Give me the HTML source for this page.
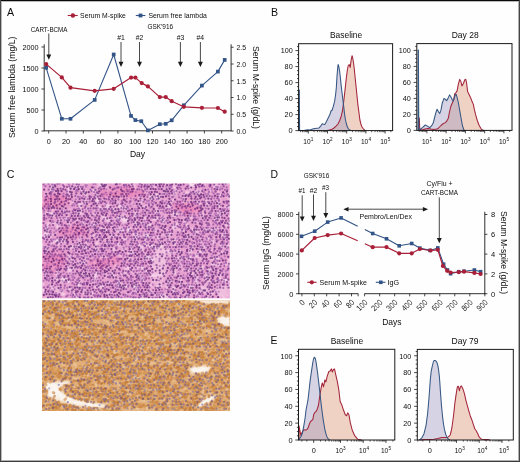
<!DOCTYPE html>
<html><head><meta charset="utf-8"><style>
html,body{margin:0;padding:0;background:#fff;}
svg{display:block;font-family:"Liberation Sans",sans-serif;}
text{-webkit-font-smoothing:antialiased;}
</style></head><body>
<div style="will-change:transform;width:520px;height:462px;background:#fff">
<svg width="520" height="462" viewBox="0 0 520 462">
<rect x="0" y="0" width="520" height="462" fill="#fefefe"/>
<text x="7.00" y="16.20" font-size="10.6" text-anchor="start" fill="#0d0d0d">A</text>
<line x1="67.70" y1="15.50" x2="77.70" y2="15.50" stroke="#a91f38" stroke-width="1.1"/>
<circle cx="72.90" cy="15.50" r="2.2" fill="#a91f38"/>
<text x="80.10" y="17.60" font-size="7.5" text-anchor="start" fill="#0d0d0d" textLength="45.80" lengthAdjust="spacingAndGlyphs">Serum M-spike</text>
<line x1="135.80" y1="15.50" x2="145.40" y2="15.50" stroke="#335487" stroke-width="1.1"/>
<rect x="138.60" y="13.60" width="3.8" height="3.8" fill="#335487"/>
<text x="148.40" y="17.60" font-size="7.5" text-anchor="start" fill="#0d0d0d" textLength="58.40" lengthAdjust="spacingAndGlyphs">Serum free lambda</text>
<text x="147.50" y="28.80" font-size="6.8" text-anchor="start" fill="#0d0d0d" textLength="25.60" lengthAdjust="spacingAndGlyphs">GSK'916</text>
<text x="30.70" y="31.60" font-size="6.7" text-anchor="start" fill="#0d0d0d" textLength="36.80" lengthAdjust="spacingAndGlyphs">CART-BCMA</text>
<text x="121.00" y="39.80" font-size="6.8" text-anchor="middle" fill="#0d0d0d" textLength="7.60" lengthAdjust="spacingAndGlyphs">#1</text>
<text x="139.50" y="39.80" font-size="6.8" text-anchor="middle" fill="#0d0d0d" textLength="7.60" lengthAdjust="spacingAndGlyphs">#2</text>
<text x="180.50" y="39.80" font-size="6.8" text-anchor="middle" fill="#0d0d0d" textLength="7.60" lengthAdjust="spacingAndGlyphs">#3</text>
<text x="200.30" y="39.80" font-size="6.8" text-anchor="middle" fill="#0d0d0d" textLength="7.60" lengthAdjust="spacingAndGlyphs">#4</text>
<line x1="48.80" y1="33.50" x2="48.80" y2="55.00" stroke="#1a1a1a" stroke-width="0.8"/>
<path d="M46.35,54.50 L51.25,54.50 L48.80,59.70 Z" fill="#1a1a1a"/>
<line x1="121.00" y1="42.00" x2="121.00" y2="62.20" stroke="#1a1a1a" stroke-width="0.8"/>
<path d="M118.55,61.70 L123.45,61.70 L121.00,66.90 Z" fill="#1a1a1a"/>
<line x1="139.50" y1="42.00" x2="139.50" y2="62.20" stroke="#1a1a1a" stroke-width="0.8"/>
<path d="M137.05,61.70 L141.95,61.70 L139.50,66.90 Z" fill="#1a1a1a"/>
<line x1="180.40" y1="42.00" x2="180.40" y2="62.20" stroke="#1a1a1a" stroke-width="0.8"/>
<path d="M177.95,61.70 L182.85,61.70 L180.40,66.90 Z" fill="#1a1a1a"/>
<line x1="200.40" y1="42.00" x2="200.40" y2="62.20" stroke="#1a1a1a" stroke-width="0.8"/>
<path d="M197.95,61.70 L202.85,61.70 L200.40,66.90 Z" fill="#1a1a1a"/>
<line x1="44.20" y1="44.30" x2="44.20" y2="131.20" stroke="#1a1a1a" stroke-width="0.9"/>
<line x1="43.80" y1="130.80" x2="231.30" y2="130.80" stroke="#1a1a1a" stroke-width="0.9"/>
<line x1="231.10" y1="44.30" x2="231.10" y2="131.20" stroke="#1a1a1a" stroke-width="0.9"/>
<line x1="41.40" y1="131.00" x2="44.20" y2="131.00" stroke="#1a1a1a" stroke-width="0.8"/>
<text x="38.60" y="133.80" font-size="8.1" text-anchor="end" fill="#0d0d0d" textLength="4.05" lengthAdjust="spacingAndGlyphs">0</text>
<line x1="41.40" y1="110.00" x2="44.20" y2="110.00" stroke="#1a1a1a" stroke-width="0.8"/>
<text x="38.60" y="112.80" font-size="8.1" text-anchor="end" fill="#0d0d0d" textLength="12.15" lengthAdjust="spacingAndGlyphs">500</text>
<line x1="41.40" y1="89.00" x2="44.20" y2="89.00" stroke="#1a1a1a" stroke-width="0.8"/>
<text x="38.60" y="91.80" font-size="8.1" text-anchor="end" fill="#0d0d0d" textLength="16.20" lengthAdjust="spacingAndGlyphs">1000</text>
<line x1="41.40" y1="68.00" x2="44.20" y2="68.00" stroke="#1a1a1a" stroke-width="0.8"/>
<text x="38.60" y="70.80" font-size="8.1" text-anchor="end" fill="#0d0d0d" textLength="16.20" lengthAdjust="spacingAndGlyphs">1500</text>
<line x1="41.40" y1="47.00" x2="44.20" y2="47.00" stroke="#1a1a1a" stroke-width="0.8"/>
<text x="38.60" y="49.80" font-size="8.1" text-anchor="end" fill="#0d0d0d" textLength="16.20" lengthAdjust="spacingAndGlyphs">2000</text>
<line x1="48.70" y1="130.80" x2="48.70" y2="133.50" stroke="#1a1a1a" stroke-width="0.8"/>
<text x="48.70" y="144.00" font-size="8.1" text-anchor="middle" fill="#0d0d0d" textLength="4.05" lengthAdjust="spacingAndGlyphs">0</text>
<line x1="66.00" y1="130.80" x2="66.00" y2="133.50" stroke="#1a1a1a" stroke-width="0.8"/>
<text x="66.00" y="144.00" font-size="8.1" text-anchor="middle" fill="#0d0d0d" textLength="8.10" lengthAdjust="spacingAndGlyphs">20</text>
<line x1="83.30" y1="130.80" x2="83.30" y2="133.50" stroke="#1a1a1a" stroke-width="0.8"/>
<text x="83.30" y="144.00" font-size="8.1" text-anchor="middle" fill="#0d0d0d" textLength="8.10" lengthAdjust="spacingAndGlyphs">40</text>
<line x1="100.60" y1="130.80" x2="100.60" y2="133.50" stroke="#1a1a1a" stroke-width="0.8"/>
<text x="100.60" y="144.00" font-size="8.1" text-anchor="middle" fill="#0d0d0d" textLength="8.10" lengthAdjust="spacingAndGlyphs">60</text>
<line x1="117.90" y1="130.80" x2="117.90" y2="133.50" stroke="#1a1a1a" stroke-width="0.8"/>
<text x="117.90" y="144.00" font-size="8.1" text-anchor="middle" fill="#0d0d0d" textLength="8.10" lengthAdjust="spacingAndGlyphs">80</text>
<line x1="135.20" y1="130.80" x2="135.20" y2="133.50" stroke="#1a1a1a" stroke-width="0.8"/>
<text x="135.20" y="144.00" font-size="8.1" text-anchor="middle" fill="#0d0d0d" textLength="12.15" lengthAdjust="spacingAndGlyphs">100</text>
<line x1="152.50" y1="130.80" x2="152.50" y2="133.50" stroke="#1a1a1a" stroke-width="0.8"/>
<text x="152.50" y="144.00" font-size="8.1" text-anchor="middle" fill="#0d0d0d" textLength="12.15" lengthAdjust="spacingAndGlyphs">120</text>
<line x1="169.80" y1="130.80" x2="169.80" y2="133.50" stroke="#1a1a1a" stroke-width="0.8"/>
<text x="169.80" y="144.00" font-size="8.1" text-anchor="middle" fill="#0d0d0d" textLength="12.15" lengthAdjust="spacingAndGlyphs">140</text>
<line x1="187.10" y1="130.80" x2="187.10" y2="133.50" stroke="#1a1a1a" stroke-width="0.8"/>
<text x="187.10" y="144.00" font-size="8.1" text-anchor="middle" fill="#0d0d0d" textLength="12.15" lengthAdjust="spacingAndGlyphs">160</text>
<line x1="204.40" y1="130.80" x2="204.40" y2="133.50" stroke="#1a1a1a" stroke-width="0.8"/>
<text x="204.40" y="144.00" font-size="8.1" text-anchor="middle" fill="#0d0d0d" textLength="12.15" lengthAdjust="spacingAndGlyphs">180</text>
<line x1="221.70" y1="130.80" x2="221.70" y2="133.50" stroke="#1a1a1a" stroke-width="0.8"/>
<text x="221.70" y="144.00" font-size="8.1" text-anchor="middle" fill="#0d0d0d" textLength="12.15" lengthAdjust="spacingAndGlyphs">200</text>
<line x1="231.10" y1="131.00" x2="233.60" y2="131.00" stroke="#1a1a1a" stroke-width="0.8"/>
<text x="236.40" y="133.80" font-size="8.1" text-anchor="start" fill="#0d0d0d" textLength="9.60" lengthAdjust="spacingAndGlyphs">0.0</text>
<line x1="231.10" y1="114.25" x2="233.60" y2="114.25" stroke="#1a1a1a" stroke-width="0.8"/>
<text x="236.40" y="117.05" font-size="8.1" text-anchor="start" fill="#0d0d0d" textLength="9.60" lengthAdjust="spacingAndGlyphs">0.5</text>
<line x1="231.10" y1="97.50" x2="233.60" y2="97.50" stroke="#1a1a1a" stroke-width="0.8"/>
<text x="236.40" y="100.30" font-size="8.1" text-anchor="start" fill="#0d0d0d" textLength="9.60" lengthAdjust="spacingAndGlyphs">1.0</text>
<line x1="231.10" y1="80.75" x2="233.60" y2="80.75" stroke="#1a1a1a" stroke-width="0.8"/>
<text x="236.40" y="83.55" font-size="8.1" text-anchor="start" fill="#0d0d0d" textLength="9.60" lengthAdjust="spacingAndGlyphs">1.5</text>
<line x1="231.10" y1="64.00" x2="233.60" y2="64.00" stroke="#1a1a1a" stroke-width="0.8"/>
<text x="236.40" y="66.80" font-size="8.1" text-anchor="start" fill="#0d0d0d" textLength="9.60" lengthAdjust="spacingAndGlyphs">2.0</text>
<line x1="231.10" y1="47.25" x2="233.60" y2="47.25" stroke="#1a1a1a" stroke-width="0.8"/>
<text x="236.40" y="50.05" font-size="8.1" text-anchor="start" fill="#0d0d0d" textLength="9.60" lengthAdjust="spacingAndGlyphs">2.5</text>
<text x="129.90" y="156.60" font-size="9.8" text-anchor="start" fill="#0d0d0d" textLength="15.20" lengthAdjust="spacingAndGlyphs">Day</text>
<text x="15.10" y="87.30" font-size="9.8" text-anchor="middle" fill="#0d0d0d" textLength="101.50" lengthAdjust="spacingAndGlyphs" transform="rotate(-90 15.10 87.30)">Serum free lambda (mg/L)</text>
<text x="252.60" y="87.50" font-size="9.8" text-anchor="middle" fill="#0d0d0d" textLength="83.00" lengthAdjust="spacingAndGlyphs" transform="rotate(90 252.60 87.50)">Serum M-spike (g/dL)</text>
<polyline points="46.20,67.80 61.80,118.80 70.50,118.80 94.70,99.90 113.70,54.50 131.00,115.90 135.40,120.10 141.30,121.20 147.90,130.40 159.80,124.20 165.75,123.80 171.70,120.30 183.80,105.30 201.90,85.60 217.90,71.60 224.70,59.90" fill="none" stroke="#335487" stroke-width="1.1" stroke-linejoin="round"/>
<rect x="44.35" y="65.95" width="3.7" height="3.7" fill="#335487"/>
<rect x="59.95" y="116.95" width="3.7" height="3.7" fill="#335487"/>
<rect x="68.65" y="116.95" width="3.7" height="3.7" fill="#335487"/>
<rect x="92.85" y="98.05" width="3.7" height="3.7" fill="#335487"/>
<rect x="111.85" y="52.65" width="3.7" height="3.7" fill="#335487"/>
<rect x="129.15" y="114.05" width="3.7" height="3.7" fill="#335487"/>
<rect x="133.55" y="118.25" width="3.7" height="3.7" fill="#335487"/>
<rect x="139.45" y="119.35" width="3.7" height="3.7" fill="#335487"/>
<rect x="146.05" y="128.55" width="3.7" height="3.7" fill="#335487"/>
<rect x="157.95" y="122.35" width="3.7" height="3.7" fill="#335487"/>
<rect x="163.90" y="121.95" width="3.7" height="3.7" fill="#335487"/>
<rect x="169.85" y="118.45" width="3.7" height="3.7" fill="#335487"/>
<rect x="181.95" y="103.45" width="3.7" height="3.7" fill="#335487"/>
<rect x="200.05" y="83.75" width="3.7" height="3.7" fill="#335487"/>
<rect x="216.05" y="69.75" width="3.7" height="3.7" fill="#335487"/>
<rect x="222.85" y="58.05" width="3.7" height="3.7" fill="#335487"/>
<polyline points="46.20,64.10 61.80,77.40 70.50,87.70 94.70,90.80 113.70,88.80 131.10,77.60 135.40,77.60 141.70,83.10 147.90,86.40 159.80,97.10 165.75,97.10 171.70,101.20 183.80,106.80 201.90,107.80 217.90,108.00 224.70,111.70" fill="none" stroke="#a91f38" stroke-width="1.2" stroke-linejoin="round"/>
<circle cx="46.20" cy="64.10" r="2.1" fill="#a91f38"/>
<circle cx="61.80" cy="77.40" r="2.1" fill="#a91f38"/>
<circle cx="70.50" cy="87.70" r="2.1" fill="#a91f38"/>
<circle cx="94.70" cy="90.80" r="2.1" fill="#a91f38"/>
<circle cx="113.70" cy="88.80" r="2.1" fill="#a91f38"/>
<circle cx="131.10" cy="77.60" r="2.1" fill="#a91f38"/>
<circle cx="135.40" cy="77.60" r="2.1" fill="#a91f38"/>
<circle cx="141.70" cy="83.10" r="2.1" fill="#a91f38"/>
<circle cx="147.90" cy="86.40" r="2.1" fill="#a91f38"/>
<circle cx="159.80" cy="97.10" r="2.1" fill="#a91f38"/>
<circle cx="165.75" cy="97.10" r="2.1" fill="#a91f38"/>
<circle cx="171.70" cy="101.20" r="2.1" fill="#a91f38"/>
<circle cx="183.80" cy="106.80" r="2.1" fill="#a91f38"/>
<circle cx="201.90" cy="107.80" r="2.1" fill="#a91f38"/>
<circle cx="217.90" cy="108.00" r="2.1" fill="#a91f38"/>
<circle cx="224.70" cy="111.70" r="2.1" fill="#a91f38"/>
<text x="270.90" y="16.30" font-size="10.6" text-anchor="start" fill="#0d0d0d">B</text>
<text x="330.00" y="38.10" font-size="9.8" text-anchor="start" fill="#0d0d0d" textLength="32.20" lengthAdjust="spacingAndGlyphs">Baseline</text>
<path d="M327.80,130.30 L329.30,130.00 L332.00,129.20 L334.00,128.00 L336.00,126.20 L338.00,124.00 L339.50,121.00 L341.00,117.00 L342.40,111.20 L343.40,104.00 L344.40,95.60 L345.40,86.50 L346.30,78.10 L347.30,70.50 L348.20,65.50 L349.20,64.50 L350.20,67.40 L351.20,59.60 L352.10,55.70 L352.80,58.50 L353.50,62.50 L354.30,69.00 L355.00,76.20 L355.80,84.00 L356.60,91.80 L357.30,99.00 L358.00,105.40 L359.00,113.00 L359.90,120.00 L360.90,124.00 L361.90,126.80 L363.30,128.80 L364.80,130.20 L366.00,130.60 L366.00,130.60 L327.80,130.60 Z" fill="#f0d2c4" fill-opacity="1.0" stroke="none"/>
<path d="M299.10,130.60 L299.10,90.00 L299.30,90.00 L299.60,130.50 L303.60,130.50 L307.90,129.80 L309.80,130.00 L312.70,129.00 L315.00,128.40 L318.90,128.10 L320.60,126.20 L322.20,123.80 L323.60,124.30 L324.80,124.50 L326.50,121.40 L328.40,117.60 L329.80,114.80 L331.00,111.00 L332.20,110.00 L333.10,107.10 L334.60,101.40 L335.50,95.50 L336.30,87.90 L337.00,76.20 L337.60,69.00 L338.10,64.50 L338.80,66.50 L339.50,70.30 L340.30,77.00 L341.00,83.90 L341.70,90.00 L342.40,95.60 L343.10,101.50 L343.80,107.30 L344.50,113.50 L345.30,119.00 L346.30,123.50 L347.30,126.80 L348.20,128.60 L349.20,129.70 L351.00,130.50 L351.00,130.60 L299.10,130.60 Z" fill="#9e98c2" fill-opacity="0.42" stroke="none"/>
<path d="M327.80,130.30 L329.30,130.00 L332.00,129.20 L334.00,128.00 L336.00,126.20 L338.00,124.00 L339.50,121.00 L341.00,117.00 L342.40,111.20 L343.40,104.00 L344.40,95.60 L345.40,86.50 L346.30,78.10 L347.30,70.50 L348.20,65.50 L349.20,64.50 L350.20,67.40 L351.20,59.60 L352.10,55.70 L352.80,58.50 L353.50,62.50 L354.30,69.00 L355.00,76.20 L355.80,84.00 L356.60,91.80 L357.30,99.00 L358.00,105.40 L359.00,113.00 L359.90,120.00 L360.90,124.00 L361.90,126.80 L363.30,128.80 L364.80,130.20 L366.00,130.60" fill="none" stroke="#a3243b" stroke-width="1.05" stroke-linejoin="round"/>
<path d="M299.10,130.60 L299.10,90.00 L299.30,90.00 L299.60,130.50 L303.60,130.50 L307.90,129.80 L309.80,130.00 L312.70,129.00 L315.00,128.40 L318.90,128.10 L320.60,126.20 L322.20,123.80 L323.60,124.30 L324.80,124.50 L326.50,121.40 L328.40,117.60 L329.80,114.80 L331.00,111.00 L332.20,110.00 L333.10,107.10 L334.60,101.40 L335.50,95.50 L336.30,87.90 L337.00,76.20 L337.60,69.00 L338.10,64.50 L338.80,66.50 L339.50,70.30 L340.30,77.00 L341.00,83.90 L341.70,90.00 L342.40,95.60 L343.10,101.50 L343.80,107.30 L344.50,113.50 L345.30,119.00 L346.30,123.50 L347.30,126.80 L348.20,128.60 L349.20,129.70 L351.00,130.50" fill="none" stroke="#365782" stroke-width="1.05" stroke-linejoin="round"/>
<rect x="298.60" y="43.70" width="94.00" height="86.90" fill="none" stroke="#1a1a1a" stroke-width="1.0"/>
<line x1="295.40" y1="130.60" x2="298.60" y2="130.60" stroke="#1a1a1a" stroke-width="0.8"/>
<text x="292.70" y="133.40" font-size="8.1" text-anchor="end" fill="#0d0d0d" textLength="4.15" lengthAdjust="spacingAndGlyphs">0</text>
<line x1="297.00" y1="126.60" x2="298.60" y2="126.60" stroke="#1a1a1a" stroke-width="0.8"/>
<line x1="297.00" y1="122.60" x2="298.60" y2="122.60" stroke="#1a1a1a" stroke-width="0.8"/>
<line x1="297.00" y1="118.60" x2="298.60" y2="118.60" stroke="#1a1a1a" stroke-width="0.8"/>
<line x1="295.40" y1="114.60" x2="298.60" y2="114.60" stroke="#1a1a1a" stroke-width="0.8"/>
<text x="292.70" y="117.40" font-size="8.1" text-anchor="end" fill="#0d0d0d" textLength="8.10" lengthAdjust="spacingAndGlyphs">20</text>
<line x1="297.00" y1="110.60" x2="298.60" y2="110.60" stroke="#1a1a1a" stroke-width="0.8"/>
<line x1="297.00" y1="106.60" x2="298.60" y2="106.60" stroke="#1a1a1a" stroke-width="0.8"/>
<line x1="297.00" y1="102.60" x2="298.60" y2="102.60" stroke="#1a1a1a" stroke-width="0.8"/>
<line x1="295.40" y1="98.60" x2="298.60" y2="98.60" stroke="#1a1a1a" stroke-width="0.8"/>
<text x="292.70" y="101.40" font-size="8.1" text-anchor="end" fill="#0d0d0d" textLength="8.10" lengthAdjust="spacingAndGlyphs">40</text>
<line x1="297.00" y1="94.60" x2="298.60" y2="94.60" stroke="#1a1a1a" stroke-width="0.8"/>
<line x1="297.00" y1="90.60" x2="298.60" y2="90.60" stroke="#1a1a1a" stroke-width="0.8"/>
<line x1="297.00" y1="86.60" x2="298.60" y2="86.60" stroke="#1a1a1a" stroke-width="0.8"/>
<line x1="295.40" y1="82.60" x2="298.60" y2="82.60" stroke="#1a1a1a" stroke-width="0.8"/>
<text x="292.70" y="85.40" font-size="8.1" text-anchor="end" fill="#0d0d0d" textLength="8.10" lengthAdjust="spacingAndGlyphs">60</text>
<line x1="297.00" y1="78.60" x2="298.60" y2="78.60" stroke="#1a1a1a" stroke-width="0.8"/>
<line x1="297.00" y1="74.60" x2="298.60" y2="74.60" stroke="#1a1a1a" stroke-width="0.8"/>
<line x1="297.00" y1="70.60" x2="298.60" y2="70.60" stroke="#1a1a1a" stroke-width="0.8"/>
<line x1="295.40" y1="66.60" x2="298.60" y2="66.60" stroke="#1a1a1a" stroke-width="0.8"/>
<text x="292.70" y="69.40" font-size="8.1" text-anchor="end" fill="#0d0d0d" textLength="8.10" lengthAdjust="spacingAndGlyphs">80</text>
<line x1="297.00" y1="62.60" x2="298.60" y2="62.60" stroke="#1a1a1a" stroke-width="0.8"/>
<line x1="297.00" y1="58.60" x2="298.60" y2="58.60" stroke="#1a1a1a" stroke-width="0.8"/>
<line x1="297.00" y1="54.60" x2="298.60" y2="54.60" stroke="#1a1a1a" stroke-width="0.8"/>
<line x1="295.40" y1="50.60" x2="298.60" y2="50.60" stroke="#1a1a1a" stroke-width="0.8"/>
<text x="292.70" y="53.40" font-size="8.1" text-anchor="end" fill="#0d0d0d" textLength="12.05" lengthAdjust="spacingAndGlyphs">100</text>
<line x1="297.00" y1="46.60" x2="298.60" y2="46.60" stroke="#1a1a1a" stroke-width="0.8"/>
<line x1="300.66" y1="130.60" x2="300.66" y2="132.20" stroke="#1a1a1a" stroke-width="0.7"/>
<line x1="302.52" y1="130.60" x2="302.52" y2="132.20" stroke="#1a1a1a" stroke-width="0.7"/>
<line x1="304.04" y1="130.60" x2="304.04" y2="132.20" stroke="#1a1a1a" stroke-width="0.7"/>
<line x1="305.33" y1="130.60" x2="305.33" y2="132.20" stroke="#1a1a1a" stroke-width="0.7"/>
<line x1="306.44" y1="130.60" x2="306.44" y2="132.20" stroke="#1a1a1a" stroke-width="0.7"/>
<line x1="307.42" y1="130.60" x2="307.42" y2="132.20" stroke="#1a1a1a" stroke-width="0.7"/>
<line x1="308.30" y1="130.60" x2="308.30" y2="133.50" stroke="#1a1a1a" stroke-width="0.8"/>
<line x1="314.08" y1="130.60" x2="314.08" y2="132.20" stroke="#1a1a1a" stroke-width="0.7"/>
<line x1="317.46" y1="130.60" x2="317.46" y2="132.20" stroke="#1a1a1a" stroke-width="0.7"/>
<line x1="319.86" y1="130.60" x2="319.86" y2="132.20" stroke="#1a1a1a" stroke-width="0.7"/>
<line x1="321.72" y1="130.60" x2="321.72" y2="132.20" stroke="#1a1a1a" stroke-width="0.7"/>
<line x1="323.24" y1="130.60" x2="323.24" y2="132.20" stroke="#1a1a1a" stroke-width="0.7"/>
<line x1="324.53" y1="130.60" x2="324.53" y2="132.20" stroke="#1a1a1a" stroke-width="0.7"/>
<line x1="325.64" y1="130.60" x2="325.64" y2="132.20" stroke="#1a1a1a" stroke-width="0.7"/>
<line x1="326.62" y1="130.60" x2="326.62" y2="132.20" stroke="#1a1a1a" stroke-width="0.7"/>
<line x1="327.50" y1="130.60" x2="327.50" y2="133.50" stroke="#1a1a1a" stroke-width="0.8"/>
<line x1="333.28" y1="130.60" x2="333.28" y2="132.20" stroke="#1a1a1a" stroke-width="0.7"/>
<line x1="336.66" y1="130.60" x2="336.66" y2="132.20" stroke="#1a1a1a" stroke-width="0.7"/>
<line x1="339.06" y1="130.60" x2="339.06" y2="132.20" stroke="#1a1a1a" stroke-width="0.7"/>
<line x1="340.92" y1="130.60" x2="340.92" y2="132.20" stroke="#1a1a1a" stroke-width="0.7"/>
<line x1="342.44" y1="130.60" x2="342.44" y2="132.20" stroke="#1a1a1a" stroke-width="0.7"/>
<line x1="343.73" y1="130.60" x2="343.73" y2="132.20" stroke="#1a1a1a" stroke-width="0.7"/>
<line x1="344.84" y1="130.60" x2="344.84" y2="132.20" stroke="#1a1a1a" stroke-width="0.7"/>
<line x1="345.82" y1="130.60" x2="345.82" y2="132.20" stroke="#1a1a1a" stroke-width="0.7"/>
<line x1="346.70" y1="130.60" x2="346.70" y2="133.50" stroke="#1a1a1a" stroke-width="0.8"/>
<line x1="352.48" y1="130.60" x2="352.48" y2="132.20" stroke="#1a1a1a" stroke-width="0.7"/>
<line x1="355.86" y1="130.60" x2="355.86" y2="132.20" stroke="#1a1a1a" stroke-width="0.7"/>
<line x1="358.26" y1="130.60" x2="358.26" y2="132.20" stroke="#1a1a1a" stroke-width="0.7"/>
<line x1="360.12" y1="130.60" x2="360.12" y2="132.20" stroke="#1a1a1a" stroke-width="0.7"/>
<line x1="361.64" y1="130.60" x2="361.64" y2="132.20" stroke="#1a1a1a" stroke-width="0.7"/>
<line x1="362.93" y1="130.60" x2="362.93" y2="132.20" stroke="#1a1a1a" stroke-width="0.7"/>
<line x1="364.04" y1="130.60" x2="364.04" y2="132.20" stroke="#1a1a1a" stroke-width="0.7"/>
<line x1="365.02" y1="130.60" x2="365.02" y2="132.20" stroke="#1a1a1a" stroke-width="0.7"/>
<line x1="365.90" y1="130.60" x2="365.90" y2="133.50" stroke="#1a1a1a" stroke-width="0.8"/>
<line x1="371.68" y1="130.60" x2="371.68" y2="132.20" stroke="#1a1a1a" stroke-width="0.7"/>
<line x1="375.06" y1="130.60" x2="375.06" y2="132.20" stroke="#1a1a1a" stroke-width="0.7"/>
<line x1="377.46" y1="130.60" x2="377.46" y2="132.20" stroke="#1a1a1a" stroke-width="0.7"/>
<line x1="379.32" y1="130.60" x2="379.32" y2="132.20" stroke="#1a1a1a" stroke-width="0.7"/>
<line x1="380.84" y1="130.60" x2="380.84" y2="132.20" stroke="#1a1a1a" stroke-width="0.7"/>
<line x1="382.13" y1="130.60" x2="382.13" y2="132.20" stroke="#1a1a1a" stroke-width="0.7"/>
<line x1="383.24" y1="130.60" x2="383.24" y2="132.20" stroke="#1a1a1a" stroke-width="0.7"/>
<line x1="384.22" y1="130.60" x2="384.22" y2="132.20" stroke="#1a1a1a" stroke-width="0.7"/>
<line x1="385.10" y1="130.60" x2="385.10" y2="133.50" stroke="#1a1a1a" stroke-width="0.8"/>
<line x1="390.88" y1="130.60" x2="390.88" y2="132.20" stroke="#1a1a1a" stroke-width="0.7"/>
<text x="303.35" y="143.70" font-size="8.1" text-anchor="start" fill="#0d0d0d" textLength="7.30" lengthAdjust="spacingAndGlyphs">10</text>
<text x="310.85" y="140.70" font-size="5.0" text-anchor="start" fill="#0d0d0d" textLength="2.60" lengthAdjust="spacingAndGlyphs">1</text>
<text x="322.55" y="143.70" font-size="8.1" text-anchor="start" fill="#0d0d0d" textLength="7.30" lengthAdjust="spacingAndGlyphs">10</text>
<text x="330.05" y="140.70" font-size="5.0" text-anchor="start" fill="#0d0d0d" textLength="2.60" lengthAdjust="spacingAndGlyphs">2</text>
<text x="341.75" y="143.70" font-size="8.1" text-anchor="start" fill="#0d0d0d" textLength="7.30" lengthAdjust="spacingAndGlyphs">10</text>
<text x="349.25" y="140.70" font-size="5.0" text-anchor="start" fill="#0d0d0d" textLength="2.60" lengthAdjust="spacingAndGlyphs">3</text>
<text x="360.95" y="143.70" font-size="8.1" text-anchor="start" fill="#0d0d0d" textLength="7.30" lengthAdjust="spacingAndGlyphs">10</text>
<text x="368.45" y="140.70" font-size="5.0" text-anchor="start" fill="#0d0d0d" textLength="2.60" lengthAdjust="spacingAndGlyphs">4</text>
<text x="380.15" y="143.70" font-size="8.1" text-anchor="start" fill="#0d0d0d" textLength="7.30" lengthAdjust="spacingAndGlyphs">10</text>
<text x="387.65" y="140.70" font-size="5.0" text-anchor="start" fill="#0d0d0d" textLength="2.60" lengthAdjust="spacingAndGlyphs">5</text>
<text x="451.70" y="38.45" font-size="9.8" text-anchor="start" fill="#0d0d0d" textLength="27.00" lengthAdjust="spacingAndGlyphs">Day 28</text>
<path d="M418.60,130.30 L418.60,118.00 L419.30,118.00 L419.80,129.60 L421.50,130.00 L423.50,129.60 L425.10,129.10 L428.00,128.40 L430.90,129.10 L433.50,129.40 L436.60,129.10 L438.10,128.40 L439.50,127.00 L441.00,125.50 L443.10,123.70 L445.30,122.60 L446.70,121.20 L448.20,118.60 L449.60,111.50 L450.80,106.50 L452.20,103.20 L453.70,99.60 L454.70,93.80 L456.10,92.40 L457.10,90.90 L458.30,84.40 L459.70,79.40 L460.90,81.50 L461.90,85.90 L463.30,83.70 L464.80,79.80 L465.80,79.40 L466.60,83.00 L467.60,91.60 L469.10,94.50 L470.50,97.40 L471.90,101.00 L473.40,104.60 L474.40,109.70 L475.60,114.70 L477.30,120.50 L479.20,125.50 L481.10,128.80 L482.50,130.10 L484.00,130.40 L484.00,130.40 L418.60,130.40 Z" fill="#f0d2c4" fill-opacity="1.0" stroke="none"/>
<path d="M418.10,130.30 L418.10,49.90 L418.40,49.90 L418.80,129.80 L420.00,129.50 L422.70,127.30 L425.30,125.00 L427.10,125.90 L429.80,127.70 L431.50,125.90 L433.30,122.80 L434.60,117.50 L436.00,112.20 L437.10,109.30 L438.20,111.30 L439.70,113.50 L440.90,110.40 L442.20,103.30 L444.00,98.40 L445.30,99.30 L446.60,100.60 L448.00,98.40 L449.50,94.90 L450.80,96.70 L452.20,99.60 L453.20,101.00 L454.20,98.10 L455.40,94.50 L456.10,94.20 L457.10,97.40 L458.30,102.50 L459.70,110.40 L461.20,119.00 L462.60,126.30 L464.00,130.10 L465.00,130.40 L465.00,130.40 L418.10,130.40 Z" fill="#9e98c2" fill-opacity="0.42" stroke="none"/>
<path d="M418.60,130.30 L418.60,118.00 L419.30,118.00 L419.80,129.60 L421.50,130.00 L423.50,129.60 L425.10,129.10 L428.00,128.40 L430.90,129.10 L433.50,129.40 L436.60,129.10 L438.10,128.40 L439.50,127.00 L441.00,125.50 L443.10,123.70 L445.30,122.60 L446.70,121.20 L448.20,118.60 L449.60,111.50 L450.80,106.50 L452.20,103.20 L453.70,99.60 L454.70,93.80 L456.10,92.40 L457.10,90.90 L458.30,84.40 L459.70,79.40 L460.90,81.50 L461.90,85.90 L463.30,83.70 L464.80,79.80 L465.80,79.40 L466.60,83.00 L467.60,91.60 L469.10,94.50 L470.50,97.40 L471.90,101.00 L473.40,104.60 L474.40,109.70 L475.60,114.70 L477.30,120.50 L479.20,125.50 L481.10,128.80 L482.50,130.10 L484.00,130.40" fill="none" stroke="#a3243b" stroke-width="1.05" stroke-linejoin="round"/>
<path d="M418.10,130.30 L418.10,49.90 L418.40,49.90 L418.80,129.80 L420.00,129.50 L422.70,127.30 L425.30,125.00 L427.10,125.90 L429.80,127.70 L431.50,125.90 L433.30,122.80 L434.60,117.50 L436.00,112.20 L437.10,109.30 L438.20,111.30 L439.70,113.50 L440.90,110.40 L442.20,103.30 L444.00,98.40 L445.30,99.30 L446.60,100.60 L448.00,98.40 L449.50,94.90 L450.80,96.70 L452.20,99.60 L453.20,101.00 L454.20,98.10 L455.40,94.50 L456.10,94.20 L457.10,97.40 L458.30,102.50 L459.70,110.40 L461.20,119.00 L462.60,126.30 L464.00,130.10 L465.00,130.40" fill="none" stroke="#365782" stroke-width="1.05" stroke-linejoin="round"/>
<rect x="416.80" y="43.60" width="95.20" height="86.80" fill="none" stroke="#1a1a1a" stroke-width="1.0"/>
<line x1="413.60" y1="130.40" x2="416.80" y2="130.40" stroke="#1a1a1a" stroke-width="0.8"/>
<text x="410.90" y="133.20" font-size="8.1" text-anchor="end" fill="#0d0d0d" textLength="4.15" lengthAdjust="spacingAndGlyphs">0</text>
<line x1="415.20" y1="126.40" x2="416.80" y2="126.40" stroke="#1a1a1a" stroke-width="0.8"/>
<line x1="415.20" y1="122.40" x2="416.80" y2="122.40" stroke="#1a1a1a" stroke-width="0.8"/>
<line x1="415.20" y1="118.40" x2="416.80" y2="118.40" stroke="#1a1a1a" stroke-width="0.8"/>
<line x1="413.60" y1="114.40" x2="416.80" y2="114.40" stroke="#1a1a1a" stroke-width="0.8"/>
<text x="410.90" y="117.20" font-size="8.1" text-anchor="end" fill="#0d0d0d" textLength="8.10" lengthAdjust="spacingAndGlyphs">20</text>
<line x1="415.20" y1="110.40" x2="416.80" y2="110.40" stroke="#1a1a1a" stroke-width="0.8"/>
<line x1="415.20" y1="106.40" x2="416.80" y2="106.40" stroke="#1a1a1a" stroke-width="0.8"/>
<line x1="415.20" y1="102.40" x2="416.80" y2="102.40" stroke="#1a1a1a" stroke-width="0.8"/>
<line x1="413.60" y1="98.40" x2="416.80" y2="98.40" stroke="#1a1a1a" stroke-width="0.8"/>
<text x="410.90" y="101.20" font-size="8.1" text-anchor="end" fill="#0d0d0d" textLength="8.10" lengthAdjust="spacingAndGlyphs">40</text>
<line x1="415.20" y1="94.40" x2="416.80" y2="94.40" stroke="#1a1a1a" stroke-width="0.8"/>
<line x1="415.20" y1="90.40" x2="416.80" y2="90.40" stroke="#1a1a1a" stroke-width="0.8"/>
<line x1="415.20" y1="86.40" x2="416.80" y2="86.40" stroke="#1a1a1a" stroke-width="0.8"/>
<line x1="413.60" y1="82.40" x2="416.80" y2="82.40" stroke="#1a1a1a" stroke-width="0.8"/>
<text x="410.90" y="85.20" font-size="8.1" text-anchor="end" fill="#0d0d0d" textLength="8.10" lengthAdjust="spacingAndGlyphs">60</text>
<line x1="415.20" y1="78.40" x2="416.80" y2="78.40" stroke="#1a1a1a" stroke-width="0.8"/>
<line x1="415.20" y1="74.40" x2="416.80" y2="74.40" stroke="#1a1a1a" stroke-width="0.8"/>
<line x1="415.20" y1="70.40" x2="416.80" y2="70.40" stroke="#1a1a1a" stroke-width="0.8"/>
<line x1="413.60" y1="66.40" x2="416.80" y2="66.40" stroke="#1a1a1a" stroke-width="0.8"/>
<text x="410.90" y="69.20" font-size="8.1" text-anchor="end" fill="#0d0d0d" textLength="8.10" lengthAdjust="spacingAndGlyphs">80</text>
<line x1="415.20" y1="62.40" x2="416.80" y2="62.40" stroke="#1a1a1a" stroke-width="0.8"/>
<line x1="415.20" y1="58.40" x2="416.80" y2="58.40" stroke="#1a1a1a" stroke-width="0.8"/>
<line x1="415.20" y1="54.40" x2="416.80" y2="54.40" stroke="#1a1a1a" stroke-width="0.8"/>
<line x1="413.60" y1="50.40" x2="416.80" y2="50.40" stroke="#1a1a1a" stroke-width="0.8"/>
<text x="410.90" y="53.20" font-size="8.1" text-anchor="end" fill="#0d0d0d" textLength="12.05" lengthAdjust="spacingAndGlyphs">100</text>
<line x1="415.20" y1="46.40" x2="416.80" y2="46.40" stroke="#1a1a1a" stroke-width="0.8"/>
<line x1="419.24" y1="130.40" x2="419.24" y2="132.00" stroke="#1a1a1a" stroke-width="0.7"/>
<line x1="421.11" y1="130.40" x2="421.11" y2="132.00" stroke="#1a1a1a" stroke-width="0.7"/>
<line x1="422.63" y1="130.40" x2="422.63" y2="132.00" stroke="#1a1a1a" stroke-width="0.7"/>
<line x1="423.92" y1="130.40" x2="423.92" y2="132.00" stroke="#1a1a1a" stroke-width="0.7"/>
<line x1="425.03" y1="130.40" x2="425.03" y2="132.00" stroke="#1a1a1a" stroke-width="0.7"/>
<line x1="426.02" y1="130.40" x2="426.02" y2="132.00" stroke="#1a1a1a" stroke-width="0.7"/>
<line x1="426.90" y1="130.40" x2="426.90" y2="133.30" stroke="#1a1a1a" stroke-width="0.8"/>
<line x1="432.69" y1="130.40" x2="432.69" y2="132.00" stroke="#1a1a1a" stroke-width="0.7"/>
<line x1="436.08" y1="130.40" x2="436.08" y2="132.00" stroke="#1a1a1a" stroke-width="0.7"/>
<line x1="438.49" y1="130.40" x2="438.49" y2="132.00" stroke="#1a1a1a" stroke-width="0.7"/>
<line x1="440.36" y1="130.40" x2="440.36" y2="132.00" stroke="#1a1a1a" stroke-width="0.7"/>
<line x1="441.88" y1="130.40" x2="441.88" y2="132.00" stroke="#1a1a1a" stroke-width="0.7"/>
<line x1="443.17" y1="130.40" x2="443.17" y2="132.00" stroke="#1a1a1a" stroke-width="0.7"/>
<line x1="444.28" y1="130.40" x2="444.28" y2="132.00" stroke="#1a1a1a" stroke-width="0.7"/>
<line x1="445.27" y1="130.40" x2="445.27" y2="132.00" stroke="#1a1a1a" stroke-width="0.7"/>
<line x1="446.15" y1="130.40" x2="446.15" y2="133.30" stroke="#1a1a1a" stroke-width="0.8"/>
<line x1="451.94" y1="130.40" x2="451.94" y2="132.00" stroke="#1a1a1a" stroke-width="0.7"/>
<line x1="455.33" y1="130.40" x2="455.33" y2="132.00" stroke="#1a1a1a" stroke-width="0.7"/>
<line x1="457.74" y1="130.40" x2="457.74" y2="132.00" stroke="#1a1a1a" stroke-width="0.7"/>
<line x1="459.61" y1="130.40" x2="459.61" y2="132.00" stroke="#1a1a1a" stroke-width="0.7"/>
<line x1="461.13" y1="130.40" x2="461.13" y2="132.00" stroke="#1a1a1a" stroke-width="0.7"/>
<line x1="462.42" y1="130.40" x2="462.42" y2="132.00" stroke="#1a1a1a" stroke-width="0.7"/>
<line x1="463.53" y1="130.40" x2="463.53" y2="132.00" stroke="#1a1a1a" stroke-width="0.7"/>
<line x1="464.52" y1="130.40" x2="464.52" y2="132.00" stroke="#1a1a1a" stroke-width="0.7"/>
<line x1="465.40" y1="130.40" x2="465.40" y2="133.30" stroke="#1a1a1a" stroke-width="0.8"/>
<line x1="471.19" y1="130.40" x2="471.19" y2="132.00" stroke="#1a1a1a" stroke-width="0.7"/>
<line x1="474.58" y1="130.40" x2="474.58" y2="132.00" stroke="#1a1a1a" stroke-width="0.7"/>
<line x1="476.99" y1="130.40" x2="476.99" y2="132.00" stroke="#1a1a1a" stroke-width="0.7"/>
<line x1="478.86" y1="130.40" x2="478.86" y2="132.00" stroke="#1a1a1a" stroke-width="0.7"/>
<line x1="480.38" y1="130.40" x2="480.38" y2="132.00" stroke="#1a1a1a" stroke-width="0.7"/>
<line x1="481.67" y1="130.40" x2="481.67" y2="132.00" stroke="#1a1a1a" stroke-width="0.7"/>
<line x1="482.78" y1="130.40" x2="482.78" y2="132.00" stroke="#1a1a1a" stroke-width="0.7"/>
<line x1="483.77" y1="130.40" x2="483.77" y2="132.00" stroke="#1a1a1a" stroke-width="0.7"/>
<line x1="484.65" y1="130.40" x2="484.65" y2="133.30" stroke="#1a1a1a" stroke-width="0.8"/>
<line x1="490.44" y1="130.40" x2="490.44" y2="132.00" stroke="#1a1a1a" stroke-width="0.7"/>
<line x1="493.83" y1="130.40" x2="493.83" y2="132.00" stroke="#1a1a1a" stroke-width="0.7"/>
<line x1="496.24" y1="130.40" x2="496.24" y2="132.00" stroke="#1a1a1a" stroke-width="0.7"/>
<line x1="498.11" y1="130.40" x2="498.11" y2="132.00" stroke="#1a1a1a" stroke-width="0.7"/>
<line x1="499.63" y1="130.40" x2="499.63" y2="132.00" stroke="#1a1a1a" stroke-width="0.7"/>
<line x1="500.92" y1="130.40" x2="500.92" y2="132.00" stroke="#1a1a1a" stroke-width="0.7"/>
<line x1="502.03" y1="130.40" x2="502.03" y2="132.00" stroke="#1a1a1a" stroke-width="0.7"/>
<line x1="503.02" y1="130.40" x2="503.02" y2="132.00" stroke="#1a1a1a" stroke-width="0.7"/>
<line x1="503.90" y1="130.40" x2="503.90" y2="133.30" stroke="#1a1a1a" stroke-width="0.8"/>
<line x1="509.69" y1="130.40" x2="509.69" y2="132.00" stroke="#1a1a1a" stroke-width="0.7"/>
<text x="421.95" y="143.70" font-size="8.1" text-anchor="start" fill="#0d0d0d" textLength="7.30" lengthAdjust="spacingAndGlyphs">10</text>
<text x="429.45" y="140.70" font-size="5.0" text-anchor="start" fill="#0d0d0d" textLength="2.60" lengthAdjust="spacingAndGlyphs">1</text>
<text x="441.20" y="143.70" font-size="8.1" text-anchor="start" fill="#0d0d0d" textLength="7.30" lengthAdjust="spacingAndGlyphs">10</text>
<text x="448.70" y="140.70" font-size="5.0" text-anchor="start" fill="#0d0d0d" textLength="2.60" lengthAdjust="spacingAndGlyphs">2</text>
<text x="460.45" y="143.70" font-size="8.1" text-anchor="start" fill="#0d0d0d" textLength="7.30" lengthAdjust="spacingAndGlyphs">10</text>
<text x="467.95" y="140.70" font-size="5.0" text-anchor="start" fill="#0d0d0d" textLength="2.60" lengthAdjust="spacingAndGlyphs">3</text>
<text x="479.70" y="143.70" font-size="8.1" text-anchor="start" fill="#0d0d0d" textLength="7.30" lengthAdjust="spacingAndGlyphs">10</text>
<text x="487.20" y="140.70" font-size="5.0" text-anchor="start" fill="#0d0d0d" textLength="2.60" lengthAdjust="spacingAndGlyphs">4</text>
<text x="498.95" y="143.70" font-size="8.1" text-anchor="start" fill="#0d0d0d" textLength="7.30" lengthAdjust="spacingAndGlyphs">10</text>
<text x="506.45" y="140.70" font-size="5.0" text-anchor="start" fill="#0d0d0d" textLength="2.60" lengthAdjust="spacingAndGlyphs">5</text>
<text x="6.70" y="177.70" font-size="10.6" text-anchor="start" fill="#0d0d0d">C</text>
<defs><filter id="b1" x="-20%" y="-20%" width="140%" height="140%"><feGaussianBlur stdDeviation="1"/></filter><filter id="b2" x="-20%" y="-20%" width="140%" height="140%"><feGaussianBlur stdDeviation="2"/></filter><filter id="b3" x="-20%" y="-20%" width="140%" height="140%"><feGaussianBlur stdDeviation="3"/></filter><filter id="bs" x="-5%" y="-5%" width="110%" height="110%"><feGaussianBlur stdDeviation="0.4"/></filter><filter id="bs2" x="-5%" y="-5%" width="110%" height="110%"><feGaussianBlur stdDeviation="0.55"/></filter><filter id="tHE" x="0" y="0" width="100%" height="100%"><feTurbulence type="fractalNoise" baseFrequency="0.18" numOctaves="2" seed="7"/><feColorMatrix type="matrix" values="0 0 0 0 0.95  0 0 0 0 0.76  0 0 0 0 0.88  2.6 0 0 0 -1.25"/></filter><filter id="tIH" x="0" y="0" width="100%" height="100%"><feTurbulence type="fractalNoise" baseFrequency="0.2 0.28" numOctaves="2" seed="11"/><feColorMatrix type="matrix" values="0 0 0 0 0.62  0 0 0 0 0.33  0 0 0 0 0.10  2.8 0 0 0 -1.12"/></filter><filter id="tIH2" x="0" y="0" width="100%" height="100%"><feTurbulence type="fractalNoise" baseFrequency="0.18 0.26" numOctaves="2" seed="5"/><feColorMatrix type="matrix" values="0 0 0 0 0.90  0 0 0 0 0.74  0 0 0 0 0.55  2.8 0 0 0 -1.4"/></filter><clipPath id="cHE"><rect x="42.1" y="183.2" width="187.8" height="115.4"/></clipPath><clipPath id="cIH"><rect x="42.1" y="300.1" width="187.8" height="110.8"/></clipPath></defs>
<g clip-path="url(#cHE)"><g filter="url(#bs)">
<rect x="42.1" y="183.2" width="187.8" height="115.4" fill="#e8a2d0"/>
<rect x="42.1" y="183.2" width="187.8" height="115.4" filter="url(#tHE)"/>
<path d="M42.0,196.0 L60.0,193.0 L75.0,200.0 L62.0,208.0 L42.0,210.0 Z" fill="#e8679f" fill-opacity="0.45" filter="url(#b2)"/>
<path d="M60.0,228.0 L80.0,224.0 L92.0,232.0 L75.0,238.0 L58.0,236.0 Z" fill="#e8679f" fill-opacity="0.45" filter="url(#b2)"/>
<path d="M42.0,255.0 L60.0,250.0 L70.0,262.0 L55.0,272.0 L42.0,270.0 Z" fill="#e8679f" fill-opacity="0.45" filter="url(#b2)"/>
<path d="M100.0,190.0 L130.0,186.0 L150.0,195.0 L125.0,199.0 L100.0,197.0 Z" fill="#e8679f" fill-opacity="0.45" filter="url(#b2)"/>
<path d="M85.0,262.0 L115.0,255.0 L125.0,262.0 L100.0,270.0 Z" fill="#e8679f" fill-opacity="0.45" filter="url(#b2)"/>
<path d="M170.0,205.0 L190.0,200.0 L205.0,212.0 L185.0,216.0 Z" fill="#e8679f" fill-opacity="0.45" filter="url(#b2)"/>
<path d="M154.0,246.0 L162.0,240.0 L168.0,250.0 L166.0,270.0 L162.0,288.0 L154.0,284.0 L152.0,262.0 Z" fill="#f3cfe6" fill-opacity="0.6" filter="url(#b2)"/>
<path d="M218.0,286.0 L228.0,284.0 L230.0,298.0 L218.0,298.0 Z" fill="#f3cfe6" fill-opacity="0.6" filter="url(#b2)"/>
<path d="M202.0,284.0 L210.0,283.0 L210.0,292.0 L202.0,292.0 Z" fill="#f3cfe6" fill-opacity="0.6" filter="url(#b2)"/>
<path d="M66.0,258.0 L73.0,257.0 L73.0,264.0 L66.0,264.0 Z" fill="#f3cfe6" fill-opacity="0.6" filter="url(#b2)"/>
<path d="M55.0,287.0 L62.0,286.0 L62.0,293.0 L55.0,293.0 Z" fill="#f3cfe6" fill-opacity="0.6" filter="url(#b2)"/>
<path d="M73.0,184.0 L82.0,184.0 L82.0,188.0 L73.0,188.0 Z" fill="#f3cfe6" fill-opacity="0.6" filter="url(#b2)"/>
<path d="M120.0,215.0 L126.0,213.0 L128.0,222.0 L121.0,224.0 Z" fill="#f3cfe6" fill-opacity="0.6" filter="url(#b2)"/>
<path d="M101.7 184.4h0M104.4 185.2h0M115.8 184.3h0M156.0 185.0h0M159.4 184.3h0M167.1 185.1h0M172.1 184.6h0M180.6 185.0h0M195.4 185.3h0M200.0 184.1h0M202.6 185.1h0M210.4 185.0h0M222.7 184.3h0M53.1 187.4h0M55.3 186.4h0M72.2 186.3h0M92.2 187.4h0M102.7 186.2h0M104.6 186.3h0M110.1 187.5h0M144.5 186.4h0M148.8 186.6h0M160.0 186.5h0M187.4 186.6h0M191.2 187.6h0M196.0 187.3h0M44.1 189.6h0M57.6 189.1h0M70.6 188.7h0M74.1 188.9h0M78.7 189.2h0M82.1 188.9h0M112.7 189.6h0M121.1 189.7h0M131.9 189.3h0M133.5 188.9h0M150.7 188.9h0M153.3 188.8h0M155.7 189.3h0M161.6 189.2h0M166.6 189.3h0M169.7 188.8h0M185.7 188.6h0M205.4 189.9h0M217.2 189.3h0M56.0 191.1h0M58.2 191.0h0M61.5 191.0h0M70.1 191.8h0M71.7 192.3h0M83.5 191.7h0M86.3 192.3h0M88.8 192.1h0M99.2 191.3h0M122.5 191.2h0M132.5 191.6h0M151.7 192.2h0M154.9 191.8h0M163.9 191.0h0M165.7 191.5h0M168.0 191.5h0M171.2 191.4h0M193.2 191.8h0M223.1 192.4h0M226.9 191.5h0M46.1 193.8h0M49.7 193.5h0M54.7 194.7h0M58.0 193.5h0M59.6 194.2h0M67.5 194.6h0M71.5 194.7h0M81.4 193.6h0M85.4 193.5h0M110.2 194.7h0M115.6 193.5h0M139.4 194.9h0M150.6 194.3h0M154.0 194.6h0M159.7 193.9h0M189.7 194.3h0M201.0 194.5h0M203.4 194.9h0M56.5 196.4h0M71.9 196.9h0M89.6 196.5h0M100.4 196.1h0M113.6 196.6h0M116.5 196.4h0M118.8 196.9h0M123.9 196.5h0M144.0 196.6h0M152.4 196.9h0M163.0 197.0h0M166.0 196.4h0M185.3 196.0h0M188.5 196.0h0M195.7 196.9h0M199.2 196.0h0M201.3 197.3h0M215.0 195.8h0M217.6 196.6h0M223.5 196.2h0M229.3 196.4h0M46.0 199.7h0M50.9 198.9h0M55.1 199.6h0M59.4 199.1h0M66.2 198.4h0M84.3 198.9h0M89.7 198.7h0M93.1 199.1h0M104.3 198.6h0M112.2 198.8h0M123.7 199.6h0M140.5 198.6h0M144.8 199.6h0M158.6 198.5h0M169.4 198.8h0M175.1 199.6h0M185.9 199.1h0M191.4 198.7h0M200.2 198.3h0M208.3 198.7h0M51.0 201.4h0M61.4 202.0h0M75.1 201.6h0M92.3 201.2h0M115.6 200.8h0M138.4 201.1h0M160.5 202.1h0M168.9 201.9h0M185.3 201.3h0M191.2 201.9h0M195.6 201.6h0M223.7 201.9h0M228.5 201.4h0M51.1 204.2h0M64.8 204.5h0M86.9 204.1h0M93.6 204.2h0M95.6 203.3h0M112.7 203.5h0M115.2 203.0h0M122.5 203.1h0M136.8 203.9h0M139.6 204.1h0M162.1 203.5h0M169.6 204.0h0M203.7 203.9h0M209.1 203.2h0M216.9 203.2h0M53.1 206.5h0M56.6 205.4h0M61.9 206.2h0M91.4 205.8h0M96.8 205.6h0M110.5 206.8h0M141.2 205.8h0M157.5 205.5h0M160.1 206.2h0M162.8 206.7h0M166.4 206.2h0M176.5 206.6h0M185.3 206.4h0M192.7 205.5h0M204.1 205.6h0M217.5 206.2h0M222.9 205.8h0M48.9 208.7h0M51.7 208.0h0M60.0 208.7h0M65.8 208.3h0M115.4 209.2h0M118.4 209.2h0M132.1 208.9h0M139.0 208.2h0M142.6 208.1h0M153.7 209.0h0M178.2 208.6h0M197.3 208.0h0M200.6 207.8h0M202.5 208.9h0M214.2 208.2h0M220.3 208.9h0M55.9 211.7h0M61.9 211.4h0M75.1 210.2h0M77.9 210.9h0M80.0 210.7h0M118.9 211.6h0M146.8 210.3h0M158.0 211.2h0M199.2 211.3h0M201.1 210.4h0M215.6 211.1h0M223.9 210.6h0M47.0 214.1h0M73.3 213.3h0M78.7 213.7h0M86.8 214.0h0M101.7 213.5h0M106.7 213.6h0M114.9 212.8h0M129.1 213.7h0M137.3 213.8h0M145.1 212.6h0M175.3 212.5h0M187.2 212.9h0M205.2 212.7h0M222.0 213.8h0M224.9 213.2h0M52.3 215.6h0M59.0 215.3h0M66.6 215.1h0M71.8 215.9h0M78.0 215.9h0M105.9 215.4h0M119.4 216.3h0M143.5 215.7h0M148.9 215.9h0M155.4 215.4h0M158.3 215.3h0M169.4 215.8h0M174.9 214.9h0M187.8 215.8h0M210.4 215.6h0M226.9 215.6h0M73.1 218.6h0M79.3 218.7h0M81.8 218.3h0M88.1 217.3h0M134.7 218.3h0M137.5 217.5h0M140.2 217.9h0M142.5 218.0h0M147.6 217.8h0M167.7 217.8h0M170.2 217.7h0M202.8 218.1h0M217.5 217.5h0M224.5 218.1h0M50.3 220.9h0M74.6 219.7h0M96.7 220.7h0M111.3 220.8h0M128.0 221.1h0M135.0 219.9h0M141.7 220.9h0M149.1 220.5h0M174.4 220.0h0M179.2 219.8h0M181.8 220.2h0M185.3 219.9h0M193.6 220.0h0M207.7 220.1h0M57.4 222.7h0M60.6 223.1h0M67.9 222.2h0M77.0 222.5h0M87.3 222.1h0M95.7 223.4h0M98.5 222.4h0M128.6 223.6h0M137.5 222.5h0M150.8 222.1h0M170.0 222.1h0M192.4 222.6h0M199.9 223.5h0M219.3 223.2h0M221.9 222.4h0M227.5 223.3h0M77.8 225.6h0M86.7 225.4h0M105.5 224.8h0M119.3 224.5h0M137.9 224.8h0M152.4 225.7h0M165.6 225.9h0M201.6 224.5h0M223.3 226.0h0M59.4 228.3h0M73.0 227.6h0M77.0 228.2h0M78.7 228.4h0M84.0 227.3h0M87.8 228.3h0M95.4 227.3h0M107.2 227.5h0M113.0 227.8h0M133.7 226.9h0M140.5 227.0h0M145.6 227.4h0M161.3 228.1h0M164.9 227.1h0M170.4 227.6h0M188.9 228.3h0M197.1 227.0h0M213.3 228.3h0M44.9 230.5h0M75.6 230.3h0M81.3 230.5h0M86.2 229.3h0M95.0 229.7h0M97.3 229.5h0M102.4 229.9h0M104.6 230.1h0M113.7 230.2h0M149.0 229.5h0M163.6 229.4h0M194.1 229.9h0M196.4 229.7h0M201.8 229.5h0M222.9 230.2h0M59.8 231.8h0M63.4 233.1h0M79.1 233.0h0M87.8 232.4h0M95.8 231.8h0M106.5 232.2h0M108.7 232.3h0M114.6 231.6h0M131.5 232.5h0M150.9 232.8h0M183.3 233.2h0M185.9 231.9h0M208.0 231.9h0M222.0 231.7h0M55.2 234.9h0M66.4 235.6h0M75.5 234.6h0M86.5 235.0h0M99.7 235.2h0M105.1 235.4h0M110.1 234.6h0M113.6 234.9h0M118.5 234.4h0M127.3 234.3h0M149.9 235.3h0M160.2 234.3h0M171.5 234.8h0M188.4 235.0h0M196.8 234.4h0M220.3 235.2h0M49.0 237.0h0M60.0 237.7h0M62.1 237.3h0M68.0 237.7h0M70.8 237.4h0M92.2 237.8h0M104.0 237.4h0M106.4 237.0h0M120.2 237.8h0M167.5 237.3h0M184.0 237.0h0M191.5 236.9h0M216.3 237.2h0M219.8 236.8h0M66.7 239.9h0M93.6 240.1h0M97.0 239.4h0M102.3 239.5h0M107.3 239.8h0M111.4 239.3h0M117.1 238.9h0M135.1 239.5h0M143.3 239.6h0M152.0 239.9h0M162.3 239.3h0M173.4 239.3h0M187.2 240.0h0M193.4 238.9h0M202.3 239.6h0M223.8 239.4h0M228.9 238.8h0M57.5 242.5h0M67.9 241.9h0M73.0 241.9h0M79.4 242.8h0M82.6 242.0h0M93.2 242.7h0M100.5 241.6h0M111.8 241.8h0M117.3 241.9h0M131.5 241.7h0M164.9 242.3h0M181.0 242.3h0M186.3 242.6h0M216.7 241.5h0M222.3 241.9h0M105.2 245.0h0M132.5 244.4h0M150.1 244.8h0M160.0 244.5h0M162.6 243.9h0M173.4 243.7h0M179.7 244.3h0M226.8 243.8h0M64.7 246.4h0M68.9 247.0h0M70.8 246.2h0M79.0 247.2h0M81.4 246.8h0M89.5 246.9h0M95.9 246.6h0M104.7 246.2h0M109.1 246.0h0M139.1 247.5h0M153.9 246.8h0M175.8 247.2h0M181.6 246.9h0M197.7 246.2h0M225.3 246.7h0M53.5 249.5h0M94.1 249.7h0M101.9 248.9h0M111.4 249.1h0M129.7 249.2h0M138.4 249.5h0M187.2 249.8h0M192.8 249.5h0M196.8 248.8h0M201.7 249.7h0M204.0 249.9h0M214.6 248.9h0M44.2 251.0h0M48.7 251.9h0M52.3 251.6h0M68.1 252.3h0M79.0 251.8h0M84.8 250.8h0M90.7 251.7h0M103.2 250.9h0M115.6 252.1h0M119.8 251.1h0M122.6 252.1h0M125.7 251.2h0M131.2 252.1h0M137.3 251.8h0M148.3 252.3h0M178.9 251.8h0M187.0 251.1h0M227.2 251.9h0M64.4 254.3h0M69.5 253.5h0M85.9 253.2h0M95.0 254.2h0M135.4 253.9h0M139.0 254.5h0M147.2 254.7h0M148.7 254.3h0M180.2 254.7h0M181.6 253.2h0M199.6 254.4h0M204.5 254.6h0M206.8 254.5h0M215.7 253.3h0M221.4 254.2h0M224.1 253.5h0M226.9 253.5h0M43.7 257.0h0M49.7 256.7h0M90.3 256.4h0M103.8 256.6h0M114.6 255.6h0M129.5 255.9h0M131.4 255.8h0M137.1 255.6h0M161.9 256.3h0M199.9 255.7h0M228.2 256.8h0M45.6 259.0h0M52.9 258.6h0M62.1 259.1h0M72.6 258.0h0M74.8 258.7h0M83.5 258.0h0M125.2 259.2h0M127.4 258.3h0M138.2 259.5h0M141.2 259.2h0M144.6 258.7h0M172.0 258.5h0M184.5 259.4h0M188.6 258.4h0M193.0 259.4h0M203.8 258.9h0M206.4 259.2h0M51.5 261.9h0M53.8 260.7h0M59.5 260.6h0M97.8 261.2h0M148.8 261.9h0M150.8 260.9h0M222.9 260.5h0M58.8 262.9h0M67.5 263.1h0M75.1 264.2h0M83.2 263.7h0M100.3 263.5h0M113.4 263.6h0M121.8 263.5h0M135.4 263.3h0M143.2 263.7h0M151.5 263.0h0M184.5 263.7h0M192.8 263.3h0M207.2 263.6h0M212.6 262.8h0M51.1 266.6h0M66.1 266.3h0M73.3 265.3h0M81.9 265.7h0M95.8 265.4h0M98.7 265.3h0M107.0 266.3h0M121.3 266.1h0M129.5 266.0h0M150.8 266.4h0M174.9 265.9h0M186.7 266.4h0M196.8 265.3h0M211.5 266.6h0M46.9 268.7h0M49.7 268.7h0M61.0 268.6h0M71.9 268.0h0M80.9 267.9h0M110.5 268.1h0M119.2 269.0h0M132.1 267.9h0M146.7 268.5h0M152.3 269.1h0M162.9 268.5h0M167.9 267.9h0M173.9 268.6h0M191.2 268.6h0M201.1 268.6h0M207.1 267.7h0M216.0 268.8h0M228.4 268.6h0M59.6 270.0h0M77.0 271.5h0M85.2 270.5h0M96.1 270.5h0M104.7 270.6h0M106.9 271.4h0M108.9 270.1h0M112.6 271.1h0M128.5 271.5h0M148.1 270.9h0M150.1 270.8h0M159.7 270.5h0M173.3 270.2h0M186.6 270.7h0M194.4 271.0h0M207.7 271.4h0M213.3 270.0h0M220.3 270.5h0M50.4 272.5h0M80.9 272.7h0M83.9 273.6h0M85.9 273.2h0M89.2 273.8h0M104.9 272.4h0M114.3 273.0h0M159.9 273.1h0M163.2 273.7h0M173.5 272.5h0M190.8 273.0h0M195.7 273.1h0M212.3 273.4h0M215.5 273.6h0M68.3 276.0h0M79.7 274.9h0M87.3 276.0h0M89.7 275.8h0M93.2 275.5h0M104.7 275.8h0M112.0 275.5h0M125.5 275.5h0M137.2 275.4h0M178.1 276.1h0M190.0 275.2h0M191.7 276.2h0M197.2 275.1h0M202.4 274.9h0M213.4 276.1h0M218.9 275.0h0M222.5 275.1h0M45.0 278.2h0M52.4 277.9h0M58.7 277.5h0M64.3 277.3h0M83.2 277.7h0M91.4 277.9h0M113.4 277.5h0M136.4 277.1h0M138.6 278.4h0M168.0 278.5h0M176.6 277.7h0M188.0 278.0h0M193.1 278.2h0M209.1 277.6h0M212.8 278.0h0M52.1 280.6h0M59.5 280.7h0M65.9 280.4h0M68.6 279.8h0M120.7 280.8h0M122.9 280.4h0M134.8 281.1h0M153.1 280.0h0M156.5 280.2h0M169.6 280.7h0M175.8 281.0h0M188.8 280.5h0M207.8 279.6h0M58.4 282.0h0M86.9 282.9h0M130.7 283.1h0M143.3 283.1h0M166.3 281.9h0M179.3 281.9h0M182.0 281.9h0M214.6 282.8h0M217.4 282.2h0M52.0 284.5h0M60.6 285.1h0M82.8 284.3h0M87.1 284.3h0M90.1 285.1h0M93.1 284.6h0M104.0 284.4h0M107.2 284.9h0M109.6 285.0h0M112.2 285.4h0M120.1 285.1h0M123.1 285.7h0M131.9 285.3h0M147.8 285.4h0M159.6 284.4h0M170.4 285.2h0M178.1 285.8h0M183.8 285.3h0M196.7 285.4h0M199.4 284.9h0M211.6 285.1h0M222.9 284.7h0M58.5 288.1h0M69.8 287.1h0M75.0 287.7h0M77.4 287.4h0M79.8 287.8h0M89.5 287.9h0M113.2 287.7h0M121.3 287.5h0M132.4 286.7h0M147.1 287.5h0M169.2 287.4h0M176.7 287.0h0M196.4 287.5h0M210.0 287.4h0M45.7 289.8h0M87.5 290.3h0M93.1 289.7h0M108.8 290.0h0M123.5 289.1h0M142.1 290.1h0M145.4 289.9h0M148.4 290.4h0M156.1 290.4h0M159.3 289.8h0M187.2 289.8h0M192.7 290.5h0M203.5 290.4h0M205.0 290.5h0M48.3 291.5h0M53.1 292.0h0M75.8 292.5h0M77.6 291.5h0M81.4 291.9h0M100.2 291.5h0M105.3 291.5h0M114.2 292.2h0M118.9 292.8h0M128.1 292.2h0M138.0 292.0h0M141.4 291.6h0M155.3 292.9h0M168.4 292.0h0M171.6 292.0h0M183.1 293.0h0M184.4 291.8h0M187.9 292.2h0M189.8 293.0h0M212.8 291.5h0M43.9 295.0h0M46.5 294.1h0M49.6 294.4h0M52.3 294.4h0M54.7 294.9h0M87.5 294.4h0M104.4 295.0h0M106.9 295.3h0M109.6 294.7h0M117.3 294.9h0M139.6 295.0h0M144.5 294.5h0M151.4 294.9h0M167.1 294.7h0M172.9 294.4h0M175.5 294.5h0M208.0 293.9h0M216.4 294.3h0M48.0 297.6h0M55.8 296.6h0M58.5 296.6h0M79.8 297.4h0M100.3 296.3h0M104.6 296.7h0M118.6 296.6h0M146.4 296.4h0M148.9 297.6h0M159.8 297.3h0M163.5 296.5h0M180.2 297.6h0M194.0 297.7h0M206.3 296.4h0M212.7 296.8h0M218.1 297.2h0" stroke="#5a1e70" stroke-width="2.3" stroke-linecap="round" stroke-opacity="0.75" fill="none" filter="url(#bs)"/>
<path d="M54.7 185.2h0M76.7 184.3h0M106.0 184.9h0M117.0 184.1h0M124.0 185.2h0M128.9 185.3h0M131.8 184.2h0M141.8 184.8h0M150.7 184.7h0M161.3 184.1h0M163.8 184.3h0M170.2 185.2h0M176.0 184.1h0M178.5 185.1h0M183.6 184.4h0M198.0 184.8h0M214.2 184.6h0M50.0 186.6h0M64.1 186.7h0M67.1 187.1h0M75.3 187.4h0M78.0 186.9h0M118.4 187.4h0M129.9 186.8h0M132.7 186.3h0M141.4 187.0h0M147.3 187.0h0M162.9 186.4h0M177.2 187.7h0M199.4 186.6h0M201.9 186.2h0M209.9 186.4h0M223.7 186.3h0M52.0 189.3h0M60.6 188.6h0M63.2 189.1h0M65.5 189.8h0M95.4 189.9h0M101.2 189.4h0M104.0 188.6h0M114.5 188.7h0M137.3 189.4h0M172.4 189.8h0M214.7 189.1h0M51.0 192.1h0M96.9 192.5h0M127.7 191.4h0M130.5 192.1h0M143.3 191.5h0M157.1 192.2h0M202.3 191.2h0M215.6 191.5h0M76.3 193.5h0M95.5 194.9h0M98.2 193.4h0M101.7 194.3h0M121.3 194.4h0M122.6 194.2h0M126.1 193.9h0M142.5 194.5h0M144.9 194.9h0M164.3 193.8h0M169.4 193.7h0M172.1 193.5h0M186.4 194.8h0M194.4 194.0h0M197.7 194.4h0M227.8 194.3h0M46.9 196.4h0M57.9 196.5h0M63.4 196.4h0M69.0 196.1h0M94.4 197.1h0M97.7 196.5h0M126.8 195.9h0M135.4 195.8h0M157.9 196.2h0M160.9 196.9h0M182.7 196.0h0M191.1 196.4h0M204.2 197.0h0M206.8 196.1h0M209.6 196.1h0M56.9 198.9h0M68.3 199.4h0M70.3 199.2h0M79.6 199.0h0M82.1 198.2h0M95.1 198.4h0M99.1 199.0h0M108.8 199.4h0M136.2 199.6h0M150.4 198.5h0M153.3 198.9h0M194.8 198.8h0M197.5 199.4h0M211.2 198.9h0M55.2 201.9h0M66.1 200.8h0M78.3 201.9h0M80.1 202.0h0M83.4 201.6h0M86.5 201.8h0M94.1 201.5h0M102.6 201.4h0M104.9 201.8h0M124.9 200.5h0M126.6 201.8h0M130.3 201.5h0M152.2 200.8h0M177.5 201.6h0M180.0 201.8h0M199.0 201.8h0M202.2 201.6h0M204.2 201.6h0M212.1 201.7h0M226.5 201.5h0M46.2 204.1h0M54.5 203.0h0M59.7 204.2h0M68.7 203.1h0M76.7 203.4h0M101.1 203.1h0M152.8 204.4h0M155.8 203.0h0M188.7 204.5h0M192.1 203.6h0M211.2 204.1h0M219.5 203.9h0M44.6 206.4h0M63.3 206.7h0M81.3 205.9h0M85.6 206.6h0M102.7 206.3h0M117.1 205.6h0M127.3 206.7h0M146.0 206.9h0M149.1 205.5h0M151.7 206.8h0M170.8 205.3h0M179.9 205.4h0M182.5 206.7h0M187.7 206.1h0M190.2 206.8h0M201.2 205.8h0M207.3 206.0h0M214.6 206.0h0M228.7 205.6h0M42.7 208.5h0M54.2 208.0h0M57.1 208.3h0M88.1 208.7h0M93.6 208.4h0M95.9 208.4h0M100.6 209.1h0M104.1 208.8h0M105.9 209.1h0M109.2 208.9h0M123.7 208.5h0M126.2 208.8h0M195.1 209.0h0M208.5 208.8h0M58.1 211.3h0M67.0 211.5h0M69.3 211.6h0M82.8 211.6h0M111.5 210.4h0M113.1 210.8h0M121.2 211.6h0M128.0 211.0h0M129.8 210.3h0M135.4 210.8h0M152.5 211.4h0M166.1 210.3h0M172.0 210.8h0M174.7 210.5h0M176.4 210.6h0M212.1 210.8h0M221.5 211.3h0M226.7 211.3h0M228.4 211.0h0M54.3 213.7h0M57.1 213.6h0M60.1 213.8h0M65.0 212.5h0M85.3 213.3h0M98.0 212.9h0M104.1 212.6h0M112.3 212.5h0M117.2 212.9h0M132.0 213.8h0M150.3 212.9h0M167.1 212.8h0M169.6 212.9h0M171.9 212.6h0M180.5 212.5h0M184.2 213.6h0M189.4 213.5h0M209.1 213.4h0M44.2 215.5h0M50.0 215.4h0M56.3 216.1h0M62.0 215.3h0M74.9 216.0h0M83.9 216.0h0M86.7 215.6h0M88.3 215.6h0M91.9 215.3h0M97.0 215.5h0M99.5 216.4h0M102.9 214.9h0M113.2 215.3h0M124.9 216.4h0M132.3 215.7h0M152.3 216.0h0M201.9 215.5h0M204.7 216.3h0M206.7 216.1h0M44.1 217.9h0M51.5 218.2h0M76.0 218.6h0M84.8 217.4h0M89.8 218.2h0M95.5 217.6h0M98.8 218.4h0M107.2 218.5h0M109.9 217.9h0M115.5 217.3h0M125.9 217.8h0M128.6 218.2h0M153.2 217.7h0M155.5 217.9h0M159.5 218.4h0M186.3 218.7h0M188.5 218.2h0M205.8 218.0h0M209.2 217.8h0M214.7 217.9h0M219.1 217.4h0M222.2 217.6h0M228.4 218.7h0M44.2 219.7h0M60.9 220.4h0M67.2 220.4h0M69.0 220.0h0M81.4 220.2h0M83.9 220.3h0M88.3 221.1h0M95.0 219.9h0M99.1 219.7h0M103.0 220.7h0M116.7 220.7h0M129.5 219.8h0M132.3 220.2h0M157.8 220.8h0M162.6 220.2h0M187.5 220.7h0M196.0 219.7h0M215.9 220.6h0M217.5 220.0h0M222.8 220.8h0M226.1 220.7h0M43.5 223.2h0M109.8 223.1h0M114.4 223.4h0M118.3 222.4h0M133.8 222.1h0M139.2 223.4h0M142.8 223.7h0M147.8 223.3h0M167.9 222.9h0M179.0 222.3h0M181.0 222.6h0M206.5 223.0h0M208.5 223.5h0M225.0 223.0h0M53.1 225.1h0M64.8 225.2h0M66.5 226.0h0M74.6 224.6h0M80.3 224.7h0M99.7 225.4h0M102.3 226.0h0M108.6 225.0h0M111.0 224.9h0M116.8 224.6h0M126.9 225.3h0M135.2 224.8h0M145.9 225.0h0M159.6 225.1h0M162.6 226.0h0M184.4 225.7h0M188.4 226.0h0M195.9 225.9h0M62.5 228.2h0M67.6 227.9h0M90.5 227.3h0M103.7 227.2h0M109.4 227.1h0M114.7 227.2h0M136.5 227.1h0M148.7 226.9h0M153.5 228.4h0M180.6 227.5h0M200.6 227.3h0M206.5 227.8h0M224.3 227.4h0M228.3 227.4h0M47.3 229.3h0M61.2 230.6h0M66.7 230.6h0M100.5 230.3h0M108.5 230.6h0M130.2 230.3h0M135.7 230.8h0M138.1 229.8h0M152.4 229.9h0M157.9 230.8h0M165.1 230.4h0M172.1 230.6h0M182.2 229.7h0M187.8 229.3h0M190.7 230.6h0M204.6 230.4h0M209.7 230.5h0M220.1 230.2h0M226.4 230.7h0M46.8 231.7h0M84.3 232.4h0M93.2 232.9h0M101.9 231.7h0M104.0 232.7h0M120.3 232.2h0M122.9 232.4h0M125.4 231.7h0M153.2 232.7h0M162.1 232.4h0M165.0 232.5h0M169.6 231.8h0M172.2 231.9h0M177.9 232.4h0M192.0 231.9h0M203.2 232.3h0M216.6 232.4h0M227.1 232.3h0M78.6 234.5h0M91.6 234.2h0M123.8 235.0h0M129.7 234.6h0M135.7 234.5h0M157.3 234.2h0M166.5 235.2h0M182.5 235.4h0M185.4 235.3h0M198.7 235.1h0M215.5 234.1h0M226.4 234.9h0M228.4 235.0h0M43.1 237.9h0M46.3 236.9h0M73.0 236.8h0M82.2 237.4h0M87.3 236.6h0M99.2 237.4h0M111.9 237.4h0M117.2 237.5h0M125.2 237.4h0M131.3 237.3h0M134.0 237.1h0M145.0 237.6h0M147.4 237.6h0M159.6 236.9h0M185.8 236.9h0M188.9 237.2h0M197.4 237.7h0M200.9 236.5h0M210.9 237.5h0M227.3 237.2h0M47.1 239.7h0M59.4 240.0h0M64.1 239.4h0M72.3 239.3h0M86.0 240.1h0M88.3 240.4h0M121.9 240.1h0M138.5 238.8h0M141.6 239.4h0M148.6 239.5h0M160.5 239.6h0M171.6 239.6h0M179.4 240.1h0M49.6 242.1h0M59.8 241.5h0M63.0 241.4h0M87.9 241.5h0M107.2 241.9h0M121.1 242.3h0M123.3 242.4h0M134.5 241.8h0M142.6 242.6h0M169.6 241.8h0M173.4 242.4h0M174.8 242.1h0M183.1 241.7h0M189.6 241.5h0M194.2 242.8h0M211.6 242.3h0M48.3 244.6h0M56.6 243.7h0M67.4 243.7h0M77.5 244.1h0M80.6 244.9h0M83.1 244.6h0M85.6 245.0h0M94.0 244.9h0M121.9 244.5h0M130.3 244.2h0M146.7 243.6h0M151.5 243.7h0M155.5 244.1h0M157.4 244.7h0M187.4 244.3h0M199.5 244.3h0M209.3 243.9h0M220.8 243.7h0M45.5 247.1h0M54.3 246.3h0M74.4 246.7h0M84.5 247.1h0M112.3 246.0h0M134.6 247.6h0M137.1 246.7h0M144.9 246.0h0M156.7 246.6h0M158.8 246.4h0M164.9 247.1h0M169.9 247.2h0M190.0 246.1h0M191.4 246.5h0M194.5 246.4h0M202.4 247.4h0M208.1 247.2h0M210.6 246.2h0M47.5 248.8h0M55.5 248.6h0M59.4 249.3h0M61.0 249.3h0M66.7 248.9h0M75.8 248.8h0M81.0 248.6h0M88.1 248.7h0M96.7 249.6h0M104.6 249.3h0M116.4 248.6h0M146.0 249.6h0M149.3 249.3h0M152.7 248.7h0M190.5 248.6h0M218.9 248.7h0M221.2 249.0h0M45.9 251.1h0M62.8 251.6h0M76.0 250.9h0M81.9 251.3h0M95.4 251.1h0M101.9 251.1h0M118.0 252.2h0M129.2 251.6h0M134.7 251.6h0M142.0 252.3h0M145.2 251.0h0M150.6 251.7h0M154.3 251.0h0M172.4 251.4h0M181.7 251.8h0M198.0 252.1h0M209.2 250.9h0M210.7 252.2h0M44.7 253.2h0M47.4 254.0h0M55.4 254.4h0M72.3 254.3h0M77.5 254.7h0M82.9 253.8h0M100.5 254.4h0M108.8 253.8h0M110.6 253.8h0M113.7 254.1h0M141.7 253.5h0M152.5 254.2h0M159.9 254.2h0M213.4 253.6h0M60.5 256.1h0M65.4 256.0h0M145.2 256.6h0M172.3 255.8h0M176.1 255.9h0M183.8 256.8h0M202.4 256.5h0M206.1 256.2h0M214.6 257.1h0M217.0 256.9h0M48.4 258.6h0M64.5 258.8h0M69.4 258.8h0M79.9 259.1h0M97.7 259.5h0M110.6 258.0h0M119.2 259.1h0M121.3 258.8h0M130.5 259.4h0M134.9 259.3h0M147.1 258.6h0M165.6 258.3h0M168.5 258.7h0M174.2 258.1h0M180.2 258.4h0M190.9 259.1h0M210.5 258.1h0M212.2 258.1h0M73.0 261.7h0M82.0 260.7h0M90.7 260.5h0M100.6 261.3h0M108.9 261.2h0M112.6 261.3h0M129.4 261.2h0M136.4 261.6h0M172.8 261.0h0M178.2 260.7h0M192.7 260.5h0M202.6 260.7h0M208.2 261.5h0M214.2 261.3h0M219.5 260.9h0M225.5 260.4h0M55.1 264.3h0M64.2 264.0h0M69.3 263.8h0M77.5 263.4h0M80.3 262.8h0M86.3 262.8h0M124.5 263.1h0M127.5 264.3h0M130.7 264.0h0M146.0 263.7h0M149.7 263.3h0M166.5 263.7h0M176.5 263.2h0M196.8 263.9h0M198.2 263.6h0M201.0 263.4h0M221.2 264.2h0M228.9 263.8h0M42.8 265.2h0M57.9 265.7h0M76.1 266.5h0M92.7 265.4h0M101.7 266.5h0M103.5 265.5h0M123.8 265.4h0M134.2 265.5h0M137.7 265.3h0M156.5 265.2h0M163.7 265.6h0M169.8 265.2h0M172.8 266.5h0M188.8 266.7h0M194.7 266.1h0M200.6 265.9h0M220.3 266.6h0M64.5 268.9h0M66.7 268.5h0M74.9 267.6h0M77.7 267.5h0M83.6 269.1h0M86.0 267.6h0M100.4 268.0h0M102.5 269.0h0M106.0 267.6h0M116.7 267.7h0M144.6 269.0h0M171.8 268.6h0M176.7 268.0h0M180.2 268.9h0M187.7 268.8h0M196.0 268.8h0M212.5 268.1h0M43.1 270.2h0M46.0 271.2h0M57.2 270.0h0M65.8 270.3h0M100.6 271.0h0M115.0 270.5h0M123.3 271.0h0M131.2 270.1h0M142.4 270.8h0M155.7 270.8h0M167.0 270.9h0M198.2 270.4h0M216.2 271.4h0M44.7 272.9h0M47.4 272.5h0M52.4 272.6h0M60.8 273.8h0M75.6 273.6h0M78.5 273.2h0M97.9 273.5h0M100.3 273.7h0M119.0 273.5h0M135.6 273.8h0M146.4 273.3h0M148.8 273.1h0M199.6 272.5h0M202.0 272.4h0M220.1 273.0h0M46.9 275.5h0M48.6 275.9h0M59.8 275.4h0M81.5 276.0h0M85.4 275.4h0M123.8 275.5h0M131.0 275.9h0M150.3 274.7h0M164.3 276.2h0M180.9 276.2h0M200.5 275.2h0M211.8 276.3h0M225.8 276.0h0M227.3 274.7h0M78.5 278.6h0M108.1 277.1h0M110.1 277.3h0M116.1 277.5h0M119.9 278.4h0M127.2 277.5h0M146.2 278.5h0M160.7 278.6h0M170.9 278.1h0M182.9 278.2h0M195.4 277.3h0M204.7 278.3h0M206.9 277.1h0M217.7 278.3h0M225.9 277.9h0M46.6 279.7h0M55.2 280.3h0M79.4 280.8h0M115.6 280.6h0M128.6 279.5h0M199.6 280.7h0M206.1 280.8h0M211.5 280.2h0M221.6 279.9h0M228.3 279.5h0M52.6 282.1h0M56.6 283.1h0M77.8 282.8h0M99.8 283.4h0M103.1 282.6h0M107.8 282.0h0M113.8 282.4h0M127.7 282.6h0M136.2 283.2h0M146.3 283.2h0M149.3 283.1h0M171.7 282.9h0M202.3 282.7h0M204.7 282.4h0M212.6 282.1h0M227.0 282.0h0M76.7 284.6h0M95.6 284.3h0M98.7 285.7h0M101.1 284.5h0M125.2 285.2h0M134.1 284.4h0M136.3 285.6h0M139.0 285.5h0M143.0 285.3h0M167.8 285.4h0M175.6 285.6h0M181.3 284.4h0M203.2 284.5h0M227.5 285.1h0M47.7 287.0h0M60.8 287.5h0M97.0 286.9h0M102.8 288.0h0M119.4 287.1h0M124.2 287.6h0M144.6 287.2h0M155.6 287.7h0M158.1 288.0h0M160.0 287.3h0M180.2 288.2h0M184.7 286.7h0M190.9 287.9h0M192.7 287.8h0M199.6 288.2h0M207.6 287.0h0M211.9 288.0h0M214.9 286.8h0M220.1 287.5h0M228.6 287.7h0M67.6 290.6h0M71.8 290.6h0M73.0 289.5h0M79.4 289.2h0M82.1 289.9h0M98.6 289.5h0M106.7 289.2h0M118.0 289.8h0M120.7 290.4h0M173.3 289.2h0M189.6 290.6h0M45.3 291.9h0M85.4 292.3h0M88.3 292.6h0M94.5 291.8h0M102.5 292.4h0M115.9 291.5h0M133.2 293.0h0M146.5 292.8h0M174.6 292.9h0M177.2 292.8h0M192.8 291.8h0M199.1 292.7h0M210.4 292.1h0M56.5 295.2h0M59.3 294.5h0M73.2 295.0h0M85.3 294.3h0M90.9 294.1h0M98.3 295.3h0M114.6 295.3h0M120.2 294.0h0M123.5 294.7h0M152.8 294.9h0M178.0 294.0h0M186.7 295.3h0M188.9 295.1h0M194.2 295.3h0M200.1 294.0h0M210.6 294.8h0M50.4 297.1h0M52.8 297.3h0M88.2 297.4h0M91.7 297.6h0M97.6 296.5h0M107.6 297.4h0M111.3 297.3h0M127.6 296.3h0M133.4 297.5h0M138.9 297.7h0M144.5 296.5h0M174.7 297.4h0M185.2 297.0h0" stroke="#6e2c82" stroke-width="2.3" stroke-linecap="round" stroke-opacity="0.7" fill="none" filter="url(#bs)"/>
<path d="M43.5 184.4h0M52.3 184.5h0M57.5 183.9h0M63.1 185.2h0M79.0 184.7h0M126.0 184.8h0M139.9 183.8h0M145.0 184.9h0M153.2 184.4h0M225.5 184.0h0M45.4 186.2h0M69.3 186.4h0M80.9 186.8h0M82.9 187.0h0M93.7 187.5h0M100.1 187.3h0M116.9 187.7h0M126.8 186.6h0M138.7 186.4h0M151.8 186.5h0M171.4 186.9h0M179.2 187.3h0M204.3 186.5h0M216.1 186.8h0M217.8 187.2h0M226.7 187.3h0M48.7 189.7h0M53.8 189.7h0M76.9 189.9h0M90.3 189.5h0M98.8 188.6h0M126.7 189.7h0M139.4 189.3h0M142.0 190.0h0M145.0 189.4h0M147.2 188.9h0M158.9 189.2h0M177.8 189.0h0M180.7 188.7h0M188.5 188.6h0M195.5 189.3h0M219.8 189.5h0M222.2 188.8h0M224.9 189.8h0M227.3 189.9h0M66.9 191.6h0M91.6 191.1h0M94.2 192.0h0M105.9 192.5h0M124.3 191.8h0M149.3 192.4h0M176.4 191.2h0M179.6 192.3h0M181.8 191.0h0M190.9 192.4h0M196.4 192.5h0M198.6 191.7h0M209.1 191.9h0M51.1 194.2h0M66.3 194.4h0M128.4 193.9h0M208.2 194.0h0M213.8 193.5h0M217.4 194.2h0M221.9 194.9h0M45.5 197.1h0M66.5 196.2h0M75.3 196.0h0M77.9 196.7h0M91.3 196.9h0M108.9 197.1h0M110.1 196.8h0M121.4 196.4h0M147.4 197.0h0M155.6 196.3h0M168.8 196.1h0M172.1 197.1h0M173.4 196.6h0M179.1 197.3h0M212.3 196.7h0M221.0 196.8h0M100.5 199.3h0M106.2 199.1h0M118.4 199.4h0M183.5 199.2h0M217.3 198.4h0M44.7 200.7h0M57.8 200.9h0M64.5 201.5h0M89.5 201.7h0M99.8 201.6h0M110.8 201.2h0M113.2 200.7h0M122.0 201.0h0M135.3 200.6h0M143.4 201.7h0M162.5 200.8h0M171.1 201.2h0M193.9 202.1h0M207.9 201.9h0M215.5 201.2h0M218.9 200.7h0M48.4 204.3h0M84.2 203.3h0M106.2 203.3h0M121.1 204.0h0M125.4 204.5h0M148.7 203.7h0M164.6 203.2h0M167.4 203.8h0M176.2 203.8h0M177.7 203.7h0M181.2 204.4h0M183.2 204.0h0M195.5 203.8h0M197.8 203.9h0M214.1 203.4h0M227.1 203.2h0M48.3 206.6h0M50.0 206.3h0M72.2 205.6h0M77.6 206.0h0M113.8 206.6h0M137.9 206.4h0M212.3 206.8h0M227.0 206.8h0M46.7 208.3h0M73.9 209.3h0M78.8 208.6h0M82.6 209.1h0M85.0 208.0h0M90.4 208.4h0M111.9 209.0h0M121.2 208.1h0M145.0 208.5h0M159.2 208.3h0M161.4 208.1h0M163.9 208.3h0M167.4 209.0h0M172.0 207.8h0M181.8 208.0h0M186.2 208.1h0M211.9 208.9h0M222.8 209.3h0M44.1 210.4h0M48.3 211.1h0M72.9 211.2h0M96.5 210.5h0M100.5 210.5h0M102.2 210.9h0M107.6 210.9h0M138.0 210.9h0M148.7 210.8h0M155.3 211.0h0M163.2 211.0h0M185.4 211.3h0M187.4 211.3h0M190.9 210.2h0M204.9 211.0h0M210.4 211.5h0M218.1 211.2h0M48.4 213.9h0M62.8 213.2h0M75.8 213.1h0M90.9 213.3h0M95.3 212.9h0M120.6 214.0h0M133.5 213.8h0M142.6 212.7h0M153.3 213.0h0M191.2 213.4h0M194.3 213.7h0M198.3 213.6h0M201.0 213.2h0M211.2 213.2h0M48.0 215.3h0M117.0 215.7h0M130.0 216.4h0M159.8 215.6h0M177.0 215.8h0M184.6 215.6h0M190.5 216.0h0M193.6 216.2h0M195.4 216.5h0M199.2 215.8h0M216.0 215.5h0M218.3 215.2h0M221.4 215.2h0M46.3 218.5h0M57.0 218.0h0M60.2 217.8h0M63.4 217.8h0M67.9 218.0h0M70.4 217.9h0M104.1 218.8h0M119.9 218.7h0M122.5 217.3h0M150.9 217.7h0M164.1 218.5h0M177.8 218.8h0M194.6 218.4h0M57.9 220.7h0M72.9 220.8h0M91.5 219.8h0M118.9 220.2h0M139.1 220.0h0M147.1 220.3h0M166.5 220.7h0M201.3 220.9h0M204.5 220.2h0M213.1 220.9h0M221.0 221.2h0M70.8 222.6h0M93.4 223.0h0M131.6 222.6h0M156.1 222.9h0M161.9 222.1h0M174.7 223.3h0M195.4 222.9h0M216.1 223.0h0M45.5 225.4h0M49.7 225.3h0M61.8 225.0h0M83.0 224.7h0M89.4 224.5h0M91.9 224.8h0M94.5 226.0h0M155.4 224.6h0M158.0 224.7h0M172.0 225.1h0M174.6 224.8h0M177.5 226.0h0M180.1 224.6h0M207.5 225.2h0M209.3 225.0h0M213.3 224.5h0M217.5 224.6h0M220.2 224.6h0M228.6 224.5h0M43.9 228.1h0M46.2 226.9h0M82.3 227.2h0M93.5 227.4h0M98.3 228.1h0M123.9 227.7h0M126.2 228.2h0M128.9 227.4h0M151.0 227.4h0M179.0 227.0h0M183.6 227.5h0M216.1 227.7h0M219.5 227.5h0M50.5 230.8h0M88.7 230.7h0M121.5 229.3h0M125.2 229.5h0M133.5 229.6h0M143.1 230.1h0M146.5 229.7h0M185.7 229.8h0M198.9 229.8h0M207.6 230.6h0M213.4 230.7h0M214.6 230.5h0M49.6 232.2h0M74.3 233.1h0M97.9 232.5h0M129.3 232.3h0M134.6 232.1h0M136.3 232.2h0M139.3 233.2h0M145.5 233.2h0M147.9 232.3h0M158.2 231.7h0M167.4 232.4h0M194.5 232.1h0M206.0 232.2h0M211.8 231.9h0M213.3 232.7h0M220.2 231.7h0M224.2 232.3h0M45.4 235.0h0M50.7 235.1h0M73.0 235.3h0M83.1 234.6h0M96.8 235.1h0M141.5 234.5h0M145.9 235.6h0M151.9 235.4h0M168.4 234.5h0M177.1 235.2h0M179.5 234.7h0M193.6 234.1h0M204.0 234.1h0M210.0 235.6h0M217.4 234.3h0M224.3 234.9h0M57.3 237.7h0M76.1 237.3h0M95.7 236.4h0M115.0 237.2h0M124.0 236.9h0M136.8 237.2h0M139.7 237.8h0M155.9 237.3h0M203.0 237.3h0M206.4 237.9h0M208.9 236.5h0M222.8 237.4h0M225.6 237.7h0M44.3 239.1h0M51.1 239.7h0M61.0 239.4h0M82.8 239.8h0M91.1 240.3h0M182.5 239.4h0M184.8 239.6h0M196.2 239.7h0M199.5 240.2h0M217.8 240.3h0M220.6 239.2h0M227.0 240.0h0M46.1 241.9h0M52.0 241.4h0M66.3 241.6h0M109.2 242.0h0M115.1 242.4h0M125.3 241.5h0M137.1 242.2h0M144.6 242.2h0M150.3 242.4h0M153.1 242.7h0M159.2 242.0h0M162.1 242.7h0M167.7 241.6h0M178.1 242.3h0M197.1 241.4h0M199.9 241.3h0M205.5 241.6h0M61.1 243.8h0M102.3 245.2h0M108.4 244.2h0M110.8 244.6h0M135.9 245.1h0M137.7 243.7h0M168.6 244.6h0M182.1 243.8h0M185.8 244.1h0M204.9 244.3h0M206.5 244.5h0M214.9 244.4h0M223.1 243.8h0M48.5 247.5h0M56.8 246.9h0M60.7 246.6h0M76.6 246.7h0M87.6 246.6h0M106.4 246.1h0M115.7 247.5h0M123.6 247.5h0M129.3 247.0h0M167.2 246.8h0M173.2 247.0h0M178.9 246.7h0M200.4 247.1h0M214.6 246.5h0M219.7 247.4h0M222.5 246.3h0M228.2 247.4h0M44.4 248.7h0M64.0 249.3h0M68.9 249.4h0M83.4 249.7h0M85.7 249.5h0M92.0 248.8h0M100.4 249.0h0M133.0 248.8h0M141.2 249.7h0M165.7 249.1h0M170.9 249.9h0M178.9 249.8h0M207.5 248.5h0M210.1 249.4h0M53.9 251.2h0M57.2 250.8h0M93.4 251.6h0M98.5 251.5h0M106.1 251.8h0M111.9 251.9h0M166.5 252.4h0M170.3 251.3h0M175.4 251.0h0M189.8 250.8h0M217.4 251.0h0M219.9 251.4h0M225.4 251.1h0M50.3 253.9h0M52.3 254.5h0M58.8 254.6h0M61.2 254.7h0M75.7 254.1h0M81.3 253.9h0M88.8 253.5h0M92.2 254.7h0M97.7 254.4h0M102.5 253.5h0M117.1 254.4h0M118.4 253.6h0M121.3 254.1h0M124.0 254.4h0M132.7 254.7h0M143.5 254.2h0M162.6 254.4h0M177.0 253.6h0M187.4 254.2h0M200.9 254.3h0M54.2 256.1h0M57.4 255.8h0M61.9 257.0h0M78.7 256.6h0M81.4 256.8h0M95.5 257.0h0M98.9 256.7h0M107.3 255.8h0M109.4 255.9h0M111.8 256.8h0M126.6 255.6h0M134.7 256.5h0M142.2 256.2h0M166.8 255.7h0M181.6 257.1h0M186.7 256.7h0M188.5 256.0h0M194.3 255.6h0M219.4 255.6h0M56.4 259.2h0M86.9 258.6h0M88.2 258.9h0M103.3 259.0h0M108.3 258.9h0M150.0 258.8h0M152.2 258.0h0M159.6 258.8h0M176.5 258.5h0M183.1 258.5h0M196.6 259.3h0M215.3 259.2h0M221.5 258.4h0M48.7 261.1h0M62.7 260.5h0M65.8 260.7h0M67.7 261.7h0M84.6 261.1h0M103.5 260.7h0M117.9 261.2h0M125.3 260.6h0M130.7 261.0h0M133.8 261.2h0M145.1 261.3h0M159.5 261.1h0M174.9 260.7h0M181.6 261.7h0M187.0 261.6h0M196.9 261.6h0M217.4 260.7h0M97.6 263.6h0M108.5 263.2h0M138.1 262.7h0M141.1 264.2h0M168.9 263.7h0M171.1 264.0h0M174.1 263.0h0M189.9 263.9h0M204.0 263.2h0M215.5 263.3h0M217.9 264.3h0M226.0 262.8h0M79.4 266.7h0M84.8 265.7h0M109.0 265.4h0M140.2 265.9h0M178.2 266.0h0M183.9 266.6h0M191.3 265.2h0M206.3 266.7h0M214.3 266.4h0M224.4 266.1h0M44.9 268.5h0M58.4 268.1h0M88.3 268.0h0M91.4 268.2h0M93.6 268.2h0M108.1 269.0h0M130.1 269.1h0M135.8 267.9h0M157.0 267.9h0M199.5 268.6h0M209.1 267.6h0M223.2 269.0h0M73.1 270.7h0M82.1 270.8h0M89.9 270.6h0M92.7 271.0h0M120.1 270.1h0M125.8 271.0h0M133.7 271.3h0M136.7 270.9h0M184.4 270.8h0M191.7 271.0h0M202.3 270.9h0M206.5 270.8h0M222.0 270.9h0M227.5 270.2h0M55.9 273.0h0M63.6 272.5h0M73.1 273.8h0M94.6 272.7h0M108.3 273.5h0M110.6 273.5h0M122.6 272.6h0M129.3 273.8h0M140.7 273.3h0M144.5 273.5h0M152.5 272.3h0M166.1 272.9h0M187.8 273.8h0M210.5 272.6h0M223.0 273.9h0M58.0 275.7h0M64.9 275.8h0M120.3 275.5h0M139.0 276.3h0M142.4 275.8h0M147.4 275.1h0M169.7 276.1h0M172.6 275.1h0M208.4 274.7h0M49.7 278.6h0M69.2 278.7h0M74.5 277.8h0M99.2 277.7h0M102.8 278.2h0M130.8 277.7h0M132.8 277.2h0M149.1 278.4h0M174.6 277.4h0M190.6 277.4h0M201.9 277.1h0M48.7 280.7h0M73.1 280.1h0M77.2 280.0h0M87.9 280.5h0M90.4 279.7h0M93.0 280.9h0M97.9 280.9h0M100.5 280.4h0M117.7 281.0h0M126.5 280.5h0M131.3 280.0h0M136.9 279.9h0M139.5 280.0h0M142.1 280.2h0M144.9 280.2h0M166.5 280.6h0M172.4 279.8h0M177.4 280.8h0M186.8 280.8h0M192.6 280.1h0M198.1 279.7h0M213.8 280.9h0M217.2 279.6h0M218.9 280.3h0M64.4 282.3h0M72.4 283.2h0M75.9 282.0h0M80.7 283.3h0M84.1 283.1h0M105.8 282.5h0M110.9 283.2h0M116.2 281.9h0M119.0 283.1h0M123.9 282.5h0M132.4 282.6h0M141.6 282.2h0M163.3 283.4h0M168.4 282.9h0M192.6 282.1h0M209.5 283.2h0M223.9 283.0h0M55.1 285.5h0M57.6 285.0h0M64.9 285.7h0M74.2 284.6h0M84.4 284.7h0M115.7 285.6h0M117.7 284.6h0M128.6 285.3h0M145.6 285.2h0M186.3 285.2h0M188.8 284.7h0M191.9 284.7h0M208.7 285.4h0M224.2 284.7h0M44.1 287.5h0M67.4 287.8h0M82.8 287.8h0M85.3 287.9h0M92.1 287.0h0M128.1 286.7h0M138.1 287.7h0M140.4 287.4h0M149.5 287.3h0M181.6 287.2h0M188.0 287.2h0M223.3 288.1h0M75.8 290.6h0M90.6 290.4h0M95.9 289.8h0M101.5 290.3h0M104.5 289.3h0M115.7 289.4h0M126.1 289.2h0M130.8 290.6h0M134.2 289.2h0M139.0 289.9h0M153.1 290.1h0M161.9 289.5h0M167.8 289.8h0M175.6 290.3h0M183.1 290.0h0M194.4 290.3h0M197.2 290.6h0M209.0 289.3h0M61.5 291.5h0M68.8 291.5h0M96.6 292.8h0M111.1 291.8h0M129.5 291.8h0M143.3 292.8h0M149.7 291.7h0M151.4 292.8h0M160.4 292.5h0M162.7 292.6h0M195.6 292.4h0M202.0 292.7h0M207.0 292.5h0M76.4 294.7h0M80.0 294.7h0M93.8 295.0h0M112.0 294.8h0M125.6 294.9h0M147.3 295.1h0M156.8 295.0h0M161.7 295.0h0M180.6 295.3h0M202.4 294.4h0M66.4 296.4h0M74.8 296.9h0M83.9 297.4h0M85.6 297.7h0M94.9 296.4h0M112.8 297.6h0M121.4 297.6h0M130.5 296.7h0M135.6 297.4h0M140.9 296.7h0M152.5 297.7h0M169.2 296.7h0M176.5 297.3h0M196.6 296.7h0M204.5 297.3h0" stroke="#84409a" stroke-width="2.2" stroke-linecap="round" stroke-opacity="0.66" fill="none" filter="url(#bs)"/>
<path d="M48.6 184.1h0M59.7 183.8h0M68.7 184.5h0M73.1 184.1h0M85.4 185.1h0M86.9 185.2h0M93.3 184.1h0M95.4 183.9h0M119.9 183.8h0M147.3 184.9h0M188.4 185.3h0M209.2 185.2h0M219.2 184.2h0M86.0 186.8h0M121.2 187.4h0M124.3 187.1h0M157.9 186.8h0M166.3 186.4h0M168.8 186.9h0M212.0 187.6h0M220.5 187.4h0M84.0 189.8h0M106.6 189.5h0M129.2 190.1h0M202.7 189.5h0M208.2 189.6h0M211.6 189.7h0M52.4 191.6h0M75.8 191.3h0M77.8 191.3h0M80.8 192.2h0M110.7 192.5h0M116.8 191.6h0M136.0 192.1h0M146.7 191.5h0M174.3 192.0h0M204.2 192.3h0M212.2 192.1h0M63.5 193.6h0M103.9 194.2h0M106.9 194.8h0M111.7 193.4h0M148.0 194.7h0M162.3 194.0h0M167.0 194.4h0M174.7 194.2h0M178.6 194.7h0M184.0 193.5h0M191.7 193.4h0M205.7 194.0h0M219.0 194.1h0M224.5 193.8h0M50.9 196.1h0M79.9 197.0h0M83.5 196.2h0M85.7 197.0h0M102.7 196.2h0M139.1 195.9h0M141.0 196.2h0M226.4 195.9h0M48.9 198.5h0M75.8 199.2h0M87.7 199.3h0M115.2 199.3h0M126.7 198.6h0M130.9 198.5h0M133.9 198.8h0M156.9 199.3h0M181.2 198.3h0M205.5 199.0h0M214.3 198.4h0M218.8 199.0h0M48.0 201.8h0M72.5 200.7h0M140.6 200.7h0M147.0 200.9h0M149.0 200.9h0M154.1 202.0h0M166.2 201.2h0M182.5 200.9h0M187.8 202.1h0M209.4 201.7h0M73.5 204.1h0M98.6 203.4h0M110.1 203.0h0M118.3 204.3h0M129.4 203.3h0M133.6 204.2h0M146.0 203.3h0M151.3 203.1h0M159.8 203.9h0M173.5 203.5h0M205.1 203.3h0M224.4 202.9h0M74.4 205.5h0M105.2 205.6h0M122.3 205.4h0M123.8 206.6h0M130.5 206.0h0M198.8 206.8h0M210.1 205.3h0M220.9 205.8h0M62.4 209.3h0M76.7 209.1h0M97.7 208.1h0M128.1 208.1h0M134.9 209.1h0M137.3 208.9h0M150.3 207.8h0M169.7 209.1h0M205.8 208.3h0M217.4 207.9h0M225.0 209.0h0M227.4 209.0h0M50.4 211.2h0M64.6 211.2h0M86.0 210.6h0M88.9 211.1h0M90.9 210.8h0M105.4 211.1h0M116.8 211.7h0M124.0 211.5h0M132.1 211.5h0M143.1 210.7h0M160.7 210.8h0M168.9 211.5h0M179.4 211.3h0M44.1 212.6h0M71.2 214.0h0M126.2 212.9h0M140.5 213.9h0M148.6 213.2h0M156.8 213.6h0M158.8 213.2h0M164.5 212.6h0M178.6 212.8h0M214.6 213.8h0M216.2 213.2h0M219.6 212.8h0M228.2 213.9h0M80.2 216.0h0M93.7 216.1h0M110.7 215.7h0M136.1 215.4h0M137.8 215.6h0M145.8 214.9h0M163.0 216.4h0M180.0 215.4h0M182.7 215.1h0M212.6 216.2h0M49.0 217.4h0M65.1 217.6h0M111.5 217.7h0M117.4 218.8h0M131.0 218.3h0M162.1 217.9h0M173.2 217.7h0M197.7 218.7h0M211.3 218.5h0M52.7 220.9h0M64.8 220.0h0M85.7 221.1h0M112.9 220.7h0M144.4 220.7h0M160.6 221.2h0M168.1 220.1h0M176.1 220.0h0M189.8 220.1h0M198.6 220.9h0M229.0 221.0h0M52.0 222.2h0M53.7 222.1h0M62.1 223.4h0M78.6 222.2h0M81.8 223.3h0M85.2 222.3h0M89.6 223.1h0M104.0 222.9h0M106.3 223.6h0M120.5 222.9h0M145.3 223.6h0M164.4 222.6h0M184.4 223.5h0M186.4 222.6h0M202.3 222.7h0M214.5 222.4h0M58.8 224.6h0M69.1 225.6h0M73.1 224.8h0M96.7 225.1h0M112.9 225.0h0M122.5 225.3h0M125.4 224.6h0M140.5 224.9h0M144.0 226.0h0M48.9 228.3h0M51.5 228.2h0M54.4 228.4h0M66.0 228.0h0M117.4 227.1h0M159.6 227.5h0M175.1 228.3h0M185.8 227.6h0M194.3 228.0h0M203.3 227.9h0M208.2 227.5h0M211.4 228.1h0M56.1 230.7h0M58.3 229.7h0M63.9 230.3h0M72.4 229.5h0M83.1 230.0h0M116.7 229.8h0M118.8 229.6h0M154.5 230.3h0M169.0 229.6h0M217.7 230.3h0M51.0 232.8h0M54.2 232.3h0M65.7 232.3h0M67.9 231.8h0M70.9 231.8h0M77.0 231.8h0M82.5 232.3h0M112.6 232.9h0M141.8 232.8h0M181.5 232.4h0M200.2 232.6h0M48.4 235.2h0M64.6 235.0h0M70.0 235.1h0M102.9 234.4h0M138.9 235.5h0M154.3 235.3h0M202.2 234.1h0M212.5 235.5h0M64.9 237.0h0M79.6 237.6h0M100.9 237.4h0M129.2 237.5h0M143.2 237.2h0M150.8 237.6h0M164.4 237.9h0M178.3 237.7h0M195.4 236.8h0M53.3 239.4h0M55.4 239.5h0M75.3 238.9h0M100.4 239.5h0M127.9 239.6h0M132.3 239.5h0M147.1 240.3h0M154.1 240.0h0M158.0 240.4h0M167.9 239.8h0M176.6 239.3h0M206.9 239.4h0M209.9 240.4h0M212.5 239.2h0M216.0 239.5h0M76.9 241.5h0M84.7 241.3h0M89.9 242.1h0M103.5 242.7h0M192.1 242.2h0M203.4 241.6h0M207.9 242.1h0M224.3 242.6h0M227.9 242.1h0M49.6 244.9h0M52.7 245.2h0M74.6 244.0h0M91.0 245.0h0M113.7 245.1h0M116.4 243.9h0M119.7 244.2h0M125.1 243.7h0M141.0 243.7h0M143.3 245.0h0M166.1 244.1h0M176.9 244.8h0M192.6 243.7h0M196.8 243.9h0M201.4 244.3h0M43.7 246.7h0M51.5 246.2h0M98.1 246.3h0M101.2 246.4h0M117.0 246.8h0M126.3 246.4h0M131.4 246.8h0M147.8 247.2h0M151.1 247.4h0M183.8 246.4h0M186.2 247.3h0M206.1 246.3h0M73.0 249.4h0M77.5 249.1h0M107.9 248.4h0M123.9 249.2h0M154.1 248.5h0M157.2 248.4h0M160.9 249.3h0M174.7 249.9h0M198.9 249.3h0M226.6 248.8h0M73.6 252.2h0M87.9 252.3h0M140.2 250.8h0M202.5 251.4h0M205.4 251.6h0M214.0 250.8h0M105.8 254.4h0M130.5 254.7h0M155.3 254.1h0M171.8 254.0h0M185.7 253.3h0M190.5 254.5h0M193.5 254.7h0M196.8 254.2h0M46.3 255.9h0M51.8 256.3h0M67.7 257.0h0M71.5 256.9h0M77.0 256.9h0M84.6 256.1h0M87.1 256.0h0M93.0 255.9h0M101.3 256.0h0M123.5 256.2h0M139.1 256.9h0M151.1 255.6h0M156.1 256.7h0M192.8 256.0h0M211.7 255.8h0M224.8 256.4h0M94.4 259.0h0M105.3 259.1h0M117.1 258.9h0M44.2 261.2h0M46.4 261.5h0M56.7 260.3h0M70.8 261.0h0M75.9 260.9h0M92.4 260.8h0M123.3 261.4h0M141.8 261.7h0M153.2 261.9h0M167.2 260.9h0M184.0 261.3h0M189.1 261.8h0M194.0 261.1h0M206.4 261.0h0M47.6 263.5h0M53.4 264.0h0M62.0 263.6h0M71.9 263.9h0M101.9 263.2h0M105.3 264.2h0M132.4 264.0h0M178.8 264.2h0M182.6 263.4h0M187.2 264.0h0M224.1 263.6h0M46.9 266.1h0M49.5 266.7h0M54.0 265.3h0M60.7 266.3h0M68.0 265.5h0M87.6 266.4h0M89.8 266.3h0M117.8 265.5h0M125.7 266.7h0M142.9 266.0h0M148.1 266.2h0M159.8 266.0h0M180.3 265.8h0M228.2 266.2h0M55.4 268.6h0M70.1 267.9h0M96.8 268.2h0M140.4 268.6h0M185.4 268.5h0M193.5 268.1h0M204.8 268.8h0M217.9 268.6h0M48.9 270.8h0M51.3 271.1h0M87.2 270.4h0M97.9 271.0h0M139.3 270.6h0M144.7 270.1h0M170.7 270.1h0M178.8 270.2h0M190.0 270.3h0M210.7 271.2h0M225.7 271.0h0M58.7 272.4h0M66.9 273.8h0M69.8 273.4h0M91.8 272.9h0M102.7 272.8h0M116.6 273.3h0M127.7 272.7h0M138.7 273.8h0M177.6 273.8h0M178.9 273.2h0M204.1 273.5h0M207.4 273.4h0M225.6 273.5h0M44.3 275.3h0M51.6 275.2h0M63.1 276.0h0M71.4 275.6h0M73.3 276.2h0M101.3 275.3h0M109.7 276.1h0M145.2 276.2h0M183.4 275.4h0M186.7 276.3h0M194.5 275.4h0M216.1 275.1h0M47.1 277.6h0M56.6 277.9h0M60.6 277.5h0M67.4 277.1h0M72.5 277.6h0M80.4 277.3h0M85.5 277.1h0M93.7 278.6h0M96.7 278.6h0M121.3 278.5h0M141.2 277.6h0M143.6 278.5h0M152.1 277.8h0M157.8 277.4h0M179.8 278.5h0M184.7 278.4h0M199.6 277.7h0M224.1 278.3h0M43.5 280.7h0M62.4 280.7h0M70.8 280.4h0M84.7 279.8h0M95.3 280.5h0M159.1 280.5h0M194.7 280.1h0M224.2 280.9h0M66.6 282.0h0M88.3 282.9h0M90.9 281.9h0M97.4 283.4h0M138.0 282.8h0M176.7 282.8h0M187.8 281.9h0M195.7 283.0h0M220.8 282.4h0M49.2 284.9h0M152.8 284.6h0M194.2 285.0h0M217.0 285.3h0M219.6 285.0h0M50.1 288.0h0M53.4 287.1h0M64.3 288.1h0M71.9 286.7h0M105.0 286.7h0M110.6 287.7h0M117.0 286.9h0M135.6 287.8h0M170.7 287.0h0M217.5 288.2h0M49.2 290.2h0M51.9 290.4h0M54.6 289.3h0M60.1 289.5h0M62.3 290.1h0M136.8 290.1h0M165.3 289.3h0M169.8 290.6h0M200.7 289.6h0M214.5 290.0h0M51.1 291.6h0M56.0 293.0h0M71.8 293.0h0M91.0 292.8h0M135.2 292.8h0M157.8 292.8h0M178.9 291.8h0M215.9 292.1h0M218.7 291.8h0M67.9 295.4h0M70.7 295.3h0M96.0 295.2h0M101.2 294.1h0M132.1 294.3h0M133.5 294.3h0M136.3 294.2h0M142.3 294.5h0M159.1 294.9h0M197.9 294.6h0M60.9 296.7h0M72.4 297.1h0M77.9 296.5h0M116.3 297.1h0M125.0 296.7h0M155.4 297.6h0M157.1 297.3h0M170.8 297.8h0M182.3 296.4h0M188.6 297.0h0M198.1 296.2h0M202.3 297.4h0M209.4 297.3h0" stroke="#9a56aa" stroke-width="2.1" stroke-linecap="round" stroke-opacity="0.62" fill="none" filter="url(#bs)"/>
</g></g>
<g clip-path="url(#cIH)"><g filter="url(#bs)">
<rect x="42.1" y="300.1" width="187.8" height="110.8" fill="#e2ae78"/>
<path d="M44.5,382.3 L58.0,381.8 L68.0,381.0 L72.0,382.8 L62.0,385.3 L60.0,390.0 L66.0,395.0 L75.0,399.0 L84.0,401.3 L95.0,402.8 L106.0,404.8 L105.0,407.6 L94.0,407.8 L82.0,406.8 L72.0,404.3 L62.0,401.8 L56.0,400.0 L50.0,398.3 L47.5,396.0 L48.0,390.0 L44.5,388.0 Z" fill="#faf5f0" fill-opacity="1.0" filter="url(#b1)"/>
<path d="M189.0,368.0 L200.0,365.5 L211.0,366.0 L209.0,371.0 L203.0,373.0 L192.0,373.0 Z" fill="#faf5f0" fill-opacity="1.0" filter="url(#b1)"/>
<path d="M197.0,406.0 L203.0,400.0 L210.0,396.0 L216.0,394.5 L214.0,399.0 L207.0,404.0 L200.0,407.5 Z" fill="#faf5f0" fill-opacity="1.0" filter="url(#b1)"/>
<path d="M194.0,300.2 L230.0,300.2 L230.0,303.2 L205.0,303.4 Z" fill="#faf5f0" fill-opacity="1.0" filter="url(#b1)"/>
<path d="M216.0,318.0 L224.0,316.0 L230.0,317.0 L230.0,327.0 L221.0,325.0 Z" fill="#faf5f0" fill-opacity="1.0" filter="url(#b1)"/>
<path d="M44.0 300.8l1.1 -0.0M57.6 303.0l1.1 -1.0M76.7 300.7l1.5 0.4M82.9 301.3l1.5 -0.1M90.0 303.0l1.2 -0.8M97.0 302.2l0.6 0.2M100.2 302.6l0.4 -1.1M102.1 302.2l0.5 -0.8M109.9 302.5l0.7 -0.6M115.2 302.7l1.3 -0.3M140.9 302.9l1.4 -0.9M148.3 301.5l0.6 0.0M151.0 301.4l1.1 -1.2M153.7 301.7l0.9 -0.9M157.3 301.6l0.7 -0.5M176.8 301.6l0.6 -0.7M183.2 300.8l1.1 0.0M188.1 302.8l1.7 -0.8M194.4 302.9l1.5 -0.9M198.4 302.8l0.6 -0.6M42.9 305.2l1.2 0.5M46.7 304.3l0.3 -0.9M48.8 304.6l1.0 -1.1M72.6 303.7l0.9 0.1M79.0 304.6l0.3 -1.0M88.4 305.6l0.6 -1.5M90.6 305.9l0.8 -1.1M103.5 303.8l0.8 -0.3M108.1 305.1l0.4 -0.8M109.7 305.4l1.4 -1.0M114.3 303.2l1.3 0.6M120.0 304.9l1.3 0.4M122.2 304.3l1.5 0.5M126.3 305.2l0.8 -0.8M132.6 305.5l0.5 -1.1M141.7 303.9l0.5 -0.4M144.8 305.3l1.4 -0.3M156.0 303.7l0.7 -0.2M158.2 304.3l1.0 -1.5M162.2 305.8l1.4 -1.3M165.2 304.8l1.5 -0.1M171.9 304.8l0.7 0.3M174.3 304.2l0.5 -1.0M180.5 305.0l1.0 -1.0M187.9 305.5l0.8 -0.3M190.3 305.1l1.0 -0.9M193.7 303.9l1.9 0.3M202.9 304.6l0.6 -0.8M206.9 304.9l1.1 0.4M213.1 305.3l0.5 -1.3M215.5 305.2l1.5 -0.5M220.2 304.1l0.7 0.0M222.5 305.9l0.8 -1.1M228.9 304.8l1.3 -0.5M42.4 306.4l0.9 0.1M50.3 307.8l1.3 -0.1M54.2 308.4l0.2 -0.6M60.0 307.5l1.1 -1.5M69.7 308.0l1.2 -1.5M83.1 307.7l0.8 -1.3M97.0 308.0l0.9 0.3M105.4 307.5l0.7 -0.8M114.7 306.6l1.1 -0.5M127.9 307.4l0.3 -0.9M133.5 308.0l1.0 -1.6M138.0 307.8l1.2 -1.1M153.0 307.8l1.8 0.1M172.2 308.6l0.7 -1.0M182.0 308.4l0.7 -0.5M188.0 307.7l1.9 -0.4M218.2 306.8l1.2 -0.2M46.8 309.4l0.7 -0.2M60.1 310.2l1.0 0.4M72.1 309.4l0.5 -0.7M75.2 310.9l1.3 -0.6M85.1 310.7l1.1 0.3M116.7 309.9l0.4 -1.4M123.5 310.6l1.9 0.2M125.7 311.0l0.6 -1.6M151.8 310.9l0.6 -1.0M154.1 310.4l1.2 -0.4M167.8 309.7l1.6 -0.5M172.2 311.3l0.9 -1.0M187.0 311.3l0.7 -0.5M199.6 310.3l1.1 -0.8M213.2 310.2l0.4 -0.9M219.4 310.8l1.8 0.3M222.7 310.3l1.5 0.4M50.0 313.5l1.6 -1.0M54.6 312.6l0.7 -0.7M61.1 312.7l0.6 -0.0M64.2 313.2l1.4 -0.1M68.3 313.0l0.5 -1.6M76.8 312.7l0.7 -0.3M80.0 313.6l0.9 -1.3M87.0 313.3l0.5 -0.6M88.3 312.7l1.9 0.1M108.2 313.4l1.4 -0.9M125.4 313.0l0.6 -0.0M130.3 312.0l0.9 -0.2M137.6 314.0l0.9 -1.5M147.1 313.1l1.1 -0.8M159.0 312.9l1.6 0.4M179.2 313.9l1.6 -1.0M191.3 312.9l1.2 -1.3M198.8 312.5l1.5 -0.3M230.3 313.5l0.7 -1.8M55.3 315.8l1.8 0.3M61.6 316.2l1.0 -1.0M75.8 316.4l1.1 -1.1M81.9 316.8l0.2 -0.8M84.6 315.4l0.7 -1.2M88.3 317.1l0.5 -1.7M104.4 316.5l1.5 -0.7M141.5 315.5l1.9 -0.1M145.6 316.5l1.7 0.1M161.5 315.6l1.4 -1.5M167.4 314.8l0.6 -0.1M171.5 316.0l1.0 -0.7M194.2 315.7l0.7 -0.6M203.5 316.5l1.5 0.0M212.8 317.4l1.1 -1.6M54.9 318.9l0.6 -1.6M63.9 317.9l0.9 0.2M76.3 317.9l1.5 0.6M80.1 318.1l1.4 -0.8M83.3 317.8l0.9 0.4M93.1 318.2l1.6 0.0M102.9 319.3l1.6 -0.8M106.0 318.3l0.4 -0.5M117.3 319.2l1.3 0.3M120.9 318.7l1.8 -0.1M124.0 318.4l1.3 -1.1M127.5 318.8l0.8 0.3M144.1 317.5l1.5 0.0M150.6 317.9l1.7 0.3M153.9 318.4l0.8 -0.9M189.2 318.6l0.7 -0.8M195.8 318.7l1.2 -1.4M200.9 318.8l0.9 0.1M52.6 322.3l0.7 -1.3M75.2 322.1l0.6 -1.5M109.8 320.4l1.9 0.1M122.8 321.6l0.6 -0.3M137.0 320.5l0.8 -0.6M144.7 321.4l1.6 -0.1M149.1 320.6l0.5 -0.7M159.2 320.7l0.8 -0.7M162.3 320.7l0.9 0.1M209.8 320.8l1.4 -0.5M212.6 320.3l1.8 0.0M215.9 321.5l0.5 -0.8M40.9 324.2l1.8 0.5M51.6 324.1l0.9 -0.5M61.0 324.4l1.5 -0.9M64.7 324.4l1.4 -0.3M77.0 325.3l0.6 -1.2M92.6 323.9l1.1 0.2M116.3 324.0l0.6 -0.5M119.1 324.6l1.6 -0.2M121.6 324.0l1.7 0.7M144.9 323.7l0.6 0.3M147.9 323.9l0.8 -0.3M150.7 323.8l0.5 -0.9M154.0 324.2l1.0 0.3M156.6 325.0l0.8 -1.3M160.3 323.9l1.1 0.4M182.2 323.9l1.3 0.0M184.8 324.5l1.1 0.1M193.1 324.4l0.7 0.1M198.6 324.8l1.3 -0.9M200.8 323.7l0.7 -0.1M214.0 324.9l0.9 -0.4M220.3 324.8l1.1 -0.1M52.6 327.0l0.8 -0.0M98.1 326.0l0.9 -0.4M106.4 327.8l1.3 -1.4M115.8 327.3l1.3 -0.1M119.4 326.4l0.4 -0.5M122.9 327.0l0.3 -1.0M125.2 327.5l1.5 -1.2M129.6 327.0l1.2 0.1M142.3 326.7l1.9 -0.2M152.9 327.0l0.6 -0.8M155.3 326.5l1.8 -0.0M168.1 327.6l1.0 -1.2M183.5 325.8l1.2 0.3M188.3 327.5l0.7 -0.0M199.9 327.4l1.6 0.4M203.1 328.1l0.8 -1.1M218.8 325.6l1.8 0.7M225.8 327.6l1.9 0.1M232.0 327.8l0.9 -0.9M44.9 329.9l1.4 -0.7M48.3 329.4l0.8 -1.3M63.4 329.5l1.8 0.2M68.0 330.7l0.5 -0.5M77.3 329.1l0.4 -0.7M80.9 329.5l1.0 0.3M85.6 329.8l0.9 0.2M89.0 330.0l1.0 -0.6M100.1 330.4l0.7 0.2M108.9 329.5l0.8 -0.4M124.1 329.9l0.6 -0.6M127.5 330.2l1.4 0.3M137.4 329.4l0.8 -0.5M140.8 329.8l1.3 0.2M146.7 329.1l1.5 0.3M153.3 329.4l0.5 -1.5M159.4 329.1l1.2 -0.9M162.4 330.5l1.7 -1.0M194.9 329.1l0.4 -0.9M220.2 330.3l0.3 -1.0M51.6 332.4l1.8 0.2M55.9 332.8l0.6 -1.9M59.1 332.2l1.5 0.7M75.2 332.5l1.0 -0.8M82.5 332.0l0.5 -1.1M85.6 331.8l0.4 -0.7M94.4 332.7l1.8 -0.3M98.8 333.6l0.6 -1.5M133.6 331.8l1.1 -0.8M152.3 333.4l0.8 -0.8M181.8 331.8l1.1 -0.5M42.1 335.2l0.5 -0.8M55.0 334.7l0.8 -1.2M63.6 335.2l1.8 0.4M66.8 335.2l0.8 -1.5M71.4 335.8l0.5 -0.7M83.8 335.2l1.2 -0.2M112.8 334.5l0.7 -0.2M120.7 334.8l1.8 -0.7M127.3 336.4l1.4 -0.6M154.6 335.5l0.7 -1.3M156.2 334.4l1.5 -0.1M162.6 336.1l1.5 -1.1M196.2 334.4l0.9 -0.0M202.0 335.7l1.4 -0.7M221.3 336.0l1.1 -1.6M53.7 338.4l0.7 -0.4M63.4 339.4l0.5 -1.1M77.7 337.7l0.6 -0.8M81.6 337.2l2.0 -0.2M87.6 339.0l1.5 -0.6M90.8 337.0l1.0 0.5M113.4 338.2l1.4 0.0M117.3 339.0l0.9 -0.4M175.2 339.0l0.9 -1.1M190.8 337.4l0.8 0.1M203.6 338.3l0.7 -0.0M205.8 338.5l1.4 -0.3M216.4 337.1l0.9 0.2M228.4 338.6l1.1 -0.1M47.9 340.9l1.5 -1.3M51.6 341.1l0.6 0.2M58.5 341.4l0.7 -0.6M67.8 340.9l0.9 -0.3M79.0 339.5l1.7 0.5M92.2 341.5l0.3 -0.9M119.3 340.7l0.7 -0.7M121.5 342.1l1.4 -1.1M134.4 340.1l1.7 0.0M141.4 340.2l1.3 -0.6M147.0 340.0l1.4 0.1M150.2 341.0l0.8 -0.4M164.1 341.1l0.9 -0.4M170.6 341.2l0.8 0.1M176.2 342.0l0.9 -0.9M180.1 341.3l0.4 -0.6M181.7 340.5l0.6 -1.5M185.0 339.8l1.1 0.2M192.6 341.4l0.6 -0.8M208.7 340.7l0.5 -0.5M50.7 343.6l0.6 -0.4M63.0 343.1l0.5 -0.7M65.6 343.9l0.2 -0.6M71.0 344.1l1.1 0.2M75.5 343.0l0.7 -1.0M78.5 344.3l0.9 -1.3M116.4 344.0l0.5 -0.4M120.8 343.7l1.2 -0.4M136.2 344.4l0.2 -0.6M139.4 343.6l0.6 -1.1M167.1 342.7l1.5 -0.0M193.6 343.7l1.6 -0.7M203.3 343.7l1.7 -0.2M213.5 345.0l0.7 -1.3M215.0 343.9l1.2 -0.4M40.6 347.0l1.6 -0.9M70.6 346.2l1.2 0.0M93.0 346.1l0.8 0.0M96.2 346.6l0.9 -0.2M104.7 347.1l0.8 -1.6M108.6 345.7l1.6 -0.7M111.4 346.0l1.4 -0.5M114.6 346.1l1.0 0.5M122.0 345.7l0.6 -0.8M131.5 346.4l0.7 -0.7M137.3 347.2l0.8 0.1M145.0 347.4l0.2 -0.7M150.4 346.9l0.9 0.0M185.4 346.7l0.9 0.1M192.0 348.1l0.5 -1.6M210.2 345.9l1.2 0.5M214.9 346.6l0.5 -0.7M220.8 346.9l0.4 -1.3M227.8 347.4l0.5 -1.0M56.2 349.7l0.5 -1.2M58.5 350.5l0.5 -1.0M66.3 350.0l0.6 -0.1M68.6 349.7l1.5 0.2M71.6 348.9l0.8 0.1M81.2 348.3l1.0 -0.2M101.3 348.2l0.7 0.0M103.3 349.1l0.7 -0.1M116.6 349.7l1.1 -0.5M135.6 349.3l1.1 -1.6M153.1 350.3l0.6 -1.2M154.4 349.0l0.8 -0.2M162.7 349.1l0.8 -0.2M196.6 348.9l1.1 -1.5M205.9 349.6l0.7 -1.5M219.1 348.4l1.8 0.3M225.9 348.7l0.9 -1.2M55.4 352.8l0.5 -1.0M63.4 352.0l1.3 0.0M74.5 351.2l0.5 -0.4M76.8 352.4l0.5 -0.6M80.6 352.7l0.3 -0.5M87.0 350.8l0.7 0.1M90.1 351.6l1.2 -0.3M92.7 351.6l0.4 -0.9M103.1 352.0l1.3 -0.6M121.8 351.8l0.5 -0.6M125.7 352.2l0.9 -1.2M129.1 352.7l0.2 -0.8M130.3 352.0l1.0 -1.1M150.8 351.3l1.8 -0.3M156.8 351.5l0.9 -0.3M160.4 352.4l0.7 -1.7M164.3 351.2l0.7 0.0M167.3 352.1l0.7 -1.2M169.4 351.7l0.8 0.4M183.1 352.5l0.6 0.2M211.8 352.5l0.6 -0.2M214.4 353.1l1.2 -0.8M220.5 351.6l0.8 -1.4M42.5 354.7l1.7 -0.2M47.6 354.7l0.4 -0.7M55.2 355.0l1.3 0.6M72.1 355.0l0.4 -0.9M76.0 355.4l0.7 -0.3M77.5 355.6l1.0 -1.4M85.9 355.4l0.5 -0.8M96.5 355.5l1.5 -0.2M129.9 354.3l1.2 -0.2M134.9 354.7l1.5 0.6M157.6 355.4l1.0 -0.3M164.7 353.4l1.1 0.5M171.7 354.8l0.7 -0.1M176.6 354.3l1.4 -0.4M202.7 354.9l1.0 -1.0M225.6 355.5l0.7 -1.2M231.5 355.2l1.0 -0.0M51.2 358.8l1.2 -1.3M99.9 358.5l0.5 -0.3M106.7 356.5l0.8 -0.1M108.7 357.5l0.6 -0.9M113.3 357.6l0.2 -0.6M143.5 357.6l1.1 -1.2M160.6 356.5l1.7 -0.1M184.8 358.1l0.7 0.1M192.5 356.7l1.7 0.6M196.1 356.9l1.2 -0.4M207.0 359.0l1.1 -1.3M211.8 357.7l1.0 -0.4M217.3 357.5l0.6 -0.3M224.0 357.1l0.6 -0.5M68.5 359.4l0.9 -0.4M88.7 361.4l0.8 -1.1M91.0 359.8l1.1 -0.6M96.7 360.0l1.5 -0.7M119.5 360.7l1.9 0.4M129.3 360.9l1.1 -0.5M149.1 359.8l1.1 -1.3M167.7 359.4l0.7 0.3M172.1 360.7l0.7 -0.6M178.0 360.6l0.4 -1.3M181.5 359.1l0.7 0.3M184.1 360.0l0.6 -0.8M190.3 360.7l0.9 -0.0M210.4 360.5l0.4 -1.3M220.1 359.3l0.8 -0.1M231.2 360.2l0.6 0.1M53.7 363.8l0.7 -0.7M58.0 363.3l1.3 -0.9M67.3 363.5l0.5 -0.8M70.4 362.5l1.7 0.5M95.4 363.3l0.6 -1.7M115.2 362.8l0.9 -1.2M122.8 362.6l0.5 -0.5M141.4 362.9l0.6 -0.6M174.0 363.2l0.7 -0.2M182.3 363.1l2.0 -0.2M185.5 364.1l1.2 -1.3M189.3 363.9l1.1 -0.3M196.2 362.7l0.4 -0.5M211.8 363.1l0.8 -0.7M214.2 363.7l0.2 -0.6M220.0 363.0l0.7 -1.3M224.3 363.8l0.5 -1.6M226.9 362.5l1.2 -1.1M42.1 365.6l1.5 -0.4M46.9 366.9l1.6 -1.0M49.5 365.6l1.3 -0.0M114.5 365.3l0.9 -0.3M125.8 365.6l1.5 -0.6M135.3 366.3l0.7 -0.3M153.9 365.3l1.7 -0.2M182.0 365.2l0.7 -0.6M200.0 365.4l1.0 -0.7M207.3 365.8l0.9 -0.6M226.4 366.1l1.4 -0.7M232.3 367.2l0.4 -1.4M42.2 368.2l0.6 0.1M63.6 368.4l0.5 -0.7M70.3 367.7l0.7 0.3M82.4 367.5l1.1 0.3M96.1 367.9l1.6 -0.2M101.9 368.1l1.9 0.1M108.5 367.9l0.5 -0.5M124.9 369.1l1.8 -0.5M131.8 368.0l1.4 -0.2M135.0 368.5l0.5 -1.4M140.1 369.8l1.3 -1.3M157.3 369.4l0.6 -0.8M162.8 369.2l1.2 0.4M167.2 368.8l0.6 -0.2M172.9 368.8l1.9 -0.6M177.1 367.9l0.9 -0.4M178.2 369.4l1.7 -0.6M220.5 369.5l1.0 -0.6M42.5 370.5l0.7 0.1M49.7 371.7l0.8 -0.9M59.7 372.0l1.6 0.0M71.2 371.5l1.4 0.2M90.1 372.0l1.2 0.3M96.8 371.0l0.8 -0.3M111.2 371.8l0.6 -0.6M112.6 370.8l1.4 0.4M119.7 371.6l0.8 -0.4M122.9 372.2l0.7 -0.9M149.0 371.9l1.6 0.3M156.1 371.9l0.7 0.2M159.1 371.3l0.5 -1.4M160.9 371.2l0.7 0.3M171.4 370.0l1.4 0.6M210.3 371.2l0.7 -0.9M213.8 371.7l0.4 -0.5M217.1 372.7l0.3 -0.8M222.5 371.3l1.4 -0.0M226.3 371.1l0.3 -1.2M227.9 371.3l2.0 -0.1M233.0 372.1l1.1 -1.1M46.8 373.1l1.9 0.2M54.7 373.6l1.3 0.0M70.8 374.3l0.2 -0.7M90.4 374.4l0.6 -0.6M104.8 373.3l1.8 0.6M115.1 374.6l1.2 0.2M118.2 374.7l0.9 -1.2M127.8 373.8l1.2 -1.1M138.4 374.3l0.5 -0.9M154.6 375.3l0.3 -0.9M169.1 374.0l1.0 0.5M180.3 374.7l0.6 -1.2M182.3 373.9l1.4 0.6M195.5 375.1l1.2 -1.0M198.1 374.9l0.6 -0.6M202.0 373.2l0.8 -0.1M213.8 373.0l1.3 0.6M216.8 373.6l1.3 -0.6M229.8 374.8l1.2 -1.1M43.7 377.7l0.7 0.3M46.1 377.2l0.9 -0.3M50.4 377.5l1.5 0.0M56.6 376.6l1.5 0.0M60.1 376.5l0.9 -0.5M74.2 375.8l1.6 0.5M94.6 375.9l1.5 0.1M106.5 376.8l1.2 0.5M119.1 377.5l1.3 -1.3M127.2 378.2l0.6 -1.6M136.2 378.1l1.2 -1.3M160.8 376.9l0.8 -0.0M163.9 376.6l0.8 -0.4M171.8 377.0l0.7 0.2M175.3 378.4l0.6 -1.8M178.3 377.6l0.7 -1.2M184.0 376.6l0.4 -0.8M199.3 378.3l0.9 -1.6M205.9 376.9l1.4 -0.6M216.0 377.0l1.0 -0.6M219.3 377.4l0.6 -1.7M224.7 377.8l1.1 -1.2M45.2 379.6l0.5 -1.5M50.9 379.0l0.8 0.0M54.5 380.6l1.3 -0.4M63.6 379.1l1.6 -0.7M69.8 379.1l1.0 -0.4M73.9 379.8l1.0 0.5M76.5 380.6l1.9 -0.4M98.6 380.6l0.8 0.0M102.5 379.5l0.8 0.0M104.5 380.8l1.5 -1.1M108.8 379.8l0.6 -0.2M124.9 378.7l1.1 0.3M135.2 381.0l1.2 -1.1M153.4 379.1l1.5 0.1M156.5 379.2l0.8 0.1M159.9 380.8l0.5 -1.8M167.1 379.0l0.9 -0.3M170.7 380.0l0.5 -0.6M174.1 379.2l0.3 -0.8M181.9 378.7l1.3 0.3M185.4 379.7l0.7 -0.9M192.8 380.8l0.3 -0.6M194.4 379.2l1.9 -0.4M198.1 380.0l1.3 0.4M200.9 380.2l1.3 -0.3M210.5 380.1l0.6 -1.1M221.3 379.7l1.3 0.3M231.5 379.4l0.8 -0.1M79.4 383.2l0.5 -0.7M88.5 382.8l0.7 -0.8M104.5 382.6l0.8 -0.9M108.1 383.0l0.6 -1.3M112.6 383.6l1.1 -0.9M143.2 382.6l1.1 -0.4M151.4 382.7l0.8 -0.7M164.0 383.2l1.0 -0.1M168.3 383.6l0.9 -1.5M178.0 381.9l1.1 0.3M186.8 383.8l1.7 -1.0M190.1 382.6l1.1 -0.4M196.5 382.6l0.4 -0.9M205.6 383.8l1.4 -0.9M222.3 382.6l1.7 -0.4M228.1 381.9l0.8 -1.0M64.5 385.4l1.7 0.5M71.4 384.9l0.6 -0.4M76.4 386.5l0.4 -0.6M92.7 385.1l1.0 0.2M124.6 385.3l0.3 -0.7M134.0 385.1l1.5 0.5M141.5 385.6l1.3 0.2M143.3 384.4l1.8 0.8M148.1 385.5l0.6 -0.1M151.4 385.3l0.9 -1.5M153.2 384.4l0.7 0.1M155.5 385.9l1.6 -0.8M174.9 385.3l1.5 0.7M182.8 385.6l1.1 0.5M186.0 385.9l0.4 -1.2M192.9 385.1l1.0 -0.4M225.1 385.7l0.2 -0.7M65.6 389.1l0.4 -0.5M71.2 389.6l0.7 -1.7M74.1 388.0l1.7 -0.1M78.5 387.5l0.7 -0.1M84.3 388.3l1.7 -0.3M90.9 388.6l0.7 -0.0M94.4 388.3l1.0 0.4M97.8 388.1l0.8 0.0M111.1 389.2l0.6 -1.4M114.0 388.7l1.6 -0.3M120.5 387.4l1.7 0.1M151.8 387.8l0.7 0.0M154.6 387.1l1.0 0.1M159.3 388.1l0.4 -0.4M171.4 389.2l1.5 -0.8M181.7 388.2l0.9 -1.4M190.9 388.5l0.4 -0.8M193.2 388.7l0.8 -1.4M199.9 389.1l0.8 -0.8M213.8 388.9l0.8 -0.1M215.5 388.8l0.3 -0.7M219.8 388.0l0.4 -0.5M221.9 388.6l1.3 -0.8M228.7 387.5l1.3 -0.2M45.2 390.5l1.7 0.2M60.1 389.8l1.0 0.3M73.2 391.8l1.7 -0.5M76.4 391.3l1.1 0.1M89.2 389.9l1.2 0.1M102.0 390.7l1.3 -0.1M105.2 390.4l1.0 -1.2M118.0 390.3l1.1 0.1M121.0 391.1l0.8 -0.1M133.8 391.3l1.7 -0.4M138.4 390.8l1.4 -1.2M148.0 390.7l0.7 0.3M169.8 390.6l1.3 -0.2M198.8 390.9l1.7 -0.5M205.4 392.2l1.2 -1.3M221.5 391.4l1.2 -1.5M223.7 390.6l0.4 -1.1M227.9 391.5l0.8 -0.6M53.2 392.7l0.8 0.1M74.3 394.0l1.7 -0.9M82.2 394.5l1.3 -0.2M88.7 393.6l1.3 -1.0M91.4 393.8l0.9 0.2M94.6 394.2l0.8 -1.4M100.9 394.7l0.6 -0.3M109.9 394.1l0.9 -0.2M135.2 394.0l1.1 -0.3M139.2 393.0l1.5 -0.5M144.9 394.7l0.6 -1.6M174.9 393.0l1.5 0.5M177.0 394.0l1.2 -1.2M183.3 393.8l0.9 0.1M191.2 393.5l1.2 0.1M197.2 394.1l0.8 -0.9M199.9 393.7l0.4 -1.3M232.1 393.4l1.4 -0.3M44.2 396.9l1.5 0.2M70.3 396.4l1.3 -0.1M83.8 395.9l0.8 -0.2M108.9 396.5l1.3 -0.5M117.6 397.4l0.7 -1.1M121.6 397.3l1.2 -1.6M147.5 396.0l0.6 -0.6M156.1 395.8l0.9 0.0M167.0 395.6l0.7 0.3M169.9 395.6l1.6 -0.0M173.4 397.6l1.2 -0.9M185.4 398.0l0.8 -1.3M192.5 397.0l0.6 -1.4M221.7 397.8l0.7 -1.2M46.0 398.5l1.2 -0.3M53.6 399.7l1.0 0.3M75.3 398.6l0.6 -0.6M87.6 399.7l1.3 -1.0M104.0 399.7l1.1 -1.5M106.6 399.7l1.8 0.8M110.1 399.4l0.7 -1.0M129.6 400.6l0.4 -1.4M136.0 399.9l1.2 -0.1M148.9 398.9l1.4 0.3M158.8 398.6l0.8 -0.5M161.2 398.0l1.4 0.6M174.7 399.8l1.1 0.2M190.9 398.1l1.8 0.4M193.2 399.8l1.5 -0.6M204.0 398.4l1.0 -0.3M44.7 401.5l1.0 -1.1M58.1 402.2l0.6 -0.2M86.6 401.6l1.2 0.2M92.8 402.8l1.3 -0.9M98.0 401.2l1.6 0.4M101.8 401.2l1.5 -0.2M108.5 401.9l0.4 -0.8M112.7 401.0l0.8 -0.0M117.8 402.0l0.4 -1.0M156.2 402.5l1.4 -0.7M165.8 401.3l1.5 -0.5M178.0 402.5l1.5 -0.3M188.0 402.1l1.3 -0.0M195.3 402.2l1.5 0.3M214.7 401.9l1.4 -0.5M225.0 402.5l0.4 -1.4M42.5 405.3l0.8 0.4M52.9 404.8l0.3 -1.0M56.7 404.4l1.1 -0.8M65.4 405.9l0.5 -1.1M69.6 406.2l0.8 -1.0M126.7 405.8l0.9 -0.6M131.8 404.1l1.7 -0.4M136.2 404.4l0.6 -0.7M142.0 406.2l1.4 -1.3M152.3 405.0l0.7 0.1M155.6 404.1l1.5 -0.6M163.7 405.1l1.5 -1.1M178.2 405.1l0.8 0.2M184.0 405.4l1.2 0.5M214.0 404.3l0.5 -0.3M218.6 404.0l1.6 0.4M44.6 408.5l0.6 -0.1M57.1 408.3l1.3 -0.4M65.2 408.3l0.4 -0.8M69.7 407.0l1.4 -0.9M111.9 407.2l0.5 -0.9M118.3 407.6l1.5 -0.5M124.4 406.9l0.8 0.3M131.4 408.1l0.9 -1.5M140.0 407.0l1.3 -0.1M149.9 408.0l0.8 -0.7M160.0 408.3l1.3 -1.3M163.0 407.4l1.2 0.5M166.3 407.3l1.1 -1.2M179.4 408.3l0.4 -1.1M181.8 407.7l1.3 0.1M202.4 407.8l0.9 -0.9M204.2 408.2l0.9 -0.9M219.6 408.3l1.4 0.3M42.8 411.1l1.0 -0.3M103.6 409.7l1.9 -0.4M113.7 411.0l1.1 0.3M116.8 409.9l1.2 -0.2M155.7 411.2l0.3 -1.0M157.5 410.5l0.9 -0.2M164.7 411.0l1.2 -0.4M177.8 411.5l0.4 -1.5M189.7 410.0l1.0 0.4M194.1 410.0l1.8 -0.2M205.9 410.0l1.4 0.6M215.3 409.5l1.1 0.4M219.0 410.3l0.9 -0.9M223.3 409.5l0.8 -0.4M43.7 412.5l1.7 -0.3M50.1 412.1l1.2 0.5M53.8 413.8l1.3 0.4M64.0 412.9l0.8 0.1M79.5 411.9l0.8 0.4M95.6 413.2l0.6 -1.0M105.9 413.3l1.0 -1.3M112.6 413.2l1.8 0.1M116.4 412.6l0.4 -0.8M143.9 412.4l0.7 -0.6M156.3 412.9l0.4 -0.7M166.4 414.3l1.0 -0.5M170.6 412.9l0.5 -1.1M181.7 413.7l1.7 -0.5M188.2 414.3l0.7 -1.3M201.9 412.6l1.3 0.1M208.6 413.1l0.8 -1.6M226.3 413.2l1.3 -0.5M231.0 413.4l0.8 -0.3" stroke="#c07430" stroke-width="2.7" stroke-linecap="round" stroke-opacity="0.62" fill="none" filter="url(#bs)"/>
<path d="M51.9 302.5l0.8 -0.1M73.3 301.9l1.0 -1.4M92.2 300.8l0.9 0.1M105.5 301.7l1.2 -0.4M121.1 301.7l1.3 -0.6M124.7 302.5l1.4 -0.8M131.3 302.5l0.6 -0.7M143.5 302.1l0.7 -0.6M162.4 301.5l1.1 -0.5M167.1 301.6l0.7 -1.2M169.9 303.0l1.6 -1.1M178.4 301.5l1.2 0.3M229.4 302.4l1.9 0.4M52.6 305.4l0.5 -1.6M66.7 304.3l0.8 -1.6M68.7 305.6l0.6 -1.8M75.1 305.8l0.3 -0.7M81.5 305.7l1.0 -0.9M93.9 305.6l0.4 -1.1M98.2 304.2l0.8 -0.4M100.9 305.4l1.7 -0.3M117.5 304.8l0.8 0.1M135.6 304.6l1.1 -1.2M138.5 305.5l0.5 -0.8M152.6 305.2l0.9 -0.8M184.5 305.3l1.4 0.1M56.7 307.9l1.6 -0.5M74.6 307.1l0.7 -0.5M92.3 308.4l0.8 -1.6M111.4 308.1l1.5 -0.5M123.8 306.4l1.5 0.0M130.4 307.0l1.1 -1.0M159.8 307.4l1.3 -0.1M192.3 308.1l1.1 0.3M198.0 308.5l0.9 -1.6M207.9 306.6l0.9 0.2M211.3 308.0l0.5 -0.9M221.5 308.3l0.7 -0.3M224.4 306.2l1.7 0.3M43.6 311.3l1.1 -1.6M53.4 309.7l1.4 -1.0M55.3 310.2l1.9 -0.5M68.7 311.6l0.4 -1.3M78.1 309.7l0.9 0.4M87.6 310.1l0.6 -0.7M107.3 310.7l0.5 -1.5M111.1 309.5l0.6 -0.7M135.8 310.2l1.9 0.3M141.3 310.5l1.6 -0.0M146.4 309.8l0.5 -1.0M149.0 309.5l1.7 -0.8M157.4 310.3l1.6 0.3M178.0 309.9l1.5 -0.8M180.4 309.9l0.5 -0.4M202.2 311.1l1.0 -0.1M41.6 313.9l1.6 -1.2M47.4 312.5l1.4 -0.3M57.5 314.4l0.4 -1.2M70.9 313.6l1.5 -1.0M93.3 314.5l1.4 -1.4M94.9 312.7l1.5 -0.3M98.6 312.4l0.3 -0.8M115.1 312.3l0.7 -0.2M139.9 313.5l0.8 -0.1M156.1 313.8l0.5 -0.5M170.2 312.2l1.5 0.5M214.8 313.5l0.8 -1.0M218.6 313.2l0.6 0.2M226.4 313.8l0.8 -1.2M58.6 315.0l1.6 0.1M72.6 316.7l0.5 -1.8M91.2 314.7l0.7 0.2M96.8 316.9l1.7 -0.8M114.2 316.5l0.8 -0.6M127.2 316.4l1.0 -1.2M136.0 315.1l1.4 0.6M151.4 316.2l0.9 -0.2M158.0 315.3l1.7 -0.2M165.6 316.6l1.1 -1.3M174.2 316.0l0.5 -1.5M176.6 315.6l1.5 0.1M191.2 317.0l1.0 -1.4M199.4 314.7l1.6 0.6M47.1 317.9l1.2 0.0M61.4 319.5l1.6 -1.1M67.1 318.4l1.2 -0.8M131.7 318.8l1.5 -0.4M146.1 319.8l1.6 -1.2M178.4 319.2l0.8 -1.7M191.8 319.2l0.2 -0.8M198.7 318.7l0.7 -0.9M205.9 319.8l0.3 -0.9M213.9 318.3l1.8 -0.1M230.8 319.4l0.9 -1.2M62.9 321.8l0.3 -0.7M68.7 322.8l0.9 -1.5M73.0 320.6l0.7 0.2M78.9 321.6l1.5 0.1M82.2 321.9l1.7 0.3M85.0 321.2l1.0 0.1M138.9 321.3l1.0 -0.5M153.1 322.1l0.4 -0.6M178.1 321.5l1.3 0.1M187.2 321.7l1.3 -0.3M197.6 321.9l1.0 0.2M200.2 320.5l1.9 -0.1M202.1 320.4l1.9 -0.2M69.3 324.9l1.8 -0.0M74.5 323.7l1.2 -1.3M86.6 323.1l1.4 0.1M127.1 323.8l1.4 -0.2M136.8 325.1l1.1 -1.0M166.0 323.4l1.7 0.4M170.1 324.3l0.8 -0.8M175.6 324.0l1.4 -0.0M188.7 324.9l0.4 -0.6M217.6 324.1l1.1 0.2M43.8 326.5l0.7 -0.3M46.8 326.2l0.8 0.1M57.0 326.9l0.6 -0.2M101.0 327.3l0.6 -0.9M104.3 327.6l1.3 -1.1M138.4 327.8l1.8 -0.3M144.5 327.1l1.3 -0.8M178.5 327.1l0.7 0.2M192.6 326.9l1.6 0.7M207.0 326.1l1.7 0.2M209.9 327.3l0.6 -0.7M215.1 326.4l1.1 -0.7M228.8 328.1l0.5 -0.7M54.2 329.9l0.9 -0.0M83.7 330.1l1.1 -1.3M92.8 329.7l0.7 -0.2M95.6 329.5l1.4 0.0M103.2 329.7l0.9 -0.5M118.9 329.2l0.7 0.3M121.3 329.3l1.4 -0.4M182.3 330.0l1.9 -0.2M185.5 330.2l0.7 -1.0M188.0 330.5l1.5 -0.5M199.4 330.3l0.5 -0.5M227.0 329.6l1.0 -0.3M50.0 333.6l0.8 -1.6M64.7 332.6l0.8 -0.8M71.6 332.7l0.9 0.1M88.8 332.6l1.4 -0.0M103.2 333.4l0.8 -1.5M110.5 332.1l1.4 -1.4M113.7 331.4l1.2 0.1M129.4 332.0l1.3 -0.5M148.8 333.0l1.1 -0.4M155.3 333.0l0.6 -0.4M174.0 332.3l1.7 0.7M186.7 331.5l0.8 0.2M200.4 332.4l0.8 -0.4M225.3 332.7l0.8 -1.3M51.0 335.1l1.4 -0.1M74.2 334.4l0.7 -0.5M77.0 334.7l1.7 -0.6M89.0 335.2l1.1 0.4M95.4 335.2l0.9 -0.5M115.9 334.4l0.9 -0.2M119.7 336.6l0.4 -1.3M135.4 335.1l0.9 -0.2M166.1 335.4l1.5 0.1M173.3 335.9l0.5 -1.5M182.5 335.1l0.9 -0.4M218.0 336.1l1.2 -1.6M226.6 334.5l1.4 0.5M231.1 336.4l0.7 -1.1M68.4 338.6l1.5 0.0M72.8 337.4l1.3 -0.4M84.0 338.5l1.9 -0.4M96.9 337.8l0.4 -0.5M106.4 337.8l0.6 -0.4M123.1 338.7l1.4 -1.2M130.2 338.4l1.7 -0.2M131.9 338.2l1.3 -0.1M151.4 337.4l1.3 0.5M161.5 338.1l1.1 -0.6M168.2 338.3l0.8 -0.4M213.3 337.0l1.6 0.0M222.6 337.1l2.0 -0.1M53.9 341.4l0.7 -0.2M60.4 341.3l0.7 -0.6M63.5 340.4l1.0 -1.1M77.0 340.6l0.9 -1.5M83.4 341.8l1.8 -0.3M99.1 341.2l0.7 -1.2M102.2 342.2l1.0 -1.5M132.0 341.6l0.6 -1.2M143.2 341.8l1.3 -0.3M156.3 340.5l1.3 -1.0M198.2 341.1l0.5 -1.0M205.5 340.8l1.7 0.0M214.7 341.2l1.1 -0.9M43.8 342.9l0.7 -0.4M56.6 344.1l0.4 -0.6M69.1 344.3l0.7 -0.5M100.7 343.1l1.6 -0.6M114.3 343.2l0.5 -0.7M123.1 343.4l0.2 -0.6M148.8 343.0l1.2 -0.8M157.5 343.6l1.9 -0.0M161.6 343.1l0.8 -0.6M178.7 344.5l0.7 -0.8M184.8 343.5l1.0 0.0M186.6 342.9l1.0 0.4M190.5 344.1l0.8 0.1M199.9 344.4l0.4 -1.1M206.6 342.6l1.5 0.6M222.4 344.1l1.1 -0.9M225.4 344.4l1.7 -0.1M44.7 345.0l1.3 0.6M50.4 346.2l0.8 -1.5M54.5 346.7l0.7 -0.2M61.4 345.7l1.3 -0.7M76.0 345.4l1.2 0.2M86.6 347.1l0.9 -1.0M99.2 346.4l1.1 -0.2M140.3 346.6l0.6 -0.6M159.6 345.2l0.8 0.3M169.3 347.4l1.2 -1.0M180.0 346.9l0.7 0.3M197.8 347.8l1.0 -1.6M217.6 347.0l1.9 0.2M223.2 346.5l1.3 -1.0M230.6 347.1l0.7 0.0M48.9 349.2l1.0 -0.7M53.0 348.8l1.4 -0.3M84.1 349.4l1.2 0.2M98.4 348.2l0.8 0.2M126.2 350.1l1.2 -1.3M130.3 349.8l0.8 -0.4M133.3 348.7l1.7 0.0M141.7 349.3l0.9 -0.8M164.2 348.7l1.1 -0.4M168.0 349.6l1.3 0.2M170.6 349.6l1.4 0.5M177.9 350.3l0.9 -1.3M180.5 349.4l0.6 0.1M228.7 350.7l0.4 -1.4M41.2 351.1l1.4 -0.5M47.6 351.1l0.4 -0.6M133.3 351.8l1.3 -0.5M172.1 353.4l0.5 -1.3M177.1 352.1l0.8 -1.2M185.8 351.9l1.6 0.3M198.6 353.3l1.0 -1.2M201.6 352.6l0.7 -0.1M51.9 354.8l1.9 -0.4M63.2 354.1l1.4 -0.4M69.3 355.7l0.6 -0.2M107.6 355.1l0.6 -0.7M112.5 354.2l1.6 0.7M115.6 355.1l1.9 -0.6M125.5 355.8l1.1 -1.3M142.8 355.6l1.2 -0.9M146.4 354.2l1.0 -0.4M180.6 355.2l0.8 -0.3M183.3 354.3l1.3 0.4M193.7 355.3l1.5 -0.3M199.4 355.2l1.3 -0.7M208.7 355.0l1.7 -0.6M213.6 354.2l0.3 -0.8M222.3 356.1l0.6 -1.8M42.1 358.2l0.7 -0.3M63.6 358.8l1.3 -1.1M70.3 357.5l0.8 -1.2M76.4 358.1l1.7 -0.2M83.4 358.1l0.5 -0.3M95.8 356.4l0.8 0.3M130.5 358.4l1.0 -1.0M139.8 357.2l1.8 0.1M148.3 358.5l0.6 -0.4M166.8 357.9l1.1 0.1M181.4 358.0l1.3 -0.5M201.0 357.4l1.9 -0.1M42.5 359.6l1.8 -0.4M49.5 360.3l0.9 -1.2M56.7 360.6l1.1 -1.1M72.6 360.4l0.7 -0.9M75.0 360.7l1.7 0.1M81.4 359.6l0.9 0.4M160.4 359.3l1.9 0.1M163.7 359.8l1.7 -0.7M193.2 360.2l0.2 -0.6M60.5 362.3l0.8 -0.5M109.4 362.5l1.3 -0.8M125.1 362.5l1.2 0.3M127.3 363.2l1.1 -0.8M137.4 363.4l0.7 -0.2M148.1 363.2l1.1 -0.5M156.8 363.8l1.1 -0.5M175.4 362.2l0.7 -0.2M52.6 366.1l0.4 -1.2M87.4 365.3l1.4 0.3M91.9 366.4l1.1 -1.0M100.6 366.7l0.4 -0.7M111.5 366.6l0.6 -1.8M119.8 365.8l0.7 -0.8M144.4 365.3l1.8 0.2M161.5 367.0l1.7 -0.6M164.5 365.5l0.4 -1.1M177.5 367.0l1.3 -0.7M184.9 366.2l1.0 -1.4M187.0 365.3l0.4 -0.7M68.3 368.5l0.4 -0.6M76.6 369.5l0.5 -0.5M90.4 368.3l0.9 -0.2M98.7 367.9l1.3 0.2M106.3 369.6l1.4 -0.9M147.8 368.3l0.6 -1.0M150.9 367.6l0.6 0.3M170.3 368.7l0.6 -0.3M185.8 369.4l1.1 -1.6M69.1 371.5l1.2 0.3M76.1 371.9l1.0 -0.7M78.1 371.8l1.4 0.4M80.7 371.2l1.0 -0.3M87.1 370.5l0.9 0.4M103.5 371.6l1.9 0.2M135.3 371.4l0.5 -1.3M176.7 372.3l1.5 -0.6M183.5 370.8l0.9 -0.6M186.7 371.3l0.8 0.0M58.8 374.0l0.6 -0.5M60.2 373.3l1.9 -0.3M77.0 374.2l0.3 -1.2M82.3 374.2l1.1 -0.5M86.0 374.0l1.2 -0.8M102.8 374.1l0.3 -0.8M111.4 373.9l1.4 0.4M129.9 373.3l1.8 0.1M150.7 374.3l1.0 -1.5M157.7 374.8l0.8 -0.4M188.2 373.7l0.7 -0.7M204.6 375.0l0.6 -0.3M223.8 374.8l1.3 0.4M227.6 374.5l0.8 -0.1M52.4 377.0l0.9 0.3M64.8 378.0l1.6 -1.1M97.6 377.2l1.0 0.1M100.5 378.0l1.8 -0.7M103.8 377.5l1.8 0.4M111.1 377.4l1.4 0.1M148.9 377.7l1.1 -0.8M155.8 378.8l0.5 -1.8M158.4 377.6l1.1 0.0M167.9 376.9l0.6 -1.6M181.1 376.6l1.9 -0.2M210.7 378.1l0.6 -1.8M228.9 377.8l1.6 -0.7M40.6 379.4l1.2 -0.6M80.3 380.7l1.4 -0.3M83.7 380.1l0.3 -0.6M96.6 379.9l0.7 -0.5M121.9 379.1l0.3 -0.7M130.6 380.0l0.7 -1.6M147.7 380.6l1.6 -0.2M217.1 380.0l0.7 -0.2M97.9 383.9l0.8 -1.4M101.3 383.6l0.7 -0.4M111.4 382.5l0.6 -1.8M125.4 382.6l1.6 -0.3M136.8 381.9l0.3 -0.6M202.5 383.1l1.6 -1.1M216.0 381.3l1.4 0.3M232.6 383.5l0.2 -0.7M41.2 385.9l1.7 0.3M67.0 385.7l1.4 0.3M79.5 385.6l1.6 -0.3M84.0 385.3l0.6 -0.9M121.4 385.1l0.7 -0.6M138.2 385.5l1.0 -1.6M163.4 385.3l0.3 -0.8M179.1 385.5l0.4 -1.1M188.7 384.9l0.9 -1.2M199.0 385.7l1.6 0.7M212.1 386.7l1.0 -1.3M226.1 385.6l1.2 -0.1M229.9 386.3l0.2 -0.7M42.8 387.5l1.8 -0.5M82.1 387.1l1.8 -0.1M100.9 388.3l0.5 -0.5M104.0 389.3l1.2 -0.9M126.5 387.5l1.1 0.1M133.2 388.3l0.5 -1.0M136.9 388.8l0.8 -1.2M138.7 388.5l0.8 -0.9M160.6 387.2l1.9 0.6M165.9 388.2l0.9 -0.6M177.3 388.7l1.2 -0.2M186.8 387.0l0.8 0.1M196.3 387.4l0.3 -0.5M232.6 388.1l0.6 -1.2M41.8 392.2l1.1 -1.2M64.5 390.2l1.0 0.2M70.1 391.0l1.9 0.3M87.1 390.4l0.9 -0.7M96.8 391.4l1.0 0.2M108.8 391.1l0.7 -0.1M123.7 391.6l1.5 0.3M150.4 392.1l0.8 -1.4M157.7 391.3l1.2 0.3M160.4 391.2l1.7 -0.0M162.4 391.4l1.7 0.7M79.1 394.0l0.4 -0.7M84.8 393.0l1.8 0.4M97.7 394.5l1.7 -0.3M106.9 394.1l0.8 0.3M112.7 392.9l0.8 0.2M119.8 393.6l0.7 -0.2M123.9 394.7l0.8 -0.4M133.0 394.5l0.6 -0.4M141.7 394.0l1.4 -0.4M148.6 394.6l1.7 -0.7M187.4 394.4l0.7 -0.4M216.2 393.0l0.5 -0.7M53.7 397.6l1.0 -1.6M73.6 396.7l1.1 -1.2M88.8 398.1l0.6 -1.8M106.5 396.1l1.2 0.4M162.5 397.5l0.9 -0.6M182.5 396.9l1.2 -0.5M195.5 395.9l0.9 -0.6M208.9 397.0l0.4 -1.6M226.7 396.3l1.6 0.8M48.9 399.1l1.6 -1.0M78.4 399.4l1.5 -1.3M81.3 400.2l0.5 -1.2M85.2 400.7l1.1 -1.4M92.1 398.9l0.6 -0.2M120.6 398.9l1.0 -0.8M122.9 400.6l0.8 -1.3M125.6 398.7l1.5 -1.0M141.1 398.3l2.0 0.2M152.9 400.2l0.5 -0.5M196.8 398.1l0.6 0.2M216.3 400.1l1.6 -0.0M114.7 403.0l0.5 -1.0M125.0 401.6l1.4 -0.7M131.5 402.7l0.6 -0.4M150.9 401.9l1.2 -0.1M198.0 402.3l1.5 -0.5M211.3 402.5l0.7 -1.6M230.5 403.1l1.2 -1.5M46.9 405.5l0.9 -0.5M59.6 406.0l0.5 -1.3M62.3 404.1l1.6 0.7M114.1 405.1l1.6 -0.1M117.3 404.8l0.6 -1.9M162.6 404.3l0.4 -0.9M174.7 404.9l1.6 -0.5M181.0 404.4l0.8 0.4M186.7 405.3l1.7 -0.1M190.0 404.1l0.8 0.3M193.8 405.0l1.4 -1.4M196.5 404.3l0.7 0.3M222.5 405.7l0.6 -0.8M225.9 404.3l1.6 0.4M41.2 406.9l0.8 0.0M52.3 407.9l0.7 -0.8M54.9 407.4l0.9 -0.5M73.6 406.4l1.2 0.5M76.9 407.3l1.0 -0.1M93.5 408.1l1.2 -0.1M96.0 408.4l0.8 -0.3M189.7 408.5l0.8 -1.3M207.1 407.8l1.1 0.5M210.5 408.4l1.3 -0.8M230.0 408.6l0.6 -0.9M66.2 409.5l0.4 -0.5M72.2 409.5l0.9 0.3M75.4 410.3l0.6 -0.6M81.4 410.7l0.5 -0.4M87.3 410.3l1.3 -0.6M90.9 410.4l1.3 -0.1M98.4 410.3l1.1 -0.0M111.0 410.6l1.2 -0.8M161.9 411.6l0.7 -1.7M184.8 410.0l1.2 -1.3M212.8 409.9l0.7 -0.6M57.5 414.0l0.9 0.2M60.7 413.9l1.9 -0.4M68.3 414.2l0.4 -1.0M71.2 413.5l0.6 -1.6M73.4 412.9l1.3 -0.9M137.4 412.4l0.7 -0.2M172.7 413.5l1.9 0.2M186.4 412.1l1.1 0.4M193.1 414.1l0.5 -0.6M194.6 413.4l1.6 -1.2M211.8 412.0l0.8 0.2M215.6 414.1l0.6 -0.3M220.2 413.8l0.8 -0.2" stroke="#b0621f" stroke-width="2.5" stroke-linecap="round" stroke-opacity="0.6" fill="none" filter="url(#bs)"/>
<path d="M42.2 302.6l1.0 0.0M47.3 302.9l1.6 -1.1M64.6 300.9l1.7 0.2M66.8 301.3l1.3 -1.1M71.0 302.6l0.9 -0.3M81.2 302.3l0.3 -0.9M87.6 302.6l0.6 -0.2M111.0 302.6l1.2 -0.8M128.4 301.9l0.4 -0.5M133.0 301.9l1.8 -0.4M138.6 302.5l0.6 -0.2M173.3 302.7l0.9 -0.8M192.4 302.4l1.5 0.1M56.9 305.0l1.0 -0.2M61.6 304.7l0.9 -0.9M85.5 304.2l1.1 -1.1M129.8 305.6l0.9 -0.5M167.9 305.4l1.0 -0.4M197.2 304.0l1.4 -0.9M200.3 303.7l1.0 -0.2M209.8 305.2l1.8 -0.5M224.8 305.1l1.7 0.7M231.2 304.8l0.8 0.2M46.6 308.6l1.7 -1.0M64.2 308.3l0.7 -0.3M67.0 306.6l1.3 0.5M77.3 307.1l1.0 -0.8M86.6 307.1l0.8 -0.3M99.7 307.2l1.8 -0.6M108.3 306.5l1.7 -0.3M140.0 307.3l1.6 0.2M144.6 307.0l0.7 -0.4M147.7 308.5l0.8 -1.3M150.1 306.5l0.7 -0.1M155.9 307.7l1.1 -1.2M163.0 308.0l1.7 0.4M166.3 306.8l0.9 -0.4M168.8 307.4l0.7 -1.1M176.8 306.8l1.1 0.2M177.9 308.6l1.6 -1.2M186.2 307.1l1.5 -1.3M202.5 308.2l0.9 -0.2M203.8 307.8l1.3 -1.4M214.5 307.3l0.6 -0.6M228.0 307.4l0.5 -0.6M230.9 307.1l1.2 -1.3M49.4 309.9l1.1 -0.6M82.0 310.1l1.8 0.2M90.4 310.5l1.8 0.8M98.7 311.0l0.6 -1.9M100.0 310.5l1.1 0.3M105.0 309.3l0.9 0.2M113.6 309.7l1.2 0.2M119.6 309.0l0.6 0.2M132.5 310.3l0.3 -1.0M139.5 309.5l0.8 -0.1M162.0 310.1l0.6 -0.7M164.4 311.1l1.7 -0.2M173.5 310.5l1.2 -0.6M183.8 309.4l0.7 0.3M194.1 310.5l1.6 0.4M197.3 310.4l0.9 -0.7M207.2 309.1l0.8 0.3M209.8 309.7l1.1 -0.5M217.0 310.6l0.8 -1.6M232.0 310.9l0.4 -1.3M83.9 313.3l1.0 -1.2M112.3 312.8l1.5 -0.9M120.7 313.5l0.8 -1.4M133.6 312.5l0.8 -0.1M143.8 312.8l0.6 0.1M150.8 313.6l1.5 -0.7M154.1 313.1l1.4 -0.3M164.1 313.2l0.5 -1.1M166.3 312.7l1.0 -1.2M182.8 313.7l0.4 -0.5M185.3 312.6l0.8 -0.1M195.8 314.1l1.1 -1.1M201.3 313.3l0.6 -1.8M205.7 312.6l0.4 -1.0M209.3 312.6l0.3 -0.7M210.9 313.3l1.9 -0.4M220.4 312.3l0.7 -0.1M223.5 313.1l1.1 -0.4M45.3 316.1l1.8 0.1M66.0 315.0l0.6 -0.4M69.3 316.2l0.9 0.4M93.6 314.9l1.6 -0.4M101.3 316.3l0.5 -0.8M116.5 316.3l1.5 0.4M119.4 316.1l1.8 0.6M130.0 315.8l0.3 -0.5M132.8 315.6l1.2 -1.2M155.2 315.6l1.3 -1.4M180.5 315.3l0.9 -0.3M184.2 315.3l1.0 -0.1M196.3 314.9l0.7 0.2M206.3 315.0l0.6 -0.3M209.4 315.8l2.0 -0.4M218.5 316.4l1.2 -0.7M225.8 316.4l1.2 -1.1M229.6 315.3l1.2 -0.8M231.8 317.1l0.5 -0.9M40.6 318.3l1.0 -0.0M57.9 319.2l0.9 -0.7M71.0 318.9l1.7 -1.0M73.8 318.3l1.4 -0.6M86.8 318.7l0.5 -1.0M88.7 319.8l1.4 -1.2M96.1 318.3l1.2 -0.2M99.1 318.0l0.7 0.2M112.2 317.5l1.7 -0.1M115.8 317.9l0.4 -0.6M137.3 318.0l2.0 0.0M139.6 318.3l1.5 0.4M155.7 317.7l1.6 -0.2M182.1 319.1l1.5 -0.6M186.5 318.4l1.0 -0.8M206.7 318.5l1.6 0.6M211.3 319.5l0.8 -0.4M49.4 322.0l0.6 0.1M55.3 320.7l1.5 -0.3M59.1 320.2l1.0 0.2M65.3 321.6l1.6 -1.2M87.6 321.9l1.9 -0.3M116.1 322.1l0.3 -1.0M120.2 322.1l1.1 -0.9M127.1 321.2l1.4 0.3M128.5 321.0l1.5 0.1M133.5 321.7l0.7 -0.6M141.8 321.6l1.3 -0.5M155.4 320.9l0.7 -0.2M190.0 321.5l1.8 0.3M206.3 320.6l1.0 -0.7M47.9 325.3l0.5 -0.7M55.2 325.2l1.4 -1.3M57.8 324.1l0.7 -0.4M67.2 323.2l1.2 -0.4M80.1 325.2l0.7 -1.1M83.3 325.1l1.1 -0.9M88.8 324.0l1.0 -1.3M95.3 324.7l0.8 -0.4M111.3 324.0l0.7 -1.0M132.0 324.9l0.9 -0.7M134.2 323.8l1.2 -0.8M172.9 324.4l0.7 -1.7M179.6 325.0l0.5 -1.2M194.4 324.3l0.7 -0.9M205.8 323.0l0.8 0.2M208.5 323.9l0.7 -1.6M211.0 323.6l1.3 -0.2M230.9 323.4l0.8 -0.2M50.6 327.2l0.9 -0.5M58.7 327.8l1.5 -0.8M82.1 326.0l1.6 -0.1M90.4 326.4l1.0 -1.1M93.7 327.7l1.4 -0.7M111.5 325.8l0.8 0.3M114.4 327.3l0.8 -0.6M132.0 326.1l0.9 -0.5M135.8 326.6l1.1 -0.1M148.3 327.9l0.8 -0.7M159.1 327.9l0.7 -1.2M160.8 327.0l1.5 -1.1M165.1 328.4l1.1 -1.4M172.2 326.1l0.7 -0.2M174.7 327.1l0.2 -0.7M180.6 326.5l0.6 -0.0M191.0 326.4l0.5 -0.6M197.8 327.0l0.3 -0.8M213.8 328.2l0.7 -1.1M221.5 326.4l1.0 -0.7M41.9 329.6l1.1 0.3M51.2 330.6l0.5 -1.4M57.3 328.4l1.7 0.8M61.0 329.2l1.6 0.6M74.3 330.1l1.0 -0.5M105.8 329.2l0.3 -0.5M111.2 330.0l1.6 -0.5M115.8 330.8l1.0 -1.6M132.2 329.5l0.8 -0.2M145.0 329.3l0.5 -0.9M151.3 330.2l0.3 -0.7M156.1 331.1l1.1 -1.3M167.2 330.3l0.9 -1.4M170.5 330.8l1.1 -1.3M173.1 330.0l1.3 0.1M174.8 329.9l1.7 -0.2M179.0 331.0l1.0 -1.4M230.1 329.1l0.6 -1.0M42.7 333.0l0.3 -0.6M46.9 332.2l0.4 -0.7M62.3 331.6l1.2 0.6M68.3 332.3l1.1 -0.5M77.7 332.5l0.7 -0.4M101.4 331.2l1.7 0.7M107.1 332.6l0.8 -1.1M135.6 332.5l0.6 -1.4M138.4 333.1l1.9 0.4M142.9 332.7l0.9 0.3M161.4 332.5l0.8 -0.5M169.0 331.5l0.6 -0.3M177.4 332.5l1.0 -0.1M184.5 331.8l1.0 -0.3M190.0 332.6l0.8 0.2M193.7 332.3l0.8 -0.1M214.6 331.5l2.0 0.2M222.7 331.8l0.9 0.2M227.9 332.5l1.6 0.2M45.8 334.7l0.7 -0.8M48.1 334.4l0.6 -0.5M60.6 335.7l1.4 0.3M86.4 334.7l1.1 -1.1M91.5 335.8l1.6 -0.9M106.3 334.9l0.9 -0.1M141.0 334.6l1.6 -0.7M151.0 334.2l1.7 0.1M161.2 335.5l0.5 -1.9M170.1 335.1l1.3 -0.0M176.2 335.1l1.1 -1.3M178.4 334.6l1.1 -0.1M186.4 335.1l0.7 -1.5M191.1 336.2l0.9 -0.8M198.7 336.1l0.7 -0.6M204.8 335.7l0.8 -1.6M208.6 335.4l0.7 -0.2M211.7 335.1l1.3 -0.6M42.2 339.0l1.2 -0.5M46.3 338.5l1.4 -1.0M56.0 339.0l1.2 -1.3M58.6 338.1l0.7 -0.1M65.5 339.0l1.8 -0.2M75.5 338.6l1.2 -1.1M94.3 338.0l0.7 -0.2M101.6 338.8l0.7 -0.6M103.1 338.1l1.5 -0.1M109.6 339.2l0.6 -1.0M120.0 339.1l1.8 -0.6M126.5 337.8l1.1 -0.4M136.1 339.3l1.0 -1.2M138.4 338.3l0.8 -0.1M142.7 337.9l0.5 -1.6M144.9 337.7l1.6 -0.8M159.3 337.5l1.1 -0.3M165.1 337.9l0.2 -0.8M171.7 337.6l1.6 0.3M181.2 338.2l0.3 -0.7M184.8 338.2l0.6 -1.8M187.3 338.0l1.4 0.5M193.5 338.5l1.3 0.0M196.3 337.4l1.0 -0.3M199.3 338.7l1.1 -0.0M209.2 337.5l0.7 0.1M219.2 337.4l0.5 -0.8M225.2 338.8l0.5 -0.6M40.7 341.3l1.6 -0.8M44.6 340.2l0.7 -0.1M70.0 341.9l1.3 -1.2M86.7 341.2l1.4 -0.8M106.9 341.3l0.3 -0.6M109.1 342.0l0.4 -1.1M111.9 341.2l0.3 -0.8M115.0 341.0l1.3 -1.3M124.3 341.5l1.6 -0.4M137.0 339.8l1.5 0.3M154.3 341.3l1.3 -0.5M160.4 340.1l1.1 0.5M166.9 339.8l0.7 -0.2M173.0 340.0l1.9 -0.3M188.3 341.1l1.7 0.8M210.1 341.1l1.4 0.5M46.2 343.2l1.2 -0.9M60.1 342.4l0.9 0.2M92.4 344.3l0.5 -0.9M104.6 343.1l1.6 -0.5M108.1 343.9l0.8 0.1M110.9 343.1l0.4 -0.8M125.6 344.5l1.0 -0.9M129.4 343.1l1.9 -0.4M132.2 345.0l0.8 -1.6M142.9 344.1l0.4 -1.5M151.8 343.7l1.0 -1.5M155.8 343.6l0.9 -1.2M165.7 343.1l0.6 -0.7M174.1 343.3l1.3 -0.6M181.4 343.1l1.0 -0.1M196.2 343.1l1.6 -0.6M208.6 343.2l1.9 -0.0M228.4 344.5l1.0 -0.7M232.5 343.9l1.4 -0.9M57.6 347.1l0.5 -0.8M63.4 347.5l0.4 -1.5M67.2 347.5l0.6 -1.4M74.6 346.1l0.3 -1.0M80.0 347.5l0.8 -1.7M82.5 347.3l1.8 -0.2M89.2 346.7l1.8 0.4M118.4 345.4l1.0 0.0M125.2 345.9l1.9 0.4M127.2 346.5l1.7 -0.5M147.8 345.9l0.4 -0.6M154.6 347.5l0.4 -0.9M163.8 347.5l0.5 -1.3M165.5 347.2l1.4 -0.1M182.6 346.1l1.5 0.5M188.6 346.9l0.9 -1.2M196.3 346.0l0.6 -0.6M204.7 345.7l1.2 0.3M43.3 348.8l1.1 -1.0M45.9 349.2l1.1 -1.4M61.6 349.6l0.7 0.1M75.0 349.4l1.3 -1.0M78.9 349.0l1.0 -1.7M91.1 348.9l1.1 -1.5M95.0 349.1l1.0 -0.7M110.7 350.2l0.5 -0.5M114.5 348.8l0.8 -1.5M120.1 349.1l0.9 -0.6M123.4 348.8l0.5 -0.7M139.9 348.4l1.0 -0.7M145.3 349.4l0.3 -1.0M148.7 350.0l1.0 -0.8M158.8 350.4l1.6 -0.9M173.7 350.2l1.3 -0.5M209.3 349.0l0.6 -0.1M212.3 348.9l1.7 0.5M223.5 350.1l0.5 -1.7M231.2 350.3l1.1 -1.6M45.6 351.8l0.5 -0.9M50.7 351.8l0.5 -0.4M57.6 351.4l1.2 0.1M67.2 351.5l0.9 -1.0M84.3 352.7l0.6 -0.1M95.9 353.0l0.8 -1.2M100.1 351.2l0.6 -0.7M106.0 351.3l1.0 -0.3M108.1 353.2l0.5 -1.1M111.3 351.8l0.9 -0.1M138.1 351.6l1.2 -0.5M147.4 352.2l1.0 0.0M152.5 351.3l1.6 -0.2M179.6 352.2l0.6 -0.3M191.8 352.3l1.7 0.3M218.3 350.8l0.7 0.2M49.3 354.5l1.1 -0.1M58.6 353.7l0.7 0.2M66.2 355.7l0.4 -0.7M82.5 354.4l1.1 -0.6M90.6 355.2l1.1 -1.5M93.7 354.7l0.7 -1.2M103.7 355.2l0.7 -1.1M111.4 353.9l0.5 -0.4M120.3 354.3l1.4 -0.4M123.8 353.8l1.0 0.1M148.4 354.3l0.3 -0.6M152.5 355.2l1.1 -1.3M154.9 354.8l1.5 0.3M168.6 354.3l1.1 -0.0M173.9 355.8l0.7 -1.8M187.3 355.0l0.5 -0.6M190.3 355.6l1.4 -0.5M197.7 354.6l0.7 0.3M214.9 354.1l1.8 -0.4M218.6 353.8l1.8 0.1M229.1 354.2l1.5 -0.4M45.2 358.9l1.3 -1.4M48.5 358.3l0.8 -1.6M56.8 357.8l1.1 -0.1M73.9 357.2l0.6 -0.2M87.1 356.8l0.6 -0.6M135.0 357.8l0.5 -1.2M150.8 358.4l1.4 -0.5M154.0 356.6l0.9 0.2M156.4 357.0l1.7 -0.9M162.9 356.2l1.4 0.4M169.6 357.0l1.2 -0.9M178.6 357.9l1.3 -0.0M204.2 357.6l0.6 -0.5M221.7 356.4l0.9 0.3M226.3 356.8l1.4 -0.7M230.5 357.3l1.3 0.3M47.2 360.0l1.1 0.0M52.9 360.4l0.6 0.3M59.7 359.2l0.9 0.1M62.8 361.0l1.1 -0.1M65.7 361.0l1.3 -0.4M77.2 359.9l1.6 -1.1M83.7 359.0l1.2 0.5M93.9 359.4l0.7 0.3M101.8 359.9l0.3 -1.2M109.9 361.2l1.4 -0.7M113.4 360.6l1.2 -1.1M116.1 360.7l0.6 -0.3M123.5 361.3l1.2 -1.3M126.2 359.7l1.6 -0.3M133.0 359.8l0.6 -0.5M138.5 360.0l1.1 -0.0M142.8 360.2l1.1 0.4M151.8 360.4l1.2 -0.9M173.8 360.0l1.3 -0.7M196.5 359.2l1.7 0.5M200.1 361.3l0.9 -0.8M203.0 360.2l1.3 0.1M205.6 360.9l0.9 -0.5M216.2 360.5l0.9 0.3M226.1 360.1l0.5 -0.9M228.7 361.1l1.7 0.0M41.3 364.1l1.3 -0.7M45.0 363.1l1.0 -0.7M47.7 364.3l0.5 -1.5M50.8 362.3l0.8 -0.6M64.2 362.3l1.6 0.6M98.4 363.3l0.9 -1.0M105.0 363.9l0.2 -0.7M112.8 363.0l1.1 -0.5M131.0 362.6l1.1 -1.2M135.3 362.1l0.9 -0.1M191.4 364.2l0.8 -1.2M198.5 362.7l0.2 -0.6M203.8 362.3l1.5 0.3M207.6 363.6l1.1 -1.6M217.9 362.6l0.4 -0.9M230.0 363.1l1.1 0.1M78.7 366.7l1.4 -0.4M85.3 365.7l1.2 0.2M98.7 367.1l0.7 -1.3M103.6 366.2l1.8 0.1M107.3 365.3l1.4 -0.2M117.8 366.4l0.6 0.2M129.5 365.3l1.2 0.2M138.9 365.6l1.5 -0.0M142.8 366.5l0.6 -0.2M148.4 367.1l0.5 -1.5M157.6 366.9l0.6 -0.8M167.9 366.3l1.0 0.4M170.9 365.6l0.6 -0.6M174.1 365.1l1.3 -0.0M190.6 366.3l0.7 -0.3M197.1 366.1l1.2 -0.7M210.4 365.2l1.3 0.1M212.6 366.0l0.6 -0.8M216.3 366.9l0.3 -0.9M219.4 366.4l1.7 0.4M222.6 365.5l0.7 -1.5M229.5 366.6l0.7 0.0M44.7 369.0l0.9 0.1M50.7 368.5l1.9 0.5M53.7 368.9l0.8 -1.5M58.6 368.8l0.9 -0.5M80.8 368.4l0.9 -0.9M85.7 367.8l1.8 -0.4M92.7 368.0l0.8 -0.1M111.2 368.4l1.0 -1.4M115.5 370.3l0.5 -1.6M118.6 369.0l1.0 -0.7M121.6 369.2l0.5 -1.4M127.2 370.2l0.8 -1.6M137.0 368.9l0.8 -1.2M143.1 370.0l1.2 -1.1M153.1 367.7l1.3 0.1M160.5 369.0l0.8 -0.3M182.8 369.2l1.2 -0.1M211.6 368.9l1.1 0.3M214.7 367.9l0.4 -0.7M217.5 368.1l1.5 -0.3M223.3 368.9l0.8 -0.1M47.2 372.3l1.2 -0.4M52.9 371.6l0.6 -0.6M56.3 371.2l1.3 -0.2M61.3 371.8l1.6 -0.6M65.1 371.9l1.1 -0.0M83.9 372.1l1.8 -0.1M93.6 371.7l1.5 0.6M101.0 371.1l0.6 -0.5M107.4 371.0l0.5 -0.4M116.4 371.8l1.0 0.2M125.7 371.5l1.3 0.5M129.5 372.9l0.8 -1.3M132.6 371.4l0.7 0.3M138.9 370.3l0.9 0.1M145.0 371.2l0.9 -0.6M151.4 370.6l1.2 -0.2M165.4 371.5l1.8 0.1M168.3 371.8l1.5 0.3M174.8 371.9l0.2 -0.7M180.2 371.3l1.0 -1.1M220.0 371.1l1.1 -0.4M40.6 375.0l1.2 -0.6M51.4 374.2l1.1 -1.0M64.2 374.7l1.3 -0.3M68.5 374.7l0.3 -0.6M80.0 374.8l0.9 -0.8M91.6 374.9l1.7 0.1M96.6 374.8l0.7 0.2M98.9 375.8l0.6 -1.7M108.8 374.0l0.4 -0.5M120.8 375.4l1.2 -0.9M134.4 374.2l0.9 0.3M139.9 373.4l0.9 -0.3M143.9 373.1l1.1 0.5M146.5 373.7l0.8 -0.3M162.4 374.2l0.8 -0.1M166.8 374.6l0.7 -1.5M176.1 374.5l1.1 -0.6M185.6 373.9l1.5 0.1M208.5 373.7l1.4 -0.6M62.5 376.8l0.6 -1.0M69.3 377.9l1.0 -0.2M71.5 377.9l0.8 -1.4M81.1 378.1l1.4 -1.4M84.3 377.3l1.1 -0.2M88.8 378.1l1.0 -0.5M92.2 377.9l0.6 -0.4M116.9 378.0l1.2 -1.2M123.6 377.8l0.2 -0.8M130.4 377.6l0.8 -1.6M132.2 376.6l0.6 0.1M143.3 377.9l0.4 -0.7M145.6 377.6l1.4 -0.1M152.0 377.6l1.2 -0.1M186.4 377.2l0.7 -1.4M189.8 378.0l0.4 -0.8M193.8 376.8l0.3 -0.5M197.3 377.1l0.9 -0.4M202.3 376.0l1.3 0.3M213.3 376.4l0.7 0.1M221.8 378.0l1.1 -0.5M232.3 377.5l1.6 0.2M49.1 379.0l0.7 0.0M58.2 378.9l0.8 -0.4M61.7 380.3l0.8 0.1M86.6 380.1l1.6 -0.8M88.5 379.6l1.4 0.1M114.7 380.0l0.6 -1.8M119.3 379.2l0.9 0.2M138.0 379.6l0.6 -0.1M143.1 379.5l1.0 -0.7M150.1 380.2l1.6 -0.9M163.1 380.8l1.1 -0.9M177.2 379.5l0.4 -0.5M179.4 380.0l0.5 -0.9M189.8 380.7l0.7 -0.3M207.4 379.6l1.1 -1.5M215.0 380.6l1.2 -0.2M224.0 378.5l1.2 0.4M43.4 383.0l1.5 0.3M45.8 382.5l1.2 -1.3M50.0 382.1l1.5 -0.5M72.2 382.3l0.8 -0.5M90.8 381.9l1.0 -0.5M121.0 383.5l0.5 -0.4M123.5 383.0l1.2 0.5M129.4 382.1l0.6 -0.6M133.5 381.7l0.7 -0.2M140.1 381.5l0.6 -0.1M156.1 382.9l0.9 0.0M158.5 382.5l1.2 0.4M161.9 382.0l1.0 0.5M181.2 382.7l1.0 -1.6M184.0 383.2l0.7 -1.1M194.2 382.9l1.8 -0.8M199.1 382.1l1.6 -1.0M209.3 382.9l0.9 -0.6M219.2 382.9l0.8 -1.5M225.6 383.6l0.4 -0.5M45.4 384.6l0.7 0.2M74.2 385.7l0.8 -0.2M86.3 386.3l0.9 -1.7M90.0 385.0l1.1 -0.0M128.4 385.0l0.7 -0.1M131.6 385.0l0.6 -0.4M158.7 386.1l1.9 -0.6M166.0 386.0l0.4 -0.8M168.7 385.0l0.9 -0.4M196.1 385.0l0.9 -0.3M208.5 385.4l0.9 -1.3M214.0 386.1l0.9 0.3M217.7 384.7l1.2 -1.0M221.2 385.5l0.8 -1.1M59.7 388.7l1.9 -0.2M61.2 387.9l1.5 -0.4M68.8 387.5l1.5 -0.3M87.3 388.6l0.6 -1.0M122.7 388.9l1.0 -0.4M129.0 387.5l0.9 -0.3M141.4 388.7l1.8 0.5M145.8 388.2l1.9 0.5M148.8 387.5l0.5 -0.9M167.8 389.1l0.6 -1.7M174.6 387.4l1.1 0.0M202.0 387.9l1.7 0.0M210.3 387.7l1.3 -0.5M225.6 387.3l1.3 -0.5M66.7 391.3l1.9 -0.5M84.0 392.1l0.5 -1.0M93.2 391.4l0.7 -0.8M99.8 390.2l1.2 0.2M111.2 392.0l0.6 -1.9M116.2 391.9l0.7 -0.8M130.9 390.5l0.4 -0.7M144.8 391.3l1.0 -1.6M153.1 391.1l0.9 -0.1M166.5 390.6l0.4 -0.9M172.9 392.1l1.0 -1.1M178.5 391.8l0.4 -1.3M185.5 391.3l1.9 -0.5M192.6 390.8l0.8 -0.0M194.9 390.6l0.4 -0.7M201.0 390.9l0.7 -1.7M211.8 390.9l0.6 -0.1M213.5 390.8l1.6 0.1M230.9 391.9l0.5 -1.1M43.4 394.0l0.8 -0.2M46.3 393.4l0.3 -0.7M65.3 393.0l0.7 0.1M68.0 394.3l0.8 -0.7M103.4 393.2l1.3 -0.3M116.2 394.9l1.7 -0.7M125.7 393.0l0.8 -0.6M129.2 393.2l1.6 -0.7M151.5 393.4l1.3 0.1M158.9 393.3l1.5 -0.6M161.8 394.4l0.9 0.0M164.9 393.3l0.2 -0.6M167.7 394.4l0.8 0.2M170.4 394.5l0.7 -0.1M180.4 392.8l0.6 0.2M193.4 393.3l0.9 -0.1M212.8 394.7l0.6 -0.6M225.9 393.0l0.2 -0.6M228.2 394.3l0.7 -0.7M42.0 395.9l1.0 0.0M67.3 395.7l0.5 -0.5M77.3 397.8l1.0 -1.5M80.0 397.4l0.5 -0.3M86.7 395.8l1.5 0.7M92.9 397.2l1.6 0.0M95.3 396.7l1.8 -0.2M99.5 395.7l1.7 0.5M101.9 396.5l0.9 -1.8M112.4 395.7l0.7 0.0M115.0 397.8l0.6 -1.8M125.3 396.0l0.8 -0.4M127.9 396.6l1.2 -0.6M131.2 397.1l1.4 0.5M133.8 396.5l0.7 -1.9M140.1 397.0l0.4 -0.6M145.1 396.6l0.8 -0.5M150.4 395.7l1.8 0.7M160.0 395.2l1.2 0.5M175.6 396.2l1.1 -0.5M202.7 396.7l0.4 -1.0M204.1 397.8l1.0 -1.6M218.3 396.9l1.0 -0.9M230.3 396.7l0.4 -1.1M42.4 400.2l1.9 -0.1M64.7 399.7l1.0 -0.9M98.1 399.7l1.5 -1.1M100.0 399.2l1.7 0.2M117.8 399.9l0.4 -0.6M145.9 399.5l1.5 -0.9M165.7 398.3l1.0 0.3M177.8 400.0l0.9 -1.4M200.0 399.8l0.6 -0.1M218.1 398.4l1.2 0.3M229.3 398.9l1.0 0.2M41.9 403.0l0.5 -1.2M55.2 402.7l1.1 -0.3M105.1 401.5l1.0 -0.3M121.6 402.7l1.2 -1.4M127.4 403.1l0.5 -1.1M153.3 402.8l1.8 -0.6M174.7 401.9l1.7 0.6M181.8 402.5l1.1 -1.1M186.4 401.6l0.2 -0.6M192.5 402.8l1.0 -1.1M217.9 402.8l1.0 -1.7M220.2 402.1l1.4 -0.5M227.1 403.2l1.0 -1.2M49.5 405.3l0.5 -0.9M111.1 405.8l1.3 -1.4M123.9 405.2l0.6 -0.1M138.8 405.0l1.2 -0.9M148.5 405.1l0.7 0.1M157.3 406.0l1.6 -1.1M167.5 404.9l1.3 -0.4M171.1 404.1l1.3 0.3M205.3 404.5l1.3 -1.2M210.1 404.5l0.6 -1.3M215.3 405.4l1.8 -0.8M228.2 404.8l1.2 -1.5M231.5 405.6l0.6 -1.2M48.5 408.9l0.8 -1.2M66.1 408.4l1.5 -0.4M83.4 407.1l1.6 0.0M88.9 407.3l1.1 0.4M106.4 407.0l0.9 -0.9M108.4 407.6l0.8 -0.9M133.3 407.8l1.6 -0.0M138.7 407.0l0.5 -0.3M145.0 407.2l0.5 -1.2M156.7 408.1l1.1 0.1M168.8 408.8l0.9 -0.7M171.5 407.5l1.7 -0.5M175.4 406.5l1.3 0.1M186.6 406.6l0.6 0.1M192.1 408.7l0.8 -0.5M199.5 408.6l0.6 -0.6M214.5 407.5l1.5 -1.3M216.7 407.7l1.4 -1.4M223.9 406.7l1.8 0.1M48.9 410.5l0.6 -1.2M52.4 410.7l1.3 -0.4M55.8 409.8l0.5 -0.9M59.1 411.2l0.5 -1.3M62.5 410.9l0.5 -0.8M67.7 410.5l1.4 -0.3M77.9 409.4l1.1 0.1M83.8 411.0l1.3 -0.1M94.5 410.5l0.5 -1.8M101.3 409.6l1.8 0.3M107.9 410.5l1.1 -0.3M120.4 411.3l0.8 -0.4M146.1 410.9l1.7 0.5M167.3 411.0l1.0 0.1M174.9 409.8l1.1 0.2M187.0 411.4l1.1 -1.4M200.2 411.3l1.5 -0.6M208.7 411.3l1.7 -0.3M229.4 409.7l1.0 0.2M232.2 410.4l1.4 0.1M40.6 413.1l1.0 -1.7M49.0 414.1l0.4 -0.5M77.1 413.4l1.2 -0.9M82.3 412.8l1.6 0.3M85.8 413.5l1.0 0.4M88.6 412.6l1.1 -0.1M92.3 412.2l0.6 -0.3M99.7 412.9l1.6 0.2M102.0 413.3l1.0 0.2M109.4 412.8l1.7 -0.5M118.5 413.7l1.7 -0.2M121.1 413.4l0.5 -0.4M131.5 412.8l0.7 -0.8M134.8 412.9l1.3 -1.2M152.9 414.2l1.0 -1.5M159.7 412.6l1.5 -0.3M162.3 414.3l1.8 -0.7M175.5 413.4l1.4 -0.0M179.6 412.5l0.6 0.0M204.1 414.5l0.6 -1.2M217.6 413.8l0.7 -1.5" stroke="#cf8840" stroke-width="2.7" stroke-linecap="round" stroke-opacity="0.62" fill="none" filter="url(#bs)"/>
<rect x="42.1" y="300.1" width="187.8" height="110.8" filter="url(#tIH2)" opacity="0.6"/>
<path d="M43.7 301.2h0M59.4 301.7h0M62.8 302.4h0M65.5 301.5h0M77.0 301.9h0M87.3 301.0h0M92.0 302.9h0M103.3 302.2h0M121.3 302.8h0M128.9 301.3h0M133.0 301.1h0M137.1 301.9h0M152.2 303.0h0M157.9 302.1h0M170.6 301.9h0M198.5 302.4h0M64.8 305.1h0M67.4 304.6h0M74.9 305.9h0M89.8 304.6h0M94.6 304.9h0M97.8 305.3h0M100.9 304.4h0M105.3 304.4h0M120.3 304.7h0M124.4 304.2h0M127.9 306.3h0M133.8 305.6h0M140.9 305.6h0M150.3 305.7h0M159.8 305.8h0M179.0 304.2h0M200.2 305.9h0M204.4 304.4h0M211.6 304.4h0M223.1 306.2h0M226.4 305.9h0M55.8 307.7h0M68.8 308.9h0M81.1 308.4h0M89.4 308.0h0M96.1 307.8h0M103.5 309.0h0M120.6 307.9h0M124.7 308.6h0M133.6 308.4h0M143.8 308.6h0M147.3 309.0h0M155.0 309.4h0M165.9 308.4h0M169.0 309.4h0M181.5 308.6h0M184.4 309.1h0M189.0 309.2h0M192.8 307.9h0M199.9 309.1h0M203.5 309.4h0M206.5 308.9h0M209.9 309.5h0M217.6 308.5h0M224.3 308.1h0M45.3 311.8h0M49.0 310.9h0M52.4 312.5h0M78.4 311.2h0M81.7 311.4h0M98.5 311.0h0M102.0 310.9h0M113.3 312.5h0M115.9 312.1h0M124.0 311.5h0M130.8 311.0h0M149.7 312.3h0M164.7 311.5h0M171.0 310.7h0M174.4 311.6h0M178.2 310.9h0M186.1 312.6h0M204.4 311.4h0M215.0 312.2h0M56.1 314.4h0M59.4 315.6h0M62.0 315.6h0M66.5 313.7h0M69.9 313.8h0M85.1 313.9h0M92.5 313.8h0M102.5 314.9h0M105.8 313.8h0M110.0 315.4h0M117.2 315.2h0M125.4 315.8h0M141.2 314.5h0M146.8 315.3h0M168.8 315.3h0M189.1 315.3h0M202.2 314.5h0M211.5 315.7h0M218.7 314.6h0M59.6 318.2h0M93.8 317.0h0M101.9 318.1h0M105.2 317.6h0M116.7 317.7h0M118.8 317.5h0M137.9 318.4h0M149.6 317.0h0M153.9 318.9h0M164.7 317.2h0M172.4 317.5h0M175.5 317.0h0M178.5 318.1h0M204.2 317.8h0M213.2 317.5h0M216.8 317.3h0M54.5 320.4h0M59.8 321.9h0M78.0 321.2h0M85.2 321.9h0M87.3 322.1h0M91.8 321.2h0M110.8 320.8h0M122.1 322.2h0M125.4 322.3h0M129.7 320.9h0M136.7 320.2h0M154.0 320.7h0M166.6 322.1h0M177.7 320.8h0M206.8 321.3h0M213.5 320.5h0M45.3 324.1h0M54.0 324.9h0M68.5 324.9h0M72.1 325.3h0M75.0 323.8h0M86.5 324.9h0M90.4 324.4h0M98.1 324.8h0M101.3 324.3h0M123.3 324.0h0M130.3 324.4h0M135.1 325.0h0M137.7 325.4h0M145.1 324.9h0M153.4 323.6h0M168.9 323.7h0M182.6 324.1h0M185.4 324.8h0M192.8 324.3h0M212.6 324.5h0M215.0 325.4h0M219.1 324.0h0M44.1 327.4h0M76.7 327.4h0M89.2 327.0h0M110.1 327.3h0M113.7 327.0h0M144.9 328.5h0M163.4 328.0h0M165.7 327.4h0M170.8 327.5h0M176.7 326.9h0M214.7 328.5h0M221.6 327.7h0M224.5 327.7h0M48.4 331.5h0M56.2 331.6h0M60.8 331.2h0M72.1 331.1h0M82.2 331.2h0M100.4 331.4h0M105.7 330.3h0M119.4 331.0h0M149.5 330.2h0M152.4 331.5h0M164.0 330.7h0M171.0 330.8h0M174.7 330.2h0M181.8 331.8h0M187.1 330.4h0M212.1 331.5h0M216.0 330.0h0M43.2 333.7h0M47.5 335.2h0M55.0 334.2h0M66.7 333.1h0M80.1 334.2h0M92.0 333.8h0M114.7 334.8h0M118.0 334.1h0M135.7 334.3h0M166.6 334.3h0M169.2 333.1h0M177.5 334.3h0M181.4 335.1h0M184.5 333.7h0M195.6 334.3h0M206.9 333.3h0M214.8 334.3h0M225.9 334.6h0M48.7 336.9h0M60.2 337.0h0M63.5 338.2h0M67.3 338.2h0M81.7 336.9h0M89.9 337.2h0M98.5 336.8h0M104.4 336.9h0M111.4 336.6h0M120.7 337.4h0M127.0 337.9h0M160.6 336.6h0M171.8 337.0h0M175.1 336.4h0M179.7 336.3h0M182.6 338.2h0M212.0 338.3h0M226.6 337.8h0M47.2 340.3h0M65.2 341.0h0M83.8 341.4h0M89.2 339.7h0M91.4 341.1h0M94.7 340.6h0M99.3 340.9h0M103.2 341.7h0M107.3 339.9h0M146.5 340.9h0M178.1 339.5h0M179.9 341.0h0M188.0 340.1h0M191.9 339.5h0M195.5 341.3h0M199.1 339.9h0M210.6 341.1h0M48.9 344.5h0M52.4 343.7h0M60.4 343.4h0M86.9 344.2h0M105.5 343.2h0M130.7 343.9h0M141.5 344.4h0M156.4 344.0h0M174.8 343.3h0M185.5 344.7h0M189.1 344.2h0M202.1 343.4h0M204.5 343.2h0M208.0 344.5h0M215.1 343.3h0M222.6 342.8h0M226.2 343.1h0M43.3 348.1h0M47.0 346.1h0M51.5 347.8h0M54.3 347.3h0M65.1 347.0h0M88.9 347.5h0M91.5 347.8h0M111.3 347.7h0M117.0 347.0h0M129.1 348.1h0M180.5 345.9h0M184.1 346.5h0M196.6 346.4h0M200.1 347.1h0M206.2 346.9h0M210.0 346.8h0M216.8 346.2h0M221.6 347.3h0M46.7 349.7h0M53.1 350.4h0M56.3 349.7h0M64.2 350.0h0M75.5 349.2h0M82.8 350.0h0M94.3 350.4h0M107.8 350.4h0M131.7 350.4h0M139.0 349.7h0M157.8 351.1h0M159.5 349.2h0M170.8 350.1h0M174.3 350.1h0M219.1 349.9h0M43.5 353.1h0M52.0 353.4h0M54.1 354.5h0M66.9 353.3h0M73.6 353.5h0M78.3 353.3h0M81.7 352.7h0M106.6 354.3h0M124.4 352.5h0M128.4 353.4h0M132.0 353.7h0M136.8 353.5h0M139.6 353.3h0M143.6 353.7h0M147.7 353.6h0M150.6 353.1h0M154.4 353.6h0M158.8 354.5h0M169.6 353.3h0M174.3 353.3h0M176.6 352.4h0M181.1 353.6h0M184.6 352.8h0M194.8 352.7h0M226.2 353.9h0M57.2 356.6h0M60.6 355.9h0M63.6 356.9h0M67.8 356.6h0M80.1 355.9h0M97.1 356.7h0M101.8 355.9h0M104.1 357.5h0M138.2 357.1h0M171.4 357.4h0M175.5 357.5h0M179.9 357.4h0M208.6 355.6h0M212.4 356.1h0M219.1 355.6h0M224.2 356.3h0M44.1 359.2h0M46.9 360.9h0M50.6 358.8h0M54.7 358.8h0M65.7 359.4h0M70.8 361.0h0M84.6 359.1h0M106.0 360.6h0M111.4 360.3h0M133.8 360.4h0M150.7 359.0h0M177.7 359.5h0M180.4 359.7h0M184.8 359.3h0M199.8 360.0h0M202.4 360.3h0M206.5 360.1h0M215.2 358.8h0M224.8 359.8h0M50.5 363.5h0M53.5 363.0h0M60.7 362.6h0M71.4 363.1h0M91.0 363.9h0M94.7 363.2h0M97.1 363.3h0M108.6 363.4h0M113.3 364.0h0M119.8 364.2h0M124.0 362.9h0M137.9 364.1h0M141.2 364.1h0M179.9 362.3h0M183.4 362.4h0M216.2 363.3h0M220.4 364.2h0M223.4 363.3h0M47.3 366.7h0M69.8 365.5h0M87.3 367.4h0M103.5 366.1h0M111.5 366.5h0M120.6 367.0h0M125.6 365.3h0M136.6 365.9h0M140.9 366.4h0M154.3 366.5h0M157.6 365.6h0M180.9 365.5h0M217.4 365.5h0M221.7 366.9h0M224.3 367.3h0M63.9 370.1h0M71.0 370.0h0M76.1 370.3h0M86.2 369.4h0M90.3 370.0h0M92.9 370.4h0M97.2 370.3h0M104.8 368.8h0M108.7 369.5h0M112.6 370.1h0M115.1 370.0h0M123.2 369.2h0M131.1 369.6h0M133.7 370.2h0M149.0 369.9h0M160.2 368.7h0M185.9 368.8h0M212.9 368.6h0M222.5 369.3h0M227.9 370.4h0M46.8 372.9h0M50.6 372.7h0M76.6 371.8h0M84.9 371.7h0M124.6 373.4h0M133.8 373.0h0M136.2 373.4h0M150.2 373.8h0M169.8 373.7h0M181.8 373.8h0M185.2 372.4h0M206.3 372.7h0M215.1 373.3h0M222.0 372.8h0M94.4 376.0h0M100.4 376.0h0M111.9 375.6h0M115.1 374.9h0M128.2 376.5h0M146.0 375.3h0M159.8 376.7h0M163.7 376.5h0M172.6 374.9h0M176.3 375.4h0M179.6 376.8h0M189.2 376.0h0M193.3 376.9h0M205.3 376.5h0M211.7 376.9h0M216.1 376.0h0M218.6 376.3h0M224.4 375.3h0M50.3 379.4h0M62.8 379.2h0M70.8 378.5h0M81.5 379.0h0M91.2 378.3h0M113.7 379.8h0M120.7 378.3h0M129.6 378.2h0M135.7 378.2h0M144.4 378.3h0M147.2 379.9h0M154.1 380.0h0M158.7 379.9h0M177.4 379.9h0M180.7 380.0h0M189.2 379.8h0M194.8 380.2h0M209.7 378.4h0M217.9 380.1h0M222.0 379.8h0M53.8 381.6h0M61.5 381.5h0M71.2 382.0h0M87.5 382.7h0M89.4 381.4h0M105.0 381.5h0M113.1 382.1h0M116.0 383.5h0M131.0 382.4h0M134.1 382.1h0M146.8 383.4h0M157.6 382.4h0M163.7 382.7h0M169.0 382.7h0M179.0 382.7h0M183.0 381.5h0M185.6 382.1h0M197.0 381.6h0M201.2 383.0h0M208.6 381.4h0M212.2 383.1h0M216.5 382.1h0M224.4 382.8h0M228.2 382.7h0M58.8 384.8h0M66.1 385.7h0M72.7 385.2h0M84.4 385.4h0M122.6 385.9h0M129.4 385.4h0M139.8 386.2h0M143.8 386.4h0M154.1 385.3h0M158.5 385.7h0M172.6 386.5h0M180.5 386.6h0M185.1 384.7h0M192.7 384.8h0M196.5 386.7h0M199.5 384.6h0M213.6 385.0h0M226.3 385.8h0M45.0 389.1h0M65.2 389.6h0M78.5 388.4h0M82.3 387.8h0M86.3 389.7h0M90.4 389.6h0M94.0 388.8h0M105.8 388.1h0M126.2 388.2h0M135.5 388.5h0M137.6 388.7h0M150.1 388.3h0M153.2 389.8h0M159.5 389.3h0M189.2 388.6h0M207.5 388.1h0M216.5 389.2h0M219.3 388.9h0M65.6 391.5h0M73.1 391.8h0M78.2 392.3h0M110.3 393.0h0M129.9 392.0h0M132.2 393.1h0M151.3 392.3h0M162.7 392.5h0M167.1 391.2h0M170.5 393.1h0M177.8 391.6h0M198.3 392.2h0M207.2 392.0h0M210.1 391.6h0M222.1 392.7h0M68.0 395.2h0M75.1 394.3h0M79.9 394.6h0M82.6 394.4h0M90.2 395.4h0M93.0 395.4h0M108.2 394.6h0M115.3 396.3h0M120.1 396.2h0M123.2 394.4h0M142.4 395.5h0M164.2 396.0h0M178.3 395.1h0M185.4 394.4h0M212.0 395.4h0M216.8 396.1h0M226.4 394.4h0M47.0 398.1h0M73.6 398.2h0M103.7 399.2h0M105.8 399.2h0M113.2 398.5h0M117.3 397.5h0M121.2 398.4h0M130.0 399.5h0M136.0 397.9h0M139.1 397.7h0M167.1 399.5h0M169.5 398.7h0M174.1 398.2h0M202.3 399.1h0M215.0 397.5h0M52.9 400.6h0M87.4 401.5h0M90.9 401.9h0M101.3 402.5h0M108.0 401.6h0M119.7 401.7h0M124.2 401.6h0M127.3 401.0h0M134.9 401.1h0M164.5 402.4h0M167.0 401.4h0M176.2 401.9h0M185.9 400.8h0M197.3 401.6h0M211.9 401.3h0M219.8 401.2h0M227.6 402.7h0M43.9 405.6h0M50.5 405.3h0M54.2 404.2h0M57.8 404.8h0M63.4 405.9h0M106.5 405.8h0M124.4 404.1h0M129.7 404.4h0M136.6 404.0h0M154.5 405.5h0M159.4 404.0h0M162.2 405.0h0M165.9 404.3h0M172.5 404.9h0M180.8 404.2h0M183.5 404.4h0M187.7 405.4h0M191.2 404.5h0M202.4 404.6h0M207.0 404.6h0M210.5 404.3h0M46.2 409.1h0M67.6 409.1h0M78.2 408.2h0M93.7 408.7h0M108.5 407.5h0M112.7 408.7h0M116.5 408.4h0M119.4 408.7h0M152.3 407.5h0M156.4 409.0h0M163.3 408.9h0M181.7 407.1h0M201.3 409.2h0M216.6 408.6h0M226.1 408.8h0" stroke="#5a4ea0" stroke-width="2.3" stroke-linecap="round" stroke-opacity="0.5" fill="none" filter="url(#bs)"/>
<path d="M48.5 301.0h0M51.1 302.4h0M94.9 302.1h0M114.7 302.9h0M117.7 302.3h0M126.4 302.1h0M143.6 302.7h0M162.8 301.0h0M165.8 302.8h0M172.7 302.2h0M176.1 301.2h0M196.0 302.0h0M52.3 304.8h0M72.7 304.1h0M108.9 305.7h0M112.5 304.8h0M116.9 304.8h0M153.5 304.6h0M193.9 306.1h0M216.1 305.3h0M50.3 307.7h0M58.3 307.8h0M74.3 308.8h0M137.3 307.7h0M140.7 308.7h0M151.4 308.5h0M214.4 307.6h0M57.8 310.8h0M60.6 311.4h0M68.3 311.9h0M89.2 312.1h0M105.6 311.7h0M107.7 312.0h0M119.0 312.1h0M135.1 311.2h0M139.0 310.7h0M152.2 310.6h0M160.2 312.4h0M189.8 311.3h0M212.3 311.2h0M77.3 315.0h0M80.0 314.9h0M96.3 315.2h0M98.5 314.2h0M115.1 315.4h0M122.4 313.9h0M144.0 314.7h0M155.6 315.4h0M158.0 315.7h0M177.8 314.9h0M180.8 314.2h0M183.6 315.3h0M194.9 315.5h0M224.4 315.5h0M63.8 317.1h0M68.8 317.9h0M108.1 319.0h0M123.3 319.0h0M131.9 318.5h0M157.6 318.7h0M182.5 317.4h0M197.6 317.2h0M209.5 318.4h0M43.0 322.4h0M113.7 320.6h0M133.5 321.4h0M144.6 322.0h0M162.0 321.0h0M173.9 322.1h0M181.0 322.1h0M191.9 321.0h0M210.8 320.8h0M82.4 323.5h0M126.5 324.7h0M157.2 325.4h0M163.2 323.7h0M171.6 324.6h0M175.0 325.4h0M179.4 324.4h0M190.6 324.9h0M197.5 324.9h0M200.9 323.4h0M51.2 328.7h0M91.8 328.6h0M96.2 327.1h0M103.3 327.5h0M118.5 327.1h0M125.9 327.2h0M128.3 327.4h0M132.2 327.4h0M147.6 328.0h0M181.1 328.5h0M196.2 327.9h0M200.3 327.5h0M203.3 328.1h0M206.6 327.8h0M211.5 328.1h0M217.5 328.4h0M67.3 331.4h0M74.5 330.6h0M79.4 330.9h0M111.6 330.5h0M131.9 330.4h0M138.5 331.9h0M155.8 331.3h0M159.4 330.7h0M168.8 330.0h0M198.0 331.6h0M50.9 334.8h0M70.0 334.3h0M84.3 335.0h0M88.0 335.0h0M105.8 334.3h0M156.0 334.6h0M158.9 334.9h0M172.6 333.2h0M187.4 333.4h0M217.8 334.5h0M86.8 338.0h0M94.2 337.6h0M109.5 338.0h0M123.2 337.2h0M129.9 337.5h0M185.6 338.4h0M189.6 338.0h0M207.6 336.9h0M222.4 337.4h0M70.1 340.9h0M74.4 339.8h0M80.9 341.3h0M110.3 341.1h0M121.2 339.5h0M126.0 340.7h0M129.6 340.0h0M133.0 339.9h0M136.8 340.2h0M143.1 340.2h0M150.7 341.1h0M158.7 340.1h0M161.8 339.9h0M169.8 340.1h0M202.1 340.1h0M213.2 339.9h0M221.8 341.3h0M224.4 341.5h0M64.3 343.9h0M68.4 343.1h0M72.3 343.6h0M93.9 344.4h0M97.4 342.8h0M108.3 343.1h0M122.6 342.9h0M126.4 343.7h0M137.8 343.1h0M161.1 344.8h0M180.0 344.1h0M70.9 347.0h0M73.3 347.2h0M77.5 347.5h0M95.7 347.4h0M99.9 348.0h0M103.3 346.6h0M132.5 346.4h0M136.2 347.5h0M140.0 346.0h0M161.3 346.9h0M165.2 347.0h0M176.6 346.2h0M203.7 346.4h0M225.8 346.8h0M229.1 346.3h0M48.7 351.1h0M80.0 349.8h0M98.3 350.6h0M100.9 349.7h0M116.3 351.2h0M123.0 350.0h0M126.3 349.2h0M135.2 349.7h0M149.9 350.7h0M163.1 350.9h0M205.0 349.6h0M208.3 350.8h0M216.9 349.6h0M227.2 349.2h0M48.7 353.8h0M84.7 353.3h0M95.3 354.3h0M99.0 352.5h0M188.7 353.1h0M191.2 354.5h0M199.0 353.5h0M206.4 353.3h0M217.3 352.4h0M50.0 357.4h0M72.0 355.8h0M83.6 355.6h0M85.8 357.3h0M90.2 357.5h0M94.5 355.6h0M113.3 356.9h0M130.2 356.1h0M156.9 356.4h0M160.8 355.8h0M163.9 356.4h0M168.6 355.6h0M227.2 357.7h0M73.7 359.2h0M81.1 359.7h0M99.8 359.3h0M103.2 360.9h0M115.3 359.2h0M135.4 358.8h0M142.8 359.0h0M148.0 359.4h0M161.6 359.3h0M165.1 360.1h0M173.1 360.2h0M191.8 360.6h0M217.9 360.5h0M67.3 363.3h0M86.6 362.7h0M127.1 362.9h0M129.8 362.2h0M145.1 364.1h0M148.4 362.0h0M159.7 362.9h0M167.7 363.4h0M175.0 362.5h0M187.4 363.0h0M196.7 362.1h0M201.5 363.8h0M209.2 363.7h0M227.7 362.9h0M83.8 366.7h0M99.0 365.4h0M114.6 366.2h0M128.4 366.8h0M178.0 365.3h0M184.7 367.1h0M191.2 366.7h0M46.6 369.1h0M60.9 368.6h0M83.1 369.5h0M101.9 369.9h0M138.3 368.7h0M144.7 369.6h0M152.6 370.6h0M171.4 370.1h0M44.2 373.6h0M81.3 371.9h0M92.2 372.8h0M107.0 372.0h0M110.6 373.8h0M116.9 372.3h0M122.5 373.1h0M148.4 373.3h0M155.8 373.4h0M176.8 372.1h0M217.6 373.3h0M228.0 371.7h0M49.2 375.2h0M52.9 376.4h0M65.2 375.6h0M67.8 374.9h0M74.6 375.0h0M79.4 375.1h0M90.4 375.0h0M97.9 376.6h0M130.6 376.0h0M133.6 375.5h0M149.0 376.1h0M197.8 375.5h0M201.8 375.5h0M227.0 376.4h0M54.5 380.1h0M65.6 378.7h0M87.5 379.6h0M99.3 378.8h0M109.5 378.3h0M126.0 379.6h0M133.0 379.7h0M139.3 378.8h0M161.6 378.8h0M165.0 378.2h0M183.6 379.8h0M202.9 379.6h0M207.0 378.3h0M215.2 379.0h0M78.5 381.4h0M109.0 382.6h0M119.9 382.9h0M138.0 382.1h0M141.7 382.5h0M161.0 382.7h0M190.7 381.7h0M204.7 383.5h0M69.1 386.5h0M80.9 385.9h0M109.6 384.7h0M124.3 386.5h0M150.9 384.9h0M166.4 386.0h0M170.0 384.7h0M187.2 385.7h0M221.0 386.5h0M49.2 388.4h0M67.2 388.4h0M71.0 388.9h0M97.9 387.9h0M101.4 388.9h0M113.4 388.8h0M116.1 389.7h0M120.6 388.1h0M141.7 388.6h0M145.0 389.8h0M179.1 387.9h0M194.8 388.1h0M200.5 389.4h0M205.2 388.8h0M44.6 391.9h0M92.7 391.7h0M96.2 391.9h0M102.4 391.4h0M105.8 391.7h0M125.7 392.8h0M144.5 391.3h0M180.8 392.8h0M193.0 391.7h0M214.9 392.7h0M226.0 391.7h0M46.4 396.3h0M72.5 394.6h0M86.2 396.1h0M104.3 394.5h0M128.1 396.0h0M148.5 394.5h0M156.0 396.0h0M168.0 395.6h0M172.7 395.8h0M175.6 395.3h0M181.9 394.6h0M190.2 394.4h0M196.7 394.8h0M201.9 394.7h0M204.1 396.3h0M220.2 395.8h0M80.0 399.2h0M84.1 399.4h0M96.8 397.5h0M111.3 397.5h0M132.9 398.8h0M151.0 397.8h0M159.7 398.7h0M162.2 399.1h0M176.3 399.6h0M180.3 398.2h0M229.3 398.2h0M48.5 401.5h0M56.4 402.4h0M93.8 402.4h0M113.4 402.8h0M131.9 402.3h0M148.5 401.7h0M179.6 401.7h0M201.2 400.9h0M66.6 405.9h0M73.6 405.4h0M85.5 405.7h0M99.6 405.2h0M114.5 405.9h0M117.9 405.2h0M121.7 405.7h0M132.9 405.2h0M176.4 405.2h0M221.5 404.9h0M224.3 405.4h0M228.3 405.1h0M49.1 408.7h0M72.5 407.6h0M76.0 407.5h0M83.0 407.1h0M86.9 408.5h0M91.0 408.1h0M97.6 408.4h0M127.2 408.2h0M131.8 409.1h0M168.0 407.7h0M172.6 409.1h0M174.5 408.7h0M205.7 407.3h0M208.1 407.5h0M224.2 408.6h0" stroke="#6c62aa" stroke-width="2.2" stroke-linecap="round" stroke-opacity="0.44" fill="none" filter="url(#bs)"/>
<path d="M54.5 301.1h0M84.9 301.1h0M148.3 301.4h0M154.3 301.7h0M44.7 306.2h0M56.3 304.3h0M78.6 304.7h0M83.7 306.1h0M138.0 304.5h0M167.2 305.6h0M183.0 306.2h0M189.8 306.0h0M76.3 308.8h0M85.5 308.1h0M92.1 308.9h0M162.9 307.7h0M174.3 308.0h0M196.2 307.6h0M64.2 311.1h0M182.8 312.1h0M200.9 312.7h0M218.8 311.9h0M43.1 314.0h0M73.2 315.6h0M174.4 315.2h0M198.7 313.8h0M215.0 313.7h0M49.7 318.4h0M71.6 317.5h0M80.1 318.2h0M81.9 318.8h0M86.8 318.3h0M90.6 319.0h0M145.5 317.6h0M160.7 317.8h0M202.3 317.8h0M62.4 321.0h0M118.1 322.2h0M140.2 321.9h0M195.2 322.0h0M200.0 321.2h0M203.9 321.9h0M60.7 324.0h0M64.3 325.4h0M78.4 325.0h0M93.7 325.4h0M105.1 325.5h0M113.0 325.3h0M116.9 324.1h0M142.3 325.4h0M149.5 323.9h0M80.9 326.7h0M105.9 327.4h0M139.2 328.2h0M174.1 328.6h0M228.4 328.2h0M142.8 331.7h0M146.4 330.4h0M190.0 330.7h0M59.4 335.2h0M62.0 333.1h0M103.6 334.6h0M46.2 338.4h0M53.9 336.7h0M75.6 336.3h0M133.8 337.5h0M137.5 336.8h0M200.8 337.8h0M214.9 338.2h0M220.5 336.6h0M58.4 339.5h0M113.6 340.3h0M140.6 341.2h0M154.5 341.1h0M217.0 339.6h0M228.7 341.4h0M45.8 342.8h0M56.3 344.3h0M116.3 344.5h0M145.3 344.0h0M163.2 344.5h0M170.6 344.3h0M193.2 343.7h0M57.8 347.8h0M84.9 346.7h0M106.9 347.6h0M143.1 347.5h0M151.9 348.1h0M158.7 347.6h0M170.0 346.2h0M86.9 349.5h0M90.4 350.7h0M112.3 349.6h0M142.3 351.0h0M167.6 351.3h0M178.2 350.2h0M183.0 350.2h0M224.1 350.8h0M92.4 352.5h0M162.1 353.8h0M229.3 353.3h0M45.3 357.6h0M108.1 355.7h0M134.4 356.6h0M153.7 355.6h0M189.8 357.3h0M198.5 356.4h0M59.5 359.8h0M78.1 360.3h0M121.5 358.9h0M139.3 359.1h0M155.5 360.9h0M196.1 359.3h0M56.7 363.9h0M64.0 362.9h0M105.5 362.0h0M117.2 363.7h0M43.0 366.0h0M54.7 365.3h0M59.0 366.5h0M117.3 367.1h0M132.4 365.8h0M148.2 365.6h0M166.9 365.6h0M174.1 365.4h0M187.9 365.6h0M214.6 365.2h0M67.5 370.5h0M79.2 370.4h0M119.9 370.5h0M142.5 369.0h0M165.2 369.4h0M61.5 373.3h0M66.5 373.8h0M74.5 372.0h0M88.9 371.7h0M114.9 373.8h0M130.1 371.7h0M157.9 372.4h0M166.2 373.7h0M173.1 372.9h0M195.9 373.5h0M224.7 372.0h0M45.6 376.8h0M71.9 375.2h0M104.1 375.9h0M78.0 380.3h0M84.3 379.7h0M95.4 380.1h0M117.5 378.6h0M191.3 378.9h0M199.7 379.0h0M149.5 381.8h0M43.1 384.8h0M136.1 385.6h0M162.8 384.6h0M202.1 385.7h0M130.5 388.4h0M156.7 389.4h0M174.4 389.2h0M198.0 388.4h0M87.7 391.0h0M117.2 392.5h0M173.2 391.2h0M196.6 392.0h0M217.2 392.4h0M98.4 395.8h0M144.8 394.7h0M154.1 395.7h0M124.6 398.7h0M143.1 399.0h0M148.2 398.9h0M154.5 399.0h0M191.4 398.6h0M199.7 399.0h0M220.5 398.8h0M46.0 401.3h0M67.9 402.1h0M104.8 401.1h0M172.6 401.3h0M223.9 402.1h0M148.2 405.4h0M195.1 405.4h0M218.2 404.0h0M53.1 408.0h0M64.2 407.5h0M105.4 407.5h0M134.2 407.2h0M149.2 407.9h0M193.2 407.5h0M198.1 407.3h0" stroke="#4a3e8c" stroke-width="2.3" stroke-linecap="round" stroke-opacity="0.48" fill="none" filter="url(#bs)"/>
</g></g>
<text x="270.50" y="177.70" font-size="10.4" text-anchor="start" fill="#0d0d0d">D</text>
<text x="303.80" y="178.40" font-size="6.7" text-anchor="start" fill="#0d0d0d" textLength="25.40" lengthAdjust="spacingAndGlyphs">GSK'916</text>
<text x="302.00" y="192.80" font-size="6.8" text-anchor="middle" fill="#0d0d0d" textLength="7.00" lengthAdjust="spacingAndGlyphs">#1</text>
<text x="313.60" y="192.80" font-size="6.8" text-anchor="middle" fill="#0d0d0d" textLength="7.60" lengthAdjust="spacingAndGlyphs">#2</text>
<text x="325.60" y="189.50" font-size="6.8" text-anchor="middle" fill="#0d0d0d" textLength="7.00" lengthAdjust="spacingAndGlyphs">#3</text>
<line x1="302.20" y1="195.30" x2="302.20" y2="216.90" stroke="#1a1a1a" stroke-width="0.8"/>
<path d="M299.75,216.40 L304.65,216.40 L302.20,221.60 Z" fill="#1a1a1a"/>
<line x1="313.50" y1="194.50" x2="313.50" y2="216.30" stroke="#1a1a1a" stroke-width="0.8"/>
<path d="M311.05,215.80 L315.95,215.80 L313.50,221.00 Z" fill="#1a1a1a"/>
<line x1="325.80" y1="192.20" x2="325.80" y2="213.50" stroke="#1a1a1a" stroke-width="0.8"/>
<path d="M323.35,213.00 L328.25,213.00 L325.80,218.20 Z" fill="#1a1a1a"/>
<text x="426.60" y="186.20" font-size="6.7" text-anchor="start" fill="#0d0d0d" textLength="26.00" lengthAdjust="spacingAndGlyphs">Cy/Flu +</text>
<text x="421.00" y="194.80" font-size="6.7" text-anchor="start" fill="#0d0d0d" textLength="37.00" lengthAdjust="spacingAndGlyphs">CART-BCMA</text>
<line x1="439.30" y1="197.30" x2="439.30" y2="238.60" stroke="#1a1a1a" stroke-width="0.8"/>
<path d="M436.85,238.10 L441.75,238.10 L439.30,243.30 Z" fill="#1a1a1a"/>
<line x1="346.00" y1="209.20" x2="425.50" y2="209.20" stroke="#1a1a1a" stroke-width="0.8"/>
<path d="M343.3,209.2 L348.5,206.9 L348.5,211.5 Z" fill="#1a1a1a"/>
<path d="M428.1,209.2 L422.9,206.9 L422.9,211.5 Z" fill="#1a1a1a"/>
<text x="359.60" y="219.20" font-size="7.6" text-anchor="start" fill="#0d0d0d" textLength="52.30" lengthAdjust="spacingAndGlyphs">Pembro/Len/Dex</text>
<line x1="298.80" y1="211.80" x2="298.80" y2="294.20" stroke="#1a1a1a" stroke-width="0.9"/>
<line x1="296.00" y1="293.70" x2="298.80" y2="293.70" stroke="#1a1a1a" stroke-width="0.8"/>
<text x="293.40" y="296.50" font-size="8.1" text-anchor="end" fill="#0d0d0d" textLength="4.15" lengthAdjust="spacingAndGlyphs">0</text>
<line x1="296.00" y1="273.90" x2="298.80" y2="273.90" stroke="#1a1a1a" stroke-width="0.8"/>
<text x="293.40" y="276.70" font-size="8.1" text-anchor="end" fill="#0d0d0d" textLength="16.00" lengthAdjust="spacingAndGlyphs">2000</text>
<line x1="296.00" y1="254.10" x2="298.80" y2="254.10" stroke="#1a1a1a" stroke-width="0.8"/>
<text x="293.40" y="256.90" font-size="8.1" text-anchor="end" fill="#0d0d0d" textLength="16.00" lengthAdjust="spacingAndGlyphs">4000</text>
<line x1="296.00" y1="234.30" x2="298.80" y2="234.30" stroke="#1a1a1a" stroke-width="0.8"/>
<text x="293.40" y="237.10" font-size="8.1" text-anchor="end" fill="#0d0d0d" textLength="16.00" lengthAdjust="spacingAndGlyphs">6000</text>
<line x1="296.00" y1="214.50" x2="298.80" y2="214.50" stroke="#1a1a1a" stroke-width="0.8"/>
<text x="293.40" y="217.30" font-size="8.1" text-anchor="end" fill="#0d0d0d" textLength="16.00" lengthAdjust="spacingAndGlyphs">8000</text>
<line x1="484.80" y1="211.80" x2="484.80" y2="294.20" stroke="#1a1a1a" stroke-width="0.9"/>
<line x1="484.80" y1="293.70" x2="487.40" y2="293.70" stroke="#1a1a1a" stroke-width="0.8"/>
<text x="491.00" y="296.50" font-size="8.1" text-anchor="start" fill="#0d0d0d" textLength="4.20" lengthAdjust="spacingAndGlyphs">0</text>
<line x1="484.80" y1="273.90" x2="487.40" y2="273.90" stroke="#1a1a1a" stroke-width="0.8"/>
<text x="491.00" y="276.70" font-size="8.1" text-anchor="start" fill="#0d0d0d" textLength="4.20" lengthAdjust="spacingAndGlyphs">2</text>
<line x1="484.80" y1="254.10" x2="487.40" y2="254.10" stroke="#1a1a1a" stroke-width="0.8"/>
<text x="491.00" y="256.90" font-size="8.1" text-anchor="start" fill="#0d0d0d" textLength="4.20" lengthAdjust="spacingAndGlyphs">4</text>
<line x1="484.80" y1="234.30" x2="487.40" y2="234.30" stroke="#1a1a1a" stroke-width="0.8"/>
<text x="491.00" y="237.10" font-size="8.1" text-anchor="start" fill="#0d0d0d" textLength="4.20" lengthAdjust="spacingAndGlyphs">6</text>
<line x1="484.80" y1="214.50" x2="487.40" y2="214.50" stroke="#1a1a1a" stroke-width="0.8"/>
<text x="491.00" y="217.30" font-size="8.1" text-anchor="start" fill="#0d0d0d" textLength="4.20" lengthAdjust="spacingAndGlyphs">8</text>
<line x1="298.40" y1="293.70" x2="358.30" y2="293.70" stroke="#1a1a1a" stroke-width="0.9"/>
<line x1="364.40" y1="293.70" x2="485.20" y2="293.70" stroke="#1a1a1a" stroke-width="0.9"/>
<line x1="301.90" y1="293.70" x2="301.90" y2="296.30" stroke="#1a1a1a" stroke-width="0.8"/>
<line x1="314.30" y1="293.70" x2="314.30" y2="296.30" stroke="#1a1a1a" stroke-width="0.8"/>
<line x1="326.70" y1="293.70" x2="326.70" y2="296.30" stroke="#1a1a1a" stroke-width="0.8"/>
<line x1="339.10" y1="293.70" x2="339.10" y2="296.30" stroke="#1a1a1a" stroke-width="0.8"/>
<line x1="351.50" y1="293.70" x2="351.50" y2="296.30" stroke="#1a1a1a" stroke-width="0.8"/>
<line x1="358.10" y1="293.70" x2="358.10" y2="296.30" stroke="#1a1a1a" stroke-width="0.8"/>
<line x1="364.60" y1="293.70" x2="364.60" y2="296.30" stroke="#1a1a1a" stroke-width="0.8"/>
<line x1="379.63" y1="293.70" x2="379.63" y2="296.30" stroke="#1a1a1a" stroke-width="0.8"/>
<line x1="394.66" y1="293.70" x2="394.66" y2="296.30" stroke="#1a1a1a" stroke-width="0.8"/>
<line x1="409.69" y1="293.70" x2="409.69" y2="296.30" stroke="#1a1a1a" stroke-width="0.8"/>
<line x1="424.72" y1="293.70" x2="424.72" y2="296.30" stroke="#1a1a1a" stroke-width="0.8"/>
<line x1="439.75" y1="293.70" x2="439.75" y2="296.30" stroke="#1a1a1a" stroke-width="0.8"/>
<line x1="454.78" y1="293.70" x2="454.78" y2="296.30" stroke="#1a1a1a" stroke-width="0.8"/>
<line x1="469.81" y1="293.70" x2="469.81" y2="296.30" stroke="#1a1a1a" stroke-width="0.8"/>
<line x1="484.84" y1="293.70" x2="484.84" y2="296.30" stroke="#1a1a1a" stroke-width="0.8"/>
<text x="303.40" y="301.00" font-size="8.1" text-anchor="end" fill="#1a1a1a" textLength="4.15" lengthAdjust="spacingAndGlyphs" transform="rotate(-45 303.40 301.00) translate(0 2.8)">0</text>
<text x="315.80" y="301.00" font-size="8.1" text-anchor="end" fill="#1a1a1a" textLength="8.10" lengthAdjust="spacingAndGlyphs" transform="rotate(-45 315.80 301.00) translate(0 2.8)">20</text>
<text x="328.20" y="301.00" font-size="8.1" text-anchor="end" fill="#1a1a1a" textLength="8.10" lengthAdjust="spacingAndGlyphs" transform="rotate(-45 328.20 301.00) translate(0 2.8)">40</text>
<text x="340.60" y="301.00" font-size="8.1" text-anchor="end" fill="#1a1a1a" textLength="8.10" lengthAdjust="spacingAndGlyphs" transform="rotate(-45 340.60 301.00) translate(0 2.8)">60</text>
<text x="353.00" y="301.00" font-size="8.1" text-anchor="end" fill="#1a1a1a" textLength="8.10" lengthAdjust="spacingAndGlyphs" transform="rotate(-45 353.00 301.00) translate(0 2.8)">80</text>
<text x="366.10" y="301.00" font-size="8.1" text-anchor="end" fill="#1a1a1a" textLength="12.05" lengthAdjust="spacingAndGlyphs" transform="rotate(-45 366.10 301.00) translate(0 2.8)">100</text>
<text x="381.13" y="301.00" font-size="8.1" text-anchor="end" fill="#1a1a1a" textLength="12.05" lengthAdjust="spacingAndGlyphs" transform="rotate(-45 381.13 301.00) translate(0 2.8)">200</text>
<text x="396.16" y="301.00" font-size="8.1" text-anchor="end" fill="#1a1a1a" textLength="12.05" lengthAdjust="spacingAndGlyphs" transform="rotate(-45 396.16 301.00) translate(0 2.8)">300</text>
<text x="411.19" y="301.00" font-size="8.1" text-anchor="end" fill="#1a1a1a" textLength="12.05" lengthAdjust="spacingAndGlyphs" transform="rotate(-45 411.19 301.00) translate(0 2.8)">400</text>
<text x="426.22" y="301.00" font-size="8.1" text-anchor="end" fill="#1a1a1a" textLength="12.05" lengthAdjust="spacingAndGlyphs" transform="rotate(-45 426.22 301.00) translate(0 2.8)">500</text>
<text x="441.25" y="301.00" font-size="8.1" text-anchor="end" fill="#1a1a1a" textLength="12.05" lengthAdjust="spacingAndGlyphs" transform="rotate(-45 441.25 301.00) translate(0 2.8)">600</text>
<text x="456.28" y="301.00" font-size="8.1" text-anchor="end" fill="#1a1a1a" textLength="12.05" lengthAdjust="spacingAndGlyphs" transform="rotate(-45 456.28 301.00) translate(0 2.8)">700</text>
<text x="471.31" y="301.00" font-size="8.1" text-anchor="end" fill="#1a1a1a" textLength="12.05" lengthAdjust="spacingAndGlyphs" transform="rotate(-45 471.31 301.00) translate(0 2.8)">800</text>
<text x="486.34" y="301.00" font-size="8.1" text-anchor="end" fill="#1a1a1a" textLength="12.05" lengthAdjust="spacingAndGlyphs" transform="rotate(-45 486.34 301.00) translate(0 2.8)">900</text>
<text x="382.20" y="324.60" font-size="9.8" text-anchor="start" fill="#0d0d0d" textLength="19.40" lengthAdjust="spacingAndGlyphs">Days</text>
<text x="269.00" y="253.00" font-size="9.8" text-anchor="middle" fill="#0d0d0d" textLength="74.00" lengthAdjust="spacingAndGlyphs" transform="rotate(-90 269.00 253.00)">Serum IgG (mg/dL)</text>
<text x="500.50" y="252.60" font-size="9.8" text-anchor="middle" fill="#0d0d0d" textLength="83.00" lengthAdjust="spacingAndGlyphs" transform="rotate(90 500.50 252.60)">Serum M-spike (g/dL)</text>
<polyline points="301.50,236.30 314.70,231.20 327.70,222.10 341.10,217.90 357.70,226.30" fill="none" stroke="#335487" stroke-width="1.1" stroke-linejoin="round"/>
<polyline points="364.80,229.40 372.70,233.50 386.50,238.80 399.20,245.80 411.70,243.50 419.80,248.10 430.00,250.40 437.80,247.90 443.60,264.20 447.50,270.00 450.60,273.70 458.70,271.70 464.00,271.20 474.40,270.00 480.60,271.70" fill="none" stroke="#335487" stroke-width="1.1" stroke-linejoin="round"/>
<rect x="299.70" y="234.50" width="3.6" height="3.6" fill="#335487"/>
<rect x="312.90" y="229.40" width="3.6" height="3.6" fill="#335487"/>
<rect x="325.90" y="220.30" width="3.6" height="3.6" fill="#335487"/>
<rect x="339.30" y="216.10" width="3.6" height="3.6" fill="#335487"/>
<rect x="370.90" y="231.70" width="3.6" height="3.6" fill="#335487"/>
<rect x="384.70" y="237.00" width="3.6" height="3.6" fill="#335487"/>
<rect x="397.40" y="244.00" width="3.6" height="3.6" fill="#335487"/>
<rect x="409.90" y="241.70" width="3.6" height="3.6" fill="#335487"/>
<rect x="418.00" y="246.30" width="3.6" height="3.6" fill="#335487"/>
<rect x="428.20" y="248.60" width="3.6" height="3.6" fill="#335487"/>
<rect x="436.00" y="246.10" width="3.6" height="3.6" fill="#335487"/>
<rect x="441.80" y="262.40" width="3.6" height="3.6" fill="#335487"/>
<rect x="445.70" y="268.20" width="3.6" height="3.6" fill="#335487"/>
<rect x="448.80" y="271.90" width="3.6" height="3.6" fill="#335487"/>
<rect x="456.90" y="269.90" width="3.6" height="3.6" fill="#335487"/>
<rect x="462.20" y="269.40" width="3.6" height="3.6" fill="#335487"/>
<rect x="472.60" y="268.20" width="3.6" height="3.6" fill="#335487"/>
<rect x="478.80" y="269.90" width="3.6" height="3.6" fill="#335487"/>
<polyline points="301.80,250.40 314.70,238.00 327.70,235.10 341.10,233.50 357.70,240.80" fill="none" stroke="#a91f38" stroke-width="1.2" stroke-linejoin="round"/>
<polyline points="364.80,243.80 372.70,247.20 386.50,247.10 399.20,253.30 411.70,253.30 419.80,249.00 430.60,250.50 437.80,249.80 442.90,266.00 447.20,270.80 450.60,272.50 458.70,272.10 464.00,271.70 474.40,272.90 480.60,274.00" fill="none" stroke="#a91f38" stroke-width="1.2" stroke-linejoin="round"/>
<circle cx="301.80" cy="250.40" r="2.1" fill="#a91f38"/>
<circle cx="314.70" cy="238.00" r="2.1" fill="#a91f38"/>
<circle cx="327.70" cy="235.10" r="2.1" fill="#a91f38"/>
<circle cx="341.10" cy="233.50" r="2.1" fill="#a91f38"/>
<circle cx="372.70" cy="247.20" r="2.1" fill="#a91f38"/>
<circle cx="386.50" cy="247.10" r="2.1" fill="#a91f38"/>
<circle cx="399.20" cy="253.30" r="2.1" fill="#a91f38"/>
<circle cx="411.70" cy="253.30" r="2.1" fill="#a91f38"/>
<circle cx="419.80" cy="249.00" r="2.1" fill="#a91f38"/>
<circle cx="430.60" cy="250.50" r="2.1" fill="#a91f38"/>
<circle cx="437.80" cy="249.80" r="2.1" fill="#a91f38"/>
<circle cx="442.90" cy="266.00" r="2.1" fill="#a91f38"/>
<circle cx="447.20" cy="270.80" r="2.1" fill="#a91f38"/>
<circle cx="450.60" cy="272.50" r="2.1" fill="#a91f38"/>
<circle cx="458.70" cy="272.10" r="2.1" fill="#a91f38"/>
<circle cx="464.00" cy="271.70" r="2.1" fill="#a91f38"/>
<circle cx="474.40" cy="272.90" r="2.1" fill="#a91f38"/>
<circle cx="480.60" cy="274.00" r="2.1" fill="#a91f38"/>
<line x1="307.30" y1="282.30" x2="316.50" y2="282.30" stroke="#a91f38" stroke-width="1.1"/>
<circle cx="311.80" cy="282.30" r="2.1" fill="#a91f38"/>
<text x="319.60" y="284.60" font-size="7.6" text-anchor="start" fill="#0d0d0d" textLength="47.20" lengthAdjust="spacingAndGlyphs">Serum M-spike</text>
<line x1="375.80" y1="282.30" x2="385.40" y2="282.30" stroke="#335487" stroke-width="1.1"/>
<rect x="379.00" y="280.50" width="3.6" height="3.6" fill="#335487"/>
<text x="387.60" y="284.60" font-size="7.6" text-anchor="start" fill="#0d0d0d" textLength="11.60" lengthAdjust="spacingAndGlyphs">IgG</text>
<text x="270.60" y="343.70" font-size="10.4" text-anchor="start" fill="#0d0d0d">E</text>
<text x="330.70" y="343.90" font-size="9.8" text-anchor="start" fill="#0d0d0d" textLength="32.40" lengthAdjust="spacingAndGlyphs">Baseline</text>
<path d="M299.00,440.00 L299.00,425.80 L300.00,431.00 L300.80,435.30 L302.00,432.50 L302.90,431.00 L304.20,429.70 L305.50,430.10 L306.80,429.70 L308.10,427.90 L309.40,424.00 L310.30,421.90 L311.60,420.60 L312.90,419.30 L313.70,414.50 L314.90,412.40 L316.30,411.10 L317.50,408.50 L318.50,405.00 L319.20,400.00 L320.30,392.80 L321.50,385.90 L322.30,382.90 L323.50,386.80 L324.90,379.90 L325.90,381.90 L327.30,375.90 L328.90,371.50 L330.20,370.90 L331.50,368.90 L332.30,371.90 L333.50,369.50 L334.50,368.90 L335.80,374.90 L337.40,381.90 L338.80,389.80 L340.20,401.80 L341.80,404.80 L343.40,409.80 L345.30,414.70 L346.70,415.70 L347.70,412.80 L348.90,414.70 L350.30,422.70 L352.10,429.70 L354.70,435.70 L357.60,439.20 L361.60,440.00 L361.60,440.00 L299.00,440.00 Z" fill="#f0d2c4" fill-opacity="1.0" stroke="none"/>
<path d="M298.80,440.00 L299.90,437.90 L301.20,436.20 L302.50,432.70 L303.80,425.80 L305.10,418.00 L306.00,410.20 L307.00,405.00 L308.00,399.80 L309.00,391.00 L310.00,381.90 L311.00,374.50 L312.00,367.90 L312.80,362.50 L313.50,359.00 L314.30,357.20 L315.00,357.80 L315.50,359.00 L316.20,363.00 L316.90,367.90 L317.90,375.50 L318.90,383.90 L319.90,393.00 L320.90,401.80 L321.90,410.00 L322.90,417.70 L323.90,424.00 L324.90,429.70 L325.90,433.70 L326.90,436.70 L328.00,438.50 L328.90,439.40 L330.00,440.00 L330.00,440.00 L298.80,440.00 Z" fill="#9e98c2" fill-opacity="0.42" stroke="none"/>
<path d="M299.00,440.00 L299.00,425.80 L300.00,431.00 L300.80,435.30 L302.00,432.50 L302.90,431.00 L304.20,429.70 L305.50,430.10 L306.80,429.70 L308.10,427.90 L309.40,424.00 L310.30,421.90 L311.60,420.60 L312.90,419.30 L313.70,414.50 L314.90,412.40 L316.30,411.10 L317.50,408.50 L318.50,405.00 L319.20,400.00 L320.30,392.80 L321.50,385.90 L322.30,382.90 L323.50,386.80 L324.90,379.90 L325.90,381.90 L327.30,375.90 L328.90,371.50 L330.20,370.90 L331.50,368.90 L332.30,371.90 L333.50,369.50 L334.50,368.90 L335.80,374.90 L337.40,381.90 L338.80,389.80 L340.20,401.80 L341.80,404.80 L343.40,409.80 L345.30,414.70 L346.70,415.70 L347.70,412.80 L348.90,414.70 L350.30,422.70 L352.10,429.70 L354.70,435.70 L357.60,439.20 L361.60,440.00" fill="none" stroke="#a3243b" stroke-width="1.05" stroke-linejoin="round"/>
<path d="M298.80,440.00 L299.90,437.90 L301.20,436.20 L302.50,432.70 L303.80,425.80 L305.10,418.00 L306.00,410.20 L307.00,405.00 L308.00,399.80 L309.00,391.00 L310.00,381.90 L311.00,374.50 L312.00,367.90 L312.80,362.50 L313.50,359.00 L314.30,357.20 L315.00,357.80 L315.50,359.00 L316.20,363.00 L316.90,367.90 L317.90,375.50 L318.90,383.90 L319.90,393.00 L320.90,401.80 L321.90,410.00 L322.90,417.70 L323.90,424.00 L324.90,429.70 L325.90,433.70 L326.90,436.70 L328.00,438.50 L328.90,439.40 L330.00,440.00" fill="none" stroke="#365782" stroke-width="1.05" stroke-linejoin="round"/>
<rect x="298.50" y="349.30" width="96.30" height="90.70" fill="none" stroke="#1a1a1a" stroke-width="1.0"/>
<line x1="295.30" y1="440.00" x2="298.50" y2="440.00" stroke="#1a1a1a" stroke-width="0.8"/>
<text x="292.60" y="442.80" font-size="8.1" text-anchor="end" fill="#0d0d0d" textLength="4.15" lengthAdjust="spacingAndGlyphs">0</text>
<line x1="296.90" y1="435.79" x2="298.50" y2="435.79" stroke="#1a1a1a" stroke-width="0.8"/>
<line x1="296.90" y1="431.57" x2="298.50" y2="431.57" stroke="#1a1a1a" stroke-width="0.8"/>
<line x1="296.90" y1="427.36" x2="298.50" y2="427.36" stroke="#1a1a1a" stroke-width="0.8"/>
<line x1="295.30" y1="423.15" x2="298.50" y2="423.15" stroke="#1a1a1a" stroke-width="0.8"/>
<text x="292.60" y="425.95" font-size="8.1" text-anchor="end" fill="#0d0d0d" textLength="8.10" lengthAdjust="spacingAndGlyphs">20</text>
<line x1="296.90" y1="418.94" x2="298.50" y2="418.94" stroke="#1a1a1a" stroke-width="0.8"/>
<line x1="296.90" y1="414.73" x2="298.50" y2="414.73" stroke="#1a1a1a" stroke-width="0.8"/>
<line x1="296.90" y1="410.51" x2="298.50" y2="410.51" stroke="#1a1a1a" stroke-width="0.8"/>
<line x1="295.30" y1="406.30" x2="298.50" y2="406.30" stroke="#1a1a1a" stroke-width="0.8"/>
<text x="292.60" y="409.10" font-size="8.1" text-anchor="end" fill="#0d0d0d" textLength="8.10" lengthAdjust="spacingAndGlyphs">40</text>
<line x1="296.90" y1="402.09" x2="298.50" y2="402.09" stroke="#1a1a1a" stroke-width="0.8"/>
<line x1="296.90" y1="397.88" x2="298.50" y2="397.88" stroke="#1a1a1a" stroke-width="0.8"/>
<line x1="296.90" y1="393.66" x2="298.50" y2="393.66" stroke="#1a1a1a" stroke-width="0.8"/>
<line x1="295.30" y1="389.45" x2="298.50" y2="389.45" stroke="#1a1a1a" stroke-width="0.8"/>
<text x="292.60" y="392.25" font-size="8.1" text-anchor="end" fill="#0d0d0d" textLength="8.10" lengthAdjust="spacingAndGlyphs">60</text>
<line x1="296.90" y1="385.24" x2="298.50" y2="385.24" stroke="#1a1a1a" stroke-width="0.8"/>
<line x1="296.90" y1="381.02" x2="298.50" y2="381.02" stroke="#1a1a1a" stroke-width="0.8"/>
<line x1="296.90" y1="376.81" x2="298.50" y2="376.81" stroke="#1a1a1a" stroke-width="0.8"/>
<line x1="295.30" y1="372.60" x2="298.50" y2="372.60" stroke="#1a1a1a" stroke-width="0.8"/>
<text x="292.60" y="375.40" font-size="8.1" text-anchor="end" fill="#0d0d0d" textLength="8.10" lengthAdjust="spacingAndGlyphs">80</text>
<line x1="296.90" y1="368.39" x2="298.50" y2="368.39" stroke="#1a1a1a" stroke-width="0.8"/>
<line x1="296.90" y1="364.17" x2="298.50" y2="364.17" stroke="#1a1a1a" stroke-width="0.8"/>
<line x1="296.90" y1="359.96" x2="298.50" y2="359.96" stroke="#1a1a1a" stroke-width="0.8"/>
<line x1="295.30" y1="355.75" x2="298.50" y2="355.75" stroke="#1a1a1a" stroke-width="0.8"/>
<text x="292.60" y="358.55" font-size="8.1" text-anchor="end" fill="#0d0d0d" textLength="12.05" lengthAdjust="spacingAndGlyphs">100</text>
<line x1="296.90" y1="351.54" x2="298.50" y2="351.54" stroke="#1a1a1a" stroke-width="0.8"/>
<line x1="320.56" y1="440.00" x2="320.56" y2="441.60" stroke="#1a1a1a" stroke-width="0.7"/>
<line x1="306.84" y1="440.00" x2="306.84" y2="441.60" stroke="#1a1a1a" stroke-width="0.7"/>
<line x1="325.52" y1="440.00" x2="325.52" y2="441.60" stroke="#1a1a1a" stroke-width="0.7"/>
<line x1="301.88" y1="440.00" x2="301.88" y2="441.60" stroke="#1a1a1a" stroke-width="0.7"/>
<line x1="329.04" y1="440.00" x2="329.04" y2="441.60" stroke="#1a1a1a" stroke-width="0.7"/>
<line x1="331.69" y1="440.00" x2="331.69" y2="441.60" stroke="#1a1a1a" stroke-width="0.7"/>
<line x1="333.80" y1="440.00" x2="333.80" y2="441.60" stroke="#1a1a1a" stroke-width="0.7"/>
<line x1="335.55" y1="440.00" x2="335.55" y2="441.60" stroke="#1a1a1a" stroke-width="0.7"/>
<line x1="337.04" y1="440.00" x2="337.04" y2="441.60" stroke="#1a1a1a" stroke-width="0.7"/>
<line x1="338.34" y1="440.00" x2="338.34" y2="441.60" stroke="#1a1a1a" stroke-width="0.7"/>
<line x1="339.49" y1="440.00" x2="339.49" y2="441.60" stroke="#1a1a1a" stroke-width="0.7"/>
<line x1="340.52" y1="440.00" x2="340.52" y2="442.90" stroke="#1a1a1a" stroke-width="0.8"/>
<line x1="347.34" y1="440.00" x2="347.34" y2="441.60" stroke="#1a1a1a" stroke-width="0.7"/>
<line x1="351.34" y1="440.00" x2="351.34" y2="441.60" stroke="#1a1a1a" stroke-width="0.7"/>
<line x1="354.18" y1="440.00" x2="354.18" y2="441.60" stroke="#1a1a1a" stroke-width="0.7"/>
<line x1="356.38" y1="440.00" x2="356.38" y2="441.60" stroke="#1a1a1a" stroke-width="0.7"/>
<line x1="358.18" y1="440.00" x2="358.18" y2="441.60" stroke="#1a1a1a" stroke-width="0.7"/>
<line x1="359.71" y1="440.00" x2="359.71" y2="441.60" stroke="#1a1a1a" stroke-width="0.7"/>
<line x1="361.03" y1="440.00" x2="361.03" y2="441.60" stroke="#1a1a1a" stroke-width="0.7"/>
<line x1="362.19" y1="440.00" x2="362.19" y2="441.60" stroke="#1a1a1a" stroke-width="0.7"/>
<line x1="363.23" y1="440.00" x2="363.23" y2="442.90" stroke="#1a1a1a" stroke-width="0.8"/>
<line x1="370.08" y1="440.00" x2="370.08" y2="441.60" stroke="#1a1a1a" stroke-width="0.7"/>
<line x1="374.08" y1="440.00" x2="374.08" y2="441.60" stroke="#1a1a1a" stroke-width="0.7"/>
<line x1="376.93" y1="440.00" x2="376.93" y2="441.60" stroke="#1a1a1a" stroke-width="0.7"/>
<line x1="379.13" y1="440.00" x2="379.13" y2="441.60" stroke="#1a1a1a" stroke-width="0.7"/>
<line x1="380.93" y1="440.00" x2="380.93" y2="441.60" stroke="#1a1a1a" stroke-width="0.7"/>
<line x1="382.46" y1="440.00" x2="382.46" y2="441.60" stroke="#1a1a1a" stroke-width="0.7"/>
<line x1="383.77" y1="440.00" x2="383.77" y2="441.60" stroke="#1a1a1a" stroke-width="0.7"/>
<line x1="384.94" y1="440.00" x2="384.94" y2="441.60" stroke="#1a1a1a" stroke-width="0.7"/>
<line x1="385.98" y1="440.00" x2="385.98" y2="442.90" stroke="#1a1a1a" stroke-width="0.8"/>
<line x1="392.83" y1="440.00" x2="392.83" y2="441.60" stroke="#1a1a1a" stroke-width="0.7"/>
<line x1="313.70" y1="440.00" x2="313.70" y2="442.90" stroke="#1a1a1a" stroke-width="0.8"/>
<text x="313.70" y="452.70" font-size="8.1" text-anchor="middle" fill="#0d0d0d" textLength="4.10" lengthAdjust="spacingAndGlyphs">0</text>
<text x="335.55" y="452.60" font-size="8.1" text-anchor="start" fill="#0d0d0d" textLength="7.30" lengthAdjust="spacingAndGlyphs">10</text>
<text x="343.05" y="449.60" font-size="5.0" text-anchor="start" fill="#0d0d0d" textLength="2.60" lengthAdjust="spacingAndGlyphs">3</text>
<text x="359.05" y="452.60" font-size="8.1" text-anchor="start" fill="#0d0d0d" textLength="7.30" lengthAdjust="spacingAndGlyphs">10</text>
<text x="366.55" y="449.60" font-size="5.0" text-anchor="start" fill="#0d0d0d" textLength="2.60" lengthAdjust="spacingAndGlyphs">4</text>
<text x="380.95" y="452.60" font-size="8.1" text-anchor="start" fill="#0d0d0d" textLength="7.30" lengthAdjust="spacingAndGlyphs">10</text>
<text x="388.45" y="449.60" font-size="5.0" text-anchor="start" fill="#0d0d0d" textLength="2.60" lengthAdjust="spacingAndGlyphs">5</text>
<text x="451.60" y="343.80" font-size="9.8" text-anchor="start" fill="#0d0d0d" textLength="27.00" lengthAdjust="spacingAndGlyphs">Day 79</text>
<path d="M420.00,440.00 L424.00,439.60 L430.00,439.40 L434.00,439.20 L437.90,438.60 L441.90,437.60 L445.00,437.40 L447.90,437.20 L449.20,436.20 L450.30,434.70 L451.10,431.50 L451.90,427.70 L452.70,422.00 L453.50,415.70 L454.20,409.60 L454.80,403.80 L455.50,398.60 L456.20,393.80 L456.80,390.00 L457.40,386.90 L457.90,386.30 L458.40,386.30 L458.90,388.50 L459.40,390.80 L459.90,388.50 L460.40,386.90 L460.90,386.20 L461.40,385.90 L462.10,387.20 L462.80,388.80 L463.50,390.60 L464.20,392.80 L465.00,396.20 L465.80,399.80 L466.60,402.90 L467.40,405.80 L468.10,408.30 L468.80,410.80 L469.50,413.20 L470.20,415.70 L471.00,417.70 L471.80,419.70 L472.60,422.20 L473.40,424.70 L474.10,426.80 L474.80,428.70 L475.50,429.80 L476.20,430.70 L477.00,432.20 L477.80,433.70 L478.50,435.60 L479.30,437.20 L480.50,438.40 L481.70,439.20 L484.00,439.60 L487.70,439.60 L490.00,440.00 L490.00,440.00 L420.00,440.00 Z" fill="#f0d2c4" fill-opacity="1.0" stroke="none"/>
<path d="M419.00,440.00 L420.00,439.60 L422.00,437.60 L424.00,433.70 L426.00,425.70 L427.60,413.70 L429.00,397.80 L430.30,379.90 L431.10,372.00 L431.90,367.90 L433.30,362.00 L434.10,360.60 L434.90,360.40 L435.70,360.80 L436.50,361.60 L437.20,363.20 L437.90,365.90 L438.60,370.00 L439.30,375.90 L439.80,382.00 L440.30,389.80 L440.90,398.00 L441.50,405.80 L442.20,413.00 L442.90,419.70 L443.60,424.50 L444.30,428.70 L445.10,432.00 L445.90,434.70 L446.90,437.00 L447.90,438.60 L449.90,440.00 L449.90,440.00 L419.00,440.00 Z" fill="#9e98c2" fill-opacity="0.42" stroke="none"/>
<path d="M420.00,440.00 L424.00,439.60 L430.00,439.40 L434.00,439.20 L437.90,438.60 L441.90,437.60 L445.00,437.40 L447.90,437.20 L449.20,436.20 L450.30,434.70 L451.10,431.50 L451.90,427.70 L452.70,422.00 L453.50,415.70 L454.20,409.60 L454.80,403.80 L455.50,398.60 L456.20,393.80 L456.80,390.00 L457.40,386.90 L457.90,386.30 L458.40,386.30 L458.90,388.50 L459.40,390.80 L459.90,388.50 L460.40,386.90 L460.90,386.20 L461.40,385.90 L462.10,387.20 L462.80,388.80 L463.50,390.60 L464.20,392.80 L465.00,396.20 L465.80,399.80 L466.60,402.90 L467.40,405.80 L468.10,408.30 L468.80,410.80 L469.50,413.20 L470.20,415.70 L471.00,417.70 L471.80,419.70 L472.60,422.20 L473.40,424.70 L474.10,426.80 L474.80,428.70 L475.50,429.80 L476.20,430.70 L477.00,432.20 L477.80,433.70 L478.50,435.60 L479.30,437.20 L480.50,438.40 L481.70,439.20 L484.00,439.60 L487.70,439.60 L490.00,440.00" fill="none" stroke="#a3243b" stroke-width="1.05" stroke-linejoin="round"/>
<path d="M419.00,440.00 L420.00,439.60 L422.00,437.60 L424.00,433.70 L426.00,425.70 L427.60,413.70 L429.00,397.80 L430.30,379.90 L431.10,372.00 L431.90,367.90 L433.30,362.00 L434.10,360.60 L434.90,360.40 L435.70,360.80 L436.50,361.60 L437.20,363.20 L437.90,365.90 L438.60,370.00 L439.30,375.90 L439.80,382.00 L440.30,389.80 L440.90,398.00 L441.50,405.80 L442.20,413.00 L442.90,419.70 L443.60,424.50 L444.30,428.70 L445.10,432.00 L445.90,434.70 L446.90,437.00 L447.90,438.60 L449.90,440.00" fill="none" stroke="#365782" stroke-width="1.05" stroke-linejoin="round"/>
<rect x="417.30" y="349.40" width="96.00" height="90.60" fill="none" stroke="#1a1a1a" stroke-width="1.0"/>
<line x1="414.10" y1="440.00" x2="417.30" y2="440.00" stroke="#1a1a1a" stroke-width="0.8"/>
<text x="411.40" y="442.80" font-size="8.1" text-anchor="end" fill="#0d0d0d" textLength="4.15" lengthAdjust="spacingAndGlyphs">0</text>
<line x1="415.70" y1="435.79" x2="417.30" y2="435.79" stroke="#1a1a1a" stroke-width="0.8"/>
<line x1="415.70" y1="431.57" x2="417.30" y2="431.57" stroke="#1a1a1a" stroke-width="0.8"/>
<line x1="415.70" y1="427.36" x2="417.30" y2="427.36" stroke="#1a1a1a" stroke-width="0.8"/>
<line x1="414.10" y1="423.15" x2="417.30" y2="423.15" stroke="#1a1a1a" stroke-width="0.8"/>
<text x="411.40" y="425.95" font-size="8.1" text-anchor="end" fill="#0d0d0d" textLength="8.10" lengthAdjust="spacingAndGlyphs">20</text>
<line x1="415.70" y1="418.94" x2="417.30" y2="418.94" stroke="#1a1a1a" stroke-width="0.8"/>
<line x1="415.70" y1="414.73" x2="417.30" y2="414.73" stroke="#1a1a1a" stroke-width="0.8"/>
<line x1="415.70" y1="410.51" x2="417.30" y2="410.51" stroke="#1a1a1a" stroke-width="0.8"/>
<line x1="414.10" y1="406.30" x2="417.30" y2="406.30" stroke="#1a1a1a" stroke-width="0.8"/>
<text x="411.40" y="409.10" font-size="8.1" text-anchor="end" fill="#0d0d0d" textLength="8.10" lengthAdjust="spacingAndGlyphs">40</text>
<line x1="415.70" y1="402.09" x2="417.30" y2="402.09" stroke="#1a1a1a" stroke-width="0.8"/>
<line x1="415.70" y1="397.88" x2="417.30" y2="397.88" stroke="#1a1a1a" stroke-width="0.8"/>
<line x1="415.70" y1="393.66" x2="417.30" y2="393.66" stroke="#1a1a1a" stroke-width="0.8"/>
<line x1="414.10" y1="389.45" x2="417.30" y2="389.45" stroke="#1a1a1a" stroke-width="0.8"/>
<text x="411.40" y="392.25" font-size="8.1" text-anchor="end" fill="#0d0d0d" textLength="8.10" lengthAdjust="spacingAndGlyphs">60</text>
<line x1="415.70" y1="385.24" x2="417.30" y2="385.24" stroke="#1a1a1a" stroke-width="0.8"/>
<line x1="415.70" y1="381.02" x2="417.30" y2="381.02" stroke="#1a1a1a" stroke-width="0.8"/>
<line x1="415.70" y1="376.81" x2="417.30" y2="376.81" stroke="#1a1a1a" stroke-width="0.8"/>
<line x1="414.10" y1="372.60" x2="417.30" y2="372.60" stroke="#1a1a1a" stroke-width="0.8"/>
<text x="411.40" y="375.40" font-size="8.1" text-anchor="end" fill="#0d0d0d" textLength="8.10" lengthAdjust="spacingAndGlyphs">80</text>
<line x1="415.70" y1="368.39" x2="417.30" y2="368.39" stroke="#1a1a1a" stroke-width="0.8"/>
<line x1="415.70" y1="364.17" x2="417.30" y2="364.17" stroke="#1a1a1a" stroke-width="0.8"/>
<line x1="415.70" y1="359.96" x2="417.30" y2="359.96" stroke="#1a1a1a" stroke-width="0.8"/>
<line x1="414.10" y1="355.75" x2="417.30" y2="355.75" stroke="#1a1a1a" stroke-width="0.8"/>
<text x="411.40" y="358.55" font-size="8.1" text-anchor="end" fill="#0d0d0d" textLength="12.05" lengthAdjust="spacingAndGlyphs">100</text>
<line x1="415.70" y1="351.54" x2="417.30" y2="351.54" stroke="#1a1a1a" stroke-width="0.8"/>
<line x1="436.56" y1="440.00" x2="436.56" y2="441.60" stroke="#1a1a1a" stroke-width="0.7"/>
<line x1="422.84" y1="440.00" x2="422.84" y2="441.60" stroke="#1a1a1a" stroke-width="0.7"/>
<line x1="441.52" y1="440.00" x2="441.52" y2="441.60" stroke="#1a1a1a" stroke-width="0.7"/>
<line x1="417.88" y1="440.00" x2="417.88" y2="441.60" stroke="#1a1a1a" stroke-width="0.7"/>
<line x1="445.04" y1="440.00" x2="445.04" y2="441.60" stroke="#1a1a1a" stroke-width="0.7"/>
<line x1="447.69" y1="440.00" x2="447.69" y2="441.60" stroke="#1a1a1a" stroke-width="0.7"/>
<line x1="449.80" y1="440.00" x2="449.80" y2="441.60" stroke="#1a1a1a" stroke-width="0.7"/>
<line x1="451.55" y1="440.00" x2="451.55" y2="441.60" stroke="#1a1a1a" stroke-width="0.7"/>
<line x1="453.04" y1="440.00" x2="453.04" y2="441.60" stroke="#1a1a1a" stroke-width="0.7"/>
<line x1="454.34" y1="440.00" x2="454.34" y2="441.60" stroke="#1a1a1a" stroke-width="0.7"/>
<line x1="455.49" y1="440.00" x2="455.49" y2="441.60" stroke="#1a1a1a" stroke-width="0.7"/>
<line x1="456.52" y1="440.00" x2="456.52" y2="442.90" stroke="#1a1a1a" stroke-width="0.8"/>
<line x1="463.34" y1="440.00" x2="463.34" y2="441.60" stroke="#1a1a1a" stroke-width="0.7"/>
<line x1="467.34" y1="440.00" x2="467.34" y2="441.60" stroke="#1a1a1a" stroke-width="0.7"/>
<line x1="470.18" y1="440.00" x2="470.18" y2="441.60" stroke="#1a1a1a" stroke-width="0.7"/>
<line x1="472.38" y1="440.00" x2="472.38" y2="441.60" stroke="#1a1a1a" stroke-width="0.7"/>
<line x1="474.18" y1="440.00" x2="474.18" y2="441.60" stroke="#1a1a1a" stroke-width="0.7"/>
<line x1="475.71" y1="440.00" x2="475.71" y2="441.60" stroke="#1a1a1a" stroke-width="0.7"/>
<line x1="477.03" y1="440.00" x2="477.03" y2="441.60" stroke="#1a1a1a" stroke-width="0.7"/>
<line x1="478.19" y1="440.00" x2="478.19" y2="441.60" stroke="#1a1a1a" stroke-width="0.7"/>
<line x1="479.23" y1="440.00" x2="479.23" y2="442.90" stroke="#1a1a1a" stroke-width="0.8"/>
<line x1="486.08" y1="440.00" x2="486.08" y2="441.60" stroke="#1a1a1a" stroke-width="0.7"/>
<line x1="490.08" y1="440.00" x2="490.08" y2="441.60" stroke="#1a1a1a" stroke-width="0.7"/>
<line x1="492.93" y1="440.00" x2="492.93" y2="441.60" stroke="#1a1a1a" stroke-width="0.7"/>
<line x1="495.13" y1="440.00" x2="495.13" y2="441.60" stroke="#1a1a1a" stroke-width="0.7"/>
<line x1="496.93" y1="440.00" x2="496.93" y2="441.60" stroke="#1a1a1a" stroke-width="0.7"/>
<line x1="498.46" y1="440.00" x2="498.46" y2="441.60" stroke="#1a1a1a" stroke-width="0.7"/>
<line x1="499.77" y1="440.00" x2="499.77" y2="441.60" stroke="#1a1a1a" stroke-width="0.7"/>
<line x1="500.94" y1="440.00" x2="500.94" y2="441.60" stroke="#1a1a1a" stroke-width="0.7"/>
<line x1="501.98" y1="440.00" x2="501.98" y2="442.90" stroke="#1a1a1a" stroke-width="0.8"/>
<line x1="508.83" y1="440.00" x2="508.83" y2="441.60" stroke="#1a1a1a" stroke-width="0.7"/>
<line x1="429.70" y1="440.00" x2="429.70" y2="442.90" stroke="#1a1a1a" stroke-width="0.8"/>
<text x="429.70" y="452.70" font-size="8.1" text-anchor="middle" fill="#0d0d0d" textLength="4.10" lengthAdjust="spacingAndGlyphs">0</text>
<text x="454.65" y="452.60" font-size="8.1" text-anchor="start" fill="#0d0d0d" textLength="7.30" lengthAdjust="spacingAndGlyphs">10</text>
<text x="462.15" y="449.60" font-size="5.0" text-anchor="start" fill="#0d0d0d" textLength="2.60" lengthAdjust="spacingAndGlyphs">3</text>
<text x="477.35" y="452.60" font-size="8.1" text-anchor="start" fill="#0d0d0d" textLength="7.30" lengthAdjust="spacingAndGlyphs">10</text>
<text x="484.85" y="449.60" font-size="5.0" text-anchor="start" fill="#0d0d0d" textLength="2.60" lengthAdjust="spacingAndGlyphs">4</text>
<text x="499.05" y="452.60" font-size="8.1" text-anchor="start" fill="#0d0d0d" textLength="7.30" lengthAdjust="spacingAndGlyphs">10</text>
<text x="506.55" y="449.60" font-size="5.0" text-anchor="start" fill="#0d0d0d" textLength="2.60" lengthAdjust="spacingAndGlyphs">5</text>
<g shape-rendering="crispEdges">
<rect x="1" y="1" width="518" height="1" fill="#b8b8b8"/>
<rect x="1" y="1" width="1" height="460" fill="#b8b8b8"/>
<rect x="518" y="1" width="1" height="460" fill="#b0b0b0"/>
<rect x="1" y="460" width="518" height="1" fill="#b0b0b0"/>
<rect x="0" y="0" width="520" height="1" fill="#0a0a0a"/>
<rect x="0" y="0" width="1" height="462" fill="#474747"/>
<rect x="519" y="0" width="1" height="462" fill="#444444"/>
<rect x="0" y="461" width="520" height="1" fill="#3c3c3c"/>
</g>
</svg></div></body></html>
